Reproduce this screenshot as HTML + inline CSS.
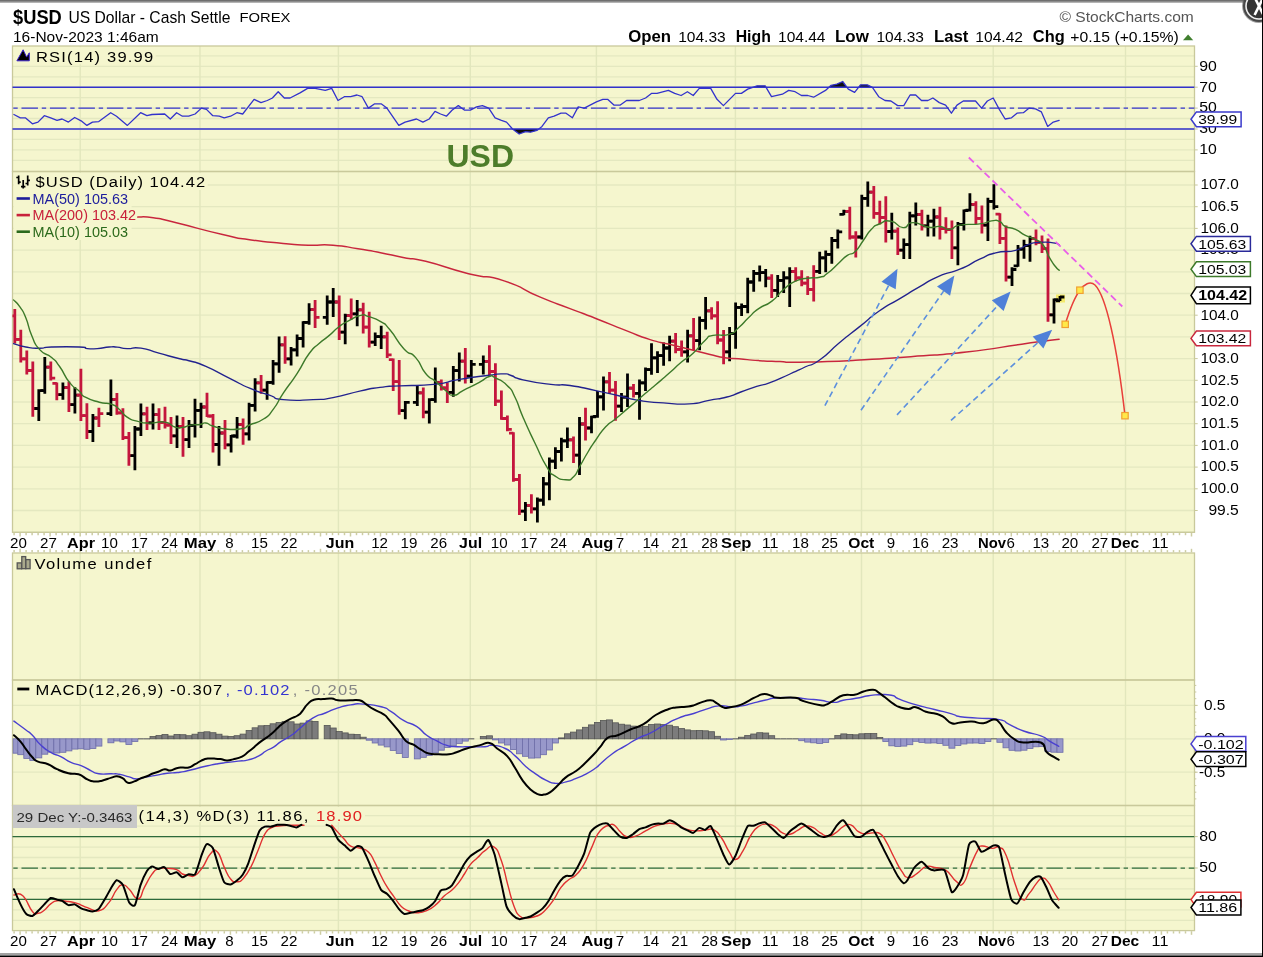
<!DOCTYPE html><html><head><meta charset="utf-8"><title>$USD</title>
<style>html,body{margin:0;padding:0;background:#fff;}body{width:1263px;height:957px;overflow:hidden;font-family:"Liberation Sans",sans-serif;}svg{display:block;will-change:transform;}text{font-family:"Liberation Sans",sans-serif;}</style></head><body>
<svg width="1263" height="957" viewBox="0 0 1263 957">
<rect width="1263" height="957" fill="#fff"/>
<defs><filter id="bl" x="0" y="0" width="1263" height="957" filterUnits="userSpaceOnUse"><feGaussianBlur stdDeviation="0.42"/></filter></defs><g filter="url(#bl)">
<rect x="12.5" y="46.0" width="1182.0" height="125.5" fill="#f5f6ce"/>
<rect x="12.5" y="171.5" width="1182.0" height="360.8" fill="#f5f6ce"/>
<rect x="12.5" y="553.0" width="1182.0" height="127.0" fill="#f5f6ce"/>
<rect x="12.5" y="680.0" width="1182.0" height="125.5" fill="#f5f6ce"/>
<rect x="12.5" y="805.5" width="1182.0" height="125.1" fill="#f5f6ce"/>
<line x1="12.5" x2="1194.5" y1="160.3" y2="160.3" stroke="#e4e8c0" stroke-width="1.3"/>
<line x1="12.5" x2="1194.5" y1="149.9" y2="149.9" stroke="#e4e8c0" stroke-width="1.3"/>
<line x1="12.5" x2="1194.5" y1="139.4" y2="139.4" stroke="#e4e8c0" stroke-width="1.3"/>
<line x1="12.5" x2="1194.5" y1="129.0" y2="129.0" stroke="#e4e8c0" stroke-width="1.3"/>
<line x1="12.5" x2="1194.5" y1="118.5" y2="118.5" stroke="#e4e8c0" stroke-width="1.3"/>
<line x1="12.5" x2="1194.5" y1="108.1" y2="108.1" stroke="#e4e8c0" stroke-width="1.3"/>
<line x1="12.5" x2="1194.5" y1="97.6" y2="97.6" stroke="#e4e8c0" stroke-width="1.3"/>
<line x1="12.5" x2="1194.5" y1="87.2" y2="87.2" stroke="#e4e8c0" stroke-width="1.3"/>
<line x1="12.5" x2="1194.5" y1="76.8" y2="76.8" stroke="#e4e8c0" stroke-width="1.3"/>
<line x1="12.5" x2="1194.5" y1="66.3" y2="66.3" stroke="#e4e8c0" stroke-width="1.3"/>
<line x1="12.5" x2="1194.5" y1="55.8" y2="55.8" stroke="#e4e8c0" stroke-width="1.3"/>
<line x1="12.5" x2="1194.5" y1="532.2" y2="532.2" stroke="#e4e8c0" stroke-width="1.3"/>
<line x1="12.5" x2="1194.5" y1="510.5" y2="510.5" stroke="#e4e8c0" stroke-width="1.3"/>
<line x1="12.5" x2="1194.5" y1="488.8" y2="488.8" stroke="#e4e8c0" stroke-width="1.3"/>
<line x1="12.5" x2="1194.5" y1="467.1" y2="467.1" stroke="#e4e8c0" stroke-width="1.3"/>
<line x1="12.5" x2="1194.5" y1="445.4" y2="445.4" stroke="#e4e8c0" stroke-width="1.3"/>
<line x1="12.5" x2="1194.5" y1="423.7" y2="423.7" stroke="#e4e8c0" stroke-width="1.3"/>
<line x1="12.5" x2="1194.5" y1="402.0" y2="402.0" stroke="#e4e8c0" stroke-width="1.3"/>
<line x1="12.5" x2="1194.5" y1="380.3" y2="380.3" stroke="#e4e8c0" stroke-width="1.3"/>
<line x1="12.5" x2="1194.5" y1="358.6" y2="358.6" stroke="#e4e8c0" stroke-width="1.3"/>
<line x1="12.5" x2="1194.5" y1="336.9" y2="336.9" stroke="#e4e8c0" stroke-width="1.3"/>
<line x1="12.5" x2="1194.5" y1="315.2" y2="315.2" stroke="#e4e8c0" stroke-width="1.3"/>
<line x1="12.5" x2="1194.5" y1="293.5" y2="293.5" stroke="#e4e8c0" stroke-width="1.3"/>
<line x1="12.5" x2="1194.5" y1="271.8" y2="271.8" stroke="#e4e8c0" stroke-width="1.3"/>
<line x1="12.5" x2="1194.5" y1="250.1" y2="250.1" stroke="#e4e8c0" stroke-width="1.3"/>
<line x1="12.5" x2="1194.5" y1="228.4" y2="228.4" stroke="#e4e8c0" stroke-width="1.3"/>
<line x1="12.5" x2="1194.5" y1="206.7" y2="206.7" stroke="#e4e8c0" stroke-width="1.3"/>
<line x1="12.5" x2="1194.5" y1="185.0" y2="185.0" stroke="#e4e8c0" stroke-width="1.3"/>
<line x1="12.5" x2="1194.5" y1="772.2" y2="772.2" stroke="#e4e8c0" stroke-width="1.3"/>
<line x1="12.5" x2="1194.5" y1="738.8" y2="738.8" stroke="#e4e8c0" stroke-width="1.3"/>
<line x1="12.5" x2="1194.5" y1="705.4" y2="705.4" stroke="#e4e8c0" stroke-width="1.3"/>
<line x1="12.5" x2="1194.5" y1="920.3" y2="920.3" stroke="#e4e8c0" stroke-width="1.3"/>
<line x1="12.5" x2="1194.5" y1="909.8" y2="909.8" stroke="#e4e8c0" stroke-width="1.3"/>
<line x1="12.5" x2="1194.5" y1="899.4" y2="899.4" stroke="#e4e8c0" stroke-width="1.3"/>
<line x1="12.5" x2="1194.5" y1="888.9" y2="888.9" stroke="#e4e8c0" stroke-width="1.3"/>
<line x1="12.5" x2="1194.5" y1="878.5" y2="878.5" stroke="#e4e8c0" stroke-width="1.3"/>
<line x1="12.5" x2="1194.5" y1="868.0" y2="868.0" stroke="#e4e8c0" stroke-width="1.3"/>
<line x1="12.5" x2="1194.5" y1="857.5" y2="857.5" stroke="#e4e8c0" stroke-width="1.3"/>
<line x1="12.5" x2="1194.5" y1="847.1" y2="847.1" stroke="#e4e8c0" stroke-width="1.3"/>
<line x1="12.5" x2="1194.5" y1="836.6" y2="836.6" stroke="#e4e8c0" stroke-width="1.3"/>
<line x1="12.5" x2="1194.5" y1="826.2" y2="826.2" stroke="#e4e8c0" stroke-width="1.3"/>
<line x1="12.5" x2="1194.5" y1="815.7" y2="815.7" stroke="#e4e8c0" stroke-width="1.3"/>
<line x1="80.2" x2="80.2" y1="46.0" y2="171.5" stroke="#e2e7bd" stroke-width="1.4"/>
<line x1="200.0" x2="200.0" y1="46.0" y2="171.5" stroke="#e2e7bd" stroke-width="1.4"/>
<line x1="338.4" x2="338.4" y1="46.0" y2="171.5" stroke="#e2e7bd" stroke-width="1.4"/>
<line x1="470.3" x2="470.3" y1="46.0" y2="171.5" stroke="#e2e7bd" stroke-width="1.4"/>
<line x1="596.4" x2="596.4" y1="46.0" y2="171.5" stroke="#e2e7bd" stroke-width="1.4"/>
<line x1="735.4" x2="735.4" y1="46.0" y2="171.5" stroke="#e2e7bd" stroke-width="1.4"/>
<line x1="861.5" x2="861.5" y1="46.0" y2="171.5" stroke="#e2e7bd" stroke-width="1.4"/>
<line x1="993.2" x2="993.2" y1="46.0" y2="171.5" stroke="#e2e7bd" stroke-width="1.4"/>
<line x1="1125.5" x2="1125.5" y1="46.0" y2="171.5" stroke="#e2e7bd" stroke-width="1.4"/>
<line x1="80.2" x2="80.2" y1="171.5" y2="532.3" stroke="#e2e7bd" stroke-width="1.4"/>
<line x1="200.0" x2="200.0" y1="171.5" y2="532.3" stroke="#e2e7bd" stroke-width="1.4"/>
<line x1="338.4" x2="338.4" y1="171.5" y2="532.3" stroke="#e2e7bd" stroke-width="1.4"/>
<line x1="470.3" x2="470.3" y1="171.5" y2="532.3" stroke="#e2e7bd" stroke-width="1.4"/>
<line x1="596.4" x2="596.4" y1="171.5" y2="532.3" stroke="#e2e7bd" stroke-width="1.4"/>
<line x1="735.4" x2="735.4" y1="171.5" y2="532.3" stroke="#e2e7bd" stroke-width="1.4"/>
<line x1="861.5" x2="861.5" y1="171.5" y2="532.3" stroke="#e2e7bd" stroke-width="1.4"/>
<line x1="993.2" x2="993.2" y1="171.5" y2="532.3" stroke="#e2e7bd" stroke-width="1.4"/>
<line x1="1125.5" x2="1125.5" y1="171.5" y2="532.3" stroke="#e2e7bd" stroke-width="1.4"/>
<line x1="80.2" x2="80.2" y1="553.0" y2="680.0" stroke="#e2e7bd" stroke-width="1.4"/>
<line x1="200.0" x2="200.0" y1="553.0" y2="680.0" stroke="#e2e7bd" stroke-width="1.4"/>
<line x1="338.4" x2="338.4" y1="553.0" y2="680.0" stroke="#e2e7bd" stroke-width="1.4"/>
<line x1="470.3" x2="470.3" y1="553.0" y2="680.0" stroke="#e2e7bd" stroke-width="1.4"/>
<line x1="596.4" x2="596.4" y1="553.0" y2="680.0" stroke="#e2e7bd" stroke-width="1.4"/>
<line x1="735.4" x2="735.4" y1="553.0" y2="680.0" stroke="#e2e7bd" stroke-width="1.4"/>
<line x1="861.5" x2="861.5" y1="553.0" y2="680.0" stroke="#e2e7bd" stroke-width="1.4"/>
<line x1="993.2" x2="993.2" y1="553.0" y2="680.0" stroke="#e2e7bd" stroke-width="1.4"/>
<line x1="1125.5" x2="1125.5" y1="553.0" y2="680.0" stroke="#e2e7bd" stroke-width="1.4"/>
<line x1="80.2" x2="80.2" y1="680.0" y2="805.5" stroke="#e2e7bd" stroke-width="1.4"/>
<line x1="200.0" x2="200.0" y1="680.0" y2="805.5" stroke="#e2e7bd" stroke-width="1.4"/>
<line x1="338.4" x2="338.4" y1="680.0" y2="805.5" stroke="#e2e7bd" stroke-width="1.4"/>
<line x1="470.3" x2="470.3" y1="680.0" y2="805.5" stroke="#e2e7bd" stroke-width="1.4"/>
<line x1="596.4" x2="596.4" y1="680.0" y2="805.5" stroke="#e2e7bd" stroke-width="1.4"/>
<line x1="735.4" x2="735.4" y1="680.0" y2="805.5" stroke="#e2e7bd" stroke-width="1.4"/>
<line x1="861.5" x2="861.5" y1="680.0" y2="805.5" stroke="#e2e7bd" stroke-width="1.4"/>
<line x1="993.2" x2="993.2" y1="680.0" y2="805.5" stroke="#e2e7bd" stroke-width="1.4"/>
<line x1="1125.5" x2="1125.5" y1="680.0" y2="805.5" stroke="#e2e7bd" stroke-width="1.4"/>
<line x1="80.2" x2="80.2" y1="805.5" y2="930.6" stroke="#e2e7bd" stroke-width="1.4"/>
<line x1="200.0" x2="200.0" y1="805.5" y2="930.6" stroke="#e2e7bd" stroke-width="1.4"/>
<line x1="338.4" x2="338.4" y1="805.5" y2="930.6" stroke="#e2e7bd" stroke-width="1.4"/>
<line x1="470.3" x2="470.3" y1="805.5" y2="930.6" stroke="#e2e7bd" stroke-width="1.4"/>
<line x1="596.4" x2="596.4" y1="805.5" y2="930.6" stroke="#e2e7bd" stroke-width="1.4"/>
<line x1="735.4" x2="735.4" y1="805.5" y2="930.6" stroke="#e2e7bd" stroke-width="1.4"/>
<line x1="861.5" x2="861.5" y1="805.5" y2="930.6" stroke="#e2e7bd" stroke-width="1.4"/>
<line x1="993.2" x2="993.2" y1="805.5" y2="930.6" stroke="#e2e7bd" stroke-width="1.4"/>
<line x1="1125.5" x2="1125.5" y1="805.5" y2="930.6" stroke="#e2e7bd" stroke-width="1.4"/>
<rect x="12.5" y="46.0" width="1182.0" height="125.5" fill="none" stroke="#c9c99b" stroke-width="1.3"/>
<rect x="12.5" y="171.5" width="1182.0" height="360.8" fill="none" stroke="#c9c99b" stroke-width="1.3"/>
<rect x="12.5" y="553.0" width="1182.0" height="127.0" fill="none" stroke="#c9c99b" stroke-width="1.3"/>
<rect x="12.5" y="680.0" width="1182.0" height="125.5" fill="none" stroke="#c9c99b" stroke-width="1.3"/>
<rect x="12.5" y="805.5" width="1182.0" height="125.1" fill="none" stroke="#c9c99b" stroke-width="1.3"/>
<line x1="14.1" x2="14.1" y1="532.9" y2="535.2" stroke="#cdcda3" stroke-width="1.5"/>
<line x1="20.1" x2="20.1" y1="532.9" y2="536.5" stroke="#cdcda3" stroke-width="1.5"/>
<line x1="26.1" x2="26.1" y1="532.9" y2="535.2" stroke="#cdcda3" stroke-width="1.5"/>
<line x1="32.1" x2="32.1" y1="532.9" y2="535.2" stroke="#cdcda3" stroke-width="1.5"/>
<line x1="38.1" x2="38.1" y1="532.9" y2="535.2" stroke="#cdcda3" stroke-width="1.5"/>
<line x1="44.1" x2="44.1" y1="532.9" y2="535.2" stroke="#cdcda3" stroke-width="1.5"/>
<line x1="50.1" x2="50.1" y1="532.9" y2="536.5" stroke="#cdcda3" stroke-width="1.5"/>
<line x1="56.1" x2="56.1" y1="532.9" y2="535.2" stroke="#cdcda3" stroke-width="1.5"/>
<line x1="62.2" x2="62.2" y1="532.9" y2="535.2" stroke="#cdcda3" stroke-width="1.5"/>
<line x1="68.2" x2="68.2" y1="532.9" y2="535.2" stroke="#cdcda3" stroke-width="1.5"/>
<line x1="74.2" x2="74.2" y1="532.9" y2="535.2" stroke="#cdcda3" stroke-width="1.5"/>
<line x1="80.2" x2="80.2" y1="532.9" y2="536.5" stroke="#cdcda3" stroke-width="1.5"/>
<line x1="86.2" x2="86.2" y1="532.9" y2="535.2" stroke="#cdcda3" stroke-width="1.5"/>
<line x1="92.2" x2="92.2" y1="532.9" y2="535.2" stroke="#cdcda3" stroke-width="1.5"/>
<line x1="98.2" x2="98.2" y1="532.9" y2="535.2" stroke="#cdcda3" stroke-width="1.5"/>
<line x1="104.2" x2="104.2" y1="532.9" y2="535.2" stroke="#cdcda3" stroke-width="1.5"/>
<line x1="110.2" x2="110.2" y1="532.9" y2="536.5" stroke="#cdcda3" stroke-width="1.5"/>
<line x1="116.2" x2="116.2" y1="532.9" y2="535.2" stroke="#cdcda3" stroke-width="1.5"/>
<line x1="122.2" x2="122.2" y1="532.9" y2="535.2" stroke="#cdcda3" stroke-width="1.5"/>
<line x1="128.2" x2="128.2" y1="532.9" y2="535.2" stroke="#cdcda3" stroke-width="1.5"/>
<line x1="134.2" x2="134.2" y1="532.9" y2="535.2" stroke="#cdcda3" stroke-width="1.5"/>
<line x1="140.2" x2="140.2" y1="532.9" y2="536.5" stroke="#cdcda3" stroke-width="1.5"/>
<line x1="146.3" x2="146.3" y1="532.9" y2="535.2" stroke="#cdcda3" stroke-width="1.5"/>
<line x1="152.3" x2="152.3" y1="532.9" y2="535.2" stroke="#cdcda3" stroke-width="1.5"/>
<line x1="158.3" x2="158.3" y1="532.9" y2="535.2" stroke="#cdcda3" stroke-width="1.5"/>
<line x1="164.3" x2="164.3" y1="532.9" y2="535.2" stroke="#cdcda3" stroke-width="1.5"/>
<line x1="170.3" x2="170.3" y1="532.9" y2="536.5" stroke="#cdcda3" stroke-width="1.5"/>
<line x1="176.3" x2="176.3" y1="532.9" y2="535.2" stroke="#cdcda3" stroke-width="1.5"/>
<line x1="182.3" x2="182.3" y1="532.9" y2="535.2" stroke="#cdcda3" stroke-width="1.5"/>
<line x1="188.3" x2="188.3" y1="532.9" y2="535.2" stroke="#cdcda3" stroke-width="1.5"/>
<line x1="194.3" x2="194.3" y1="532.9" y2="535.2" stroke="#cdcda3" stroke-width="1.5"/>
<line x1="200.3" x2="200.3" y1="532.9" y2="536.5" stroke="#cdcda3" stroke-width="1.5"/>
<line x1="206.3" x2="206.3" y1="532.9" y2="535.2" stroke="#cdcda3" stroke-width="1.5"/>
<line x1="212.3" x2="212.3" y1="532.9" y2="535.2" stroke="#cdcda3" stroke-width="1.5"/>
<line x1="218.3" x2="218.3" y1="532.9" y2="535.2" stroke="#cdcda3" stroke-width="1.5"/>
<line x1="224.3" x2="224.3" y1="532.9" y2="535.2" stroke="#cdcda3" stroke-width="1.5"/>
<line x1="230.4" x2="230.4" y1="532.9" y2="536.5" stroke="#cdcda3" stroke-width="1.5"/>
<line x1="236.4" x2="236.4" y1="532.9" y2="535.2" stroke="#cdcda3" stroke-width="1.5"/>
<line x1="242.4" x2="242.4" y1="532.9" y2="535.2" stroke="#cdcda3" stroke-width="1.5"/>
<line x1="248.4" x2="248.4" y1="532.9" y2="535.2" stroke="#cdcda3" stroke-width="1.5"/>
<line x1="254.4" x2="254.4" y1="532.9" y2="535.2" stroke="#cdcda3" stroke-width="1.5"/>
<line x1="260.4" x2="260.4" y1="532.9" y2="536.5" stroke="#cdcda3" stroke-width="1.5"/>
<line x1="266.4" x2="266.4" y1="532.9" y2="535.2" stroke="#cdcda3" stroke-width="1.5"/>
<line x1="272.4" x2="272.4" y1="532.9" y2="535.2" stroke="#cdcda3" stroke-width="1.5"/>
<line x1="278.4" x2="278.4" y1="532.9" y2="535.2" stroke="#cdcda3" stroke-width="1.5"/>
<line x1="284.4" x2="284.4" y1="532.9" y2="535.2" stroke="#cdcda3" stroke-width="1.5"/>
<line x1="290.4" x2="290.4" y1="532.9" y2="536.5" stroke="#cdcda3" stroke-width="1.5"/>
<line x1="296.4" x2="296.4" y1="532.9" y2="535.2" stroke="#cdcda3" stroke-width="1.5"/>
<line x1="302.4" x2="302.4" y1="532.9" y2="535.2" stroke="#cdcda3" stroke-width="1.5"/>
<line x1="308.4" x2="308.4" y1="532.9" y2="535.2" stroke="#cdcda3" stroke-width="1.5"/>
<line x1="314.4" x2="314.4" y1="532.9" y2="535.2" stroke="#cdcda3" stroke-width="1.5"/>
<line x1="320.5" x2="320.5" y1="532.9" y2="536.5" stroke="#cdcda3" stroke-width="1.5"/>
<line x1="326.5" x2="326.5" y1="532.9" y2="535.2" stroke="#cdcda3" stroke-width="1.5"/>
<line x1="332.5" x2="332.5" y1="532.9" y2="535.2" stroke="#cdcda3" stroke-width="1.5"/>
<line x1="338.5" x2="338.5" y1="532.9" y2="535.2" stroke="#cdcda3" stroke-width="1.5"/>
<line x1="344.5" x2="344.5" y1="532.9" y2="535.2" stroke="#cdcda3" stroke-width="1.5"/>
<line x1="350.5" x2="350.5" y1="532.9" y2="536.5" stroke="#cdcda3" stroke-width="1.5"/>
<line x1="356.5" x2="356.5" y1="532.9" y2="535.2" stroke="#cdcda3" stroke-width="1.5"/>
<line x1="362.5" x2="362.5" y1="532.9" y2="535.2" stroke="#cdcda3" stroke-width="1.5"/>
<line x1="368.5" x2="368.5" y1="532.9" y2="535.2" stroke="#cdcda3" stroke-width="1.5"/>
<line x1="374.5" x2="374.5" y1="532.9" y2="535.2" stroke="#cdcda3" stroke-width="1.5"/>
<line x1="380.5" x2="380.5" y1="532.9" y2="536.5" stroke="#cdcda3" stroke-width="1.5"/>
<line x1="386.5" x2="386.5" y1="532.9" y2="535.2" stroke="#cdcda3" stroke-width="1.5"/>
<line x1="392.5" x2="392.5" y1="532.9" y2="535.2" stroke="#cdcda3" stroke-width="1.5"/>
<line x1="398.5" x2="398.5" y1="532.9" y2="535.2" stroke="#cdcda3" stroke-width="1.5"/>
<line x1="404.6" x2="404.6" y1="532.9" y2="535.2" stroke="#cdcda3" stroke-width="1.5"/>
<line x1="410.6" x2="410.6" y1="532.9" y2="536.5" stroke="#cdcda3" stroke-width="1.5"/>
<line x1="416.6" x2="416.6" y1="532.9" y2="535.2" stroke="#cdcda3" stroke-width="1.5"/>
<line x1="422.6" x2="422.6" y1="532.9" y2="535.2" stroke="#cdcda3" stroke-width="1.5"/>
<line x1="428.6" x2="428.6" y1="532.9" y2="535.2" stroke="#cdcda3" stroke-width="1.5"/>
<line x1="434.6" x2="434.6" y1="532.9" y2="535.2" stroke="#cdcda3" stroke-width="1.5"/>
<line x1="440.6" x2="440.6" y1="532.9" y2="536.5" stroke="#cdcda3" stroke-width="1.5"/>
<line x1="446.6" x2="446.6" y1="532.9" y2="535.2" stroke="#cdcda3" stroke-width="1.5"/>
<line x1="452.6" x2="452.6" y1="532.9" y2="535.2" stroke="#cdcda3" stroke-width="1.5"/>
<line x1="458.6" x2="458.6" y1="532.9" y2="535.2" stroke="#cdcda3" stroke-width="1.5"/>
<line x1="464.6" x2="464.6" y1="532.9" y2="535.2" stroke="#cdcda3" stroke-width="1.5"/>
<line x1="470.6" x2="470.6" y1="532.9" y2="536.5" stroke="#cdcda3" stroke-width="1.5"/>
<line x1="476.6" x2="476.6" y1="532.9" y2="535.2" stroke="#cdcda3" stroke-width="1.5"/>
<line x1="482.6" x2="482.6" y1="532.9" y2="535.2" stroke="#cdcda3" stroke-width="1.5"/>
<line x1="488.7" x2="488.7" y1="532.9" y2="535.2" stroke="#cdcda3" stroke-width="1.5"/>
<line x1="494.7" x2="494.7" y1="532.9" y2="535.2" stroke="#cdcda3" stroke-width="1.5"/>
<line x1="500.7" x2="500.7" y1="532.9" y2="536.5" stroke="#cdcda3" stroke-width="1.5"/>
<line x1="506.7" x2="506.7" y1="532.9" y2="535.2" stroke="#cdcda3" stroke-width="1.5"/>
<line x1="512.7" x2="512.7" y1="532.9" y2="535.2" stroke="#cdcda3" stroke-width="1.5"/>
<line x1="518.7" x2="518.7" y1="532.9" y2="535.2" stroke="#cdcda3" stroke-width="1.5"/>
<line x1="524.7" x2="524.7" y1="532.9" y2="535.2" stroke="#cdcda3" stroke-width="1.5"/>
<line x1="530.7" x2="530.7" y1="532.9" y2="536.5" stroke="#cdcda3" stroke-width="1.5"/>
<line x1="536.7" x2="536.7" y1="532.9" y2="535.2" stroke="#cdcda3" stroke-width="1.5"/>
<line x1="542.7" x2="542.7" y1="532.9" y2="535.2" stroke="#cdcda3" stroke-width="1.5"/>
<line x1="548.7" x2="548.7" y1="532.9" y2="535.2" stroke="#cdcda3" stroke-width="1.5"/>
<line x1="554.7" x2="554.7" y1="532.9" y2="535.2" stroke="#cdcda3" stroke-width="1.5"/>
<line x1="560.7" x2="560.7" y1="532.9" y2="536.5" stroke="#cdcda3" stroke-width="1.5"/>
<line x1="566.7" x2="566.7" y1="532.9" y2="535.2" stroke="#cdcda3" stroke-width="1.5"/>
<line x1="572.8" x2="572.8" y1="532.9" y2="535.2" stroke="#cdcda3" stroke-width="1.5"/>
<line x1="578.8" x2="578.8" y1="532.9" y2="535.2" stroke="#cdcda3" stroke-width="1.5"/>
<line x1="584.8" x2="584.8" y1="532.9" y2="535.2" stroke="#cdcda3" stroke-width="1.5"/>
<line x1="590.8" x2="590.8" y1="532.9" y2="536.5" stroke="#cdcda3" stroke-width="1.5"/>
<line x1="596.8" x2="596.8" y1="532.9" y2="535.2" stroke="#cdcda3" stroke-width="1.5"/>
<line x1="602.8" x2="602.8" y1="532.9" y2="535.2" stroke="#cdcda3" stroke-width="1.5"/>
<line x1="608.8" x2="608.8" y1="532.9" y2="535.2" stroke="#cdcda3" stroke-width="1.5"/>
<line x1="614.8" x2="614.8" y1="532.9" y2="535.2" stroke="#cdcda3" stroke-width="1.5"/>
<line x1="620.8" x2="620.8" y1="532.9" y2="536.5" stroke="#cdcda3" stroke-width="1.5"/>
<line x1="626.8" x2="626.8" y1="532.9" y2="535.2" stroke="#cdcda3" stroke-width="1.5"/>
<line x1="632.8" x2="632.8" y1="532.9" y2="535.2" stroke="#cdcda3" stroke-width="1.5"/>
<line x1="638.8" x2="638.8" y1="532.9" y2="535.2" stroke="#cdcda3" stroke-width="1.5"/>
<line x1="644.8" x2="644.8" y1="532.9" y2="535.2" stroke="#cdcda3" stroke-width="1.5"/>
<line x1="650.8" x2="650.8" y1="532.9" y2="536.5" stroke="#cdcda3" stroke-width="1.5"/>
<line x1="656.8" x2="656.8" y1="532.9" y2="535.2" stroke="#cdcda3" stroke-width="1.5"/>
<line x1="662.9" x2="662.9" y1="532.9" y2="535.2" stroke="#cdcda3" stroke-width="1.5"/>
<line x1="668.9" x2="668.9" y1="532.9" y2="535.2" stroke="#cdcda3" stroke-width="1.5"/>
<line x1="674.9" x2="674.9" y1="532.9" y2="535.2" stroke="#cdcda3" stroke-width="1.5"/>
<line x1="680.9" x2="680.9" y1="532.9" y2="536.5" stroke="#cdcda3" stroke-width="1.5"/>
<line x1="686.9" x2="686.9" y1="532.9" y2="535.2" stroke="#cdcda3" stroke-width="1.5"/>
<line x1="692.9" x2="692.9" y1="532.9" y2="535.2" stroke="#cdcda3" stroke-width="1.5"/>
<line x1="698.9" x2="698.9" y1="532.9" y2="535.2" stroke="#cdcda3" stroke-width="1.5"/>
<line x1="704.9" x2="704.9" y1="532.9" y2="535.2" stroke="#cdcda3" stroke-width="1.5"/>
<line x1="710.9" x2="710.9" y1="532.9" y2="536.5" stroke="#cdcda3" stroke-width="1.5"/>
<line x1="716.9" x2="716.9" y1="532.9" y2="535.2" stroke="#cdcda3" stroke-width="1.5"/>
<line x1="722.9" x2="722.9" y1="532.9" y2="535.2" stroke="#cdcda3" stroke-width="1.5"/>
<line x1="728.9" x2="728.9" y1="532.9" y2="535.2" stroke="#cdcda3" stroke-width="1.5"/>
<line x1="734.9" x2="734.9" y1="532.9" y2="535.2" stroke="#cdcda3" stroke-width="1.5"/>
<line x1="740.9" x2="740.9" y1="532.9" y2="536.5" stroke="#cdcda3" stroke-width="1.5"/>
<line x1="747.0" x2="747.0" y1="532.9" y2="535.2" stroke="#cdcda3" stroke-width="1.5"/>
<line x1="753.0" x2="753.0" y1="532.9" y2="535.2" stroke="#cdcda3" stroke-width="1.5"/>
<line x1="759.0" x2="759.0" y1="532.9" y2="535.2" stroke="#cdcda3" stroke-width="1.5"/>
<line x1="765.0" x2="765.0" y1="532.9" y2="535.2" stroke="#cdcda3" stroke-width="1.5"/>
<line x1="771.0" x2="771.0" y1="532.9" y2="536.5" stroke="#cdcda3" stroke-width="1.5"/>
<line x1="777.0" x2="777.0" y1="532.9" y2="535.2" stroke="#cdcda3" stroke-width="1.5"/>
<line x1="783.0" x2="783.0" y1="532.9" y2="535.2" stroke="#cdcda3" stroke-width="1.5"/>
<line x1="789.0" x2="789.0" y1="532.9" y2="535.2" stroke="#cdcda3" stroke-width="1.5"/>
<line x1="795.0" x2="795.0" y1="532.9" y2="535.2" stroke="#cdcda3" stroke-width="1.5"/>
<line x1="801.0" x2="801.0" y1="532.9" y2="536.5" stroke="#cdcda3" stroke-width="1.5"/>
<line x1="807.0" x2="807.0" y1="532.9" y2="535.2" stroke="#cdcda3" stroke-width="1.5"/>
<line x1="813.0" x2="813.0" y1="532.9" y2="535.2" stroke="#cdcda3" stroke-width="1.5"/>
<line x1="819.0" x2="819.0" y1="532.9" y2="535.2" stroke="#cdcda3" stroke-width="1.5"/>
<line x1="825.0" x2="825.0" y1="532.9" y2="535.2" stroke="#cdcda3" stroke-width="1.5"/>
<line x1="831.1" x2="831.1" y1="532.9" y2="536.5" stroke="#cdcda3" stroke-width="1.5"/>
<line x1="837.1" x2="837.1" y1="532.9" y2="535.2" stroke="#cdcda3" stroke-width="1.5"/>
<line x1="843.1" x2="843.1" y1="532.9" y2="535.2" stroke="#cdcda3" stroke-width="1.5"/>
<line x1="849.1" x2="849.1" y1="532.9" y2="535.2" stroke="#cdcda3" stroke-width="1.5"/>
<line x1="855.1" x2="855.1" y1="532.9" y2="535.2" stroke="#cdcda3" stroke-width="1.5"/>
<line x1="861.1" x2="861.1" y1="532.9" y2="536.5" stroke="#cdcda3" stroke-width="1.5"/>
<line x1="867.1" x2="867.1" y1="532.9" y2="535.2" stroke="#cdcda3" stroke-width="1.5"/>
<line x1="873.1" x2="873.1" y1="532.9" y2="535.2" stroke="#cdcda3" stroke-width="1.5"/>
<line x1="879.1" x2="879.1" y1="532.9" y2="535.2" stroke="#cdcda3" stroke-width="1.5"/>
<line x1="885.1" x2="885.1" y1="532.9" y2="535.2" stroke="#cdcda3" stroke-width="1.5"/>
<line x1="891.1" x2="891.1" y1="532.9" y2="536.5" stroke="#cdcda3" stroke-width="1.5"/>
<line x1="897.1" x2="897.1" y1="532.9" y2="535.2" stroke="#cdcda3" stroke-width="1.5"/>
<line x1="903.1" x2="903.1" y1="532.9" y2="535.2" stroke="#cdcda3" stroke-width="1.5"/>
<line x1="909.1" x2="909.1" y1="532.9" y2="535.2" stroke="#cdcda3" stroke-width="1.5"/>
<line x1="915.1" x2="915.1" y1="532.9" y2="535.2" stroke="#cdcda3" stroke-width="1.5"/>
<line x1="921.2" x2="921.2" y1="532.9" y2="536.5" stroke="#cdcda3" stroke-width="1.5"/>
<line x1="927.2" x2="927.2" y1="532.9" y2="535.2" stroke="#cdcda3" stroke-width="1.5"/>
<line x1="933.2" x2="933.2" y1="532.9" y2="535.2" stroke="#cdcda3" stroke-width="1.5"/>
<line x1="939.2" x2="939.2" y1="532.9" y2="535.2" stroke="#cdcda3" stroke-width="1.5"/>
<line x1="945.2" x2="945.2" y1="532.9" y2="535.2" stroke="#cdcda3" stroke-width="1.5"/>
<line x1="951.2" x2="951.2" y1="532.9" y2="536.5" stroke="#cdcda3" stroke-width="1.5"/>
<line x1="957.2" x2="957.2" y1="532.9" y2="535.2" stroke="#cdcda3" stroke-width="1.5"/>
<line x1="963.2" x2="963.2" y1="532.9" y2="535.2" stroke="#cdcda3" stroke-width="1.5"/>
<line x1="969.2" x2="969.2" y1="532.9" y2="535.2" stroke="#cdcda3" stroke-width="1.5"/>
<line x1="975.2" x2="975.2" y1="532.9" y2="535.2" stroke="#cdcda3" stroke-width="1.5"/>
<line x1="981.2" x2="981.2" y1="532.9" y2="536.5" stroke="#cdcda3" stroke-width="1.5"/>
<line x1="987.2" x2="987.2" y1="532.9" y2="535.2" stroke="#cdcda3" stroke-width="1.5"/>
<line x1="993.2" x2="993.2" y1="532.9" y2="535.2" stroke="#cdcda3" stroke-width="1.5"/>
<line x1="999.2" x2="999.2" y1="532.9" y2="535.2" stroke="#cdcda3" stroke-width="1.5"/>
<line x1="1005.3" x2="1005.3" y1="532.9" y2="535.2" stroke="#cdcda3" stroke-width="1.5"/>
<line x1="1011.3" x2="1011.3" y1="532.9" y2="536.5" stroke="#cdcda3" stroke-width="1.5"/>
<line x1="1017.3" x2="1017.3" y1="532.9" y2="535.2" stroke="#cdcda3" stroke-width="1.5"/>
<line x1="1023.3" x2="1023.3" y1="532.9" y2="535.2" stroke="#cdcda3" stroke-width="1.5"/>
<line x1="1029.3" x2="1029.3" y1="532.9" y2="535.2" stroke="#cdcda3" stroke-width="1.5"/>
<line x1="1035.3" x2="1035.3" y1="532.9" y2="535.2" stroke="#cdcda3" stroke-width="1.5"/>
<line x1="1041.3" x2="1041.3" y1="532.9" y2="536.5" stroke="#cdcda3" stroke-width="1.5"/>
<line x1="1047.3" x2="1047.3" y1="532.9" y2="535.2" stroke="#cdcda3" stroke-width="1.5"/>
<line x1="1053.3" x2="1053.3" y1="532.9" y2="535.2" stroke="#cdcda3" stroke-width="1.5"/>
<line x1="1059.3" x2="1059.3" y1="532.9" y2="535.2" stroke="#cdcda3" stroke-width="1.5"/>
<line x1="1065.3" x2="1065.3" y1="532.9" y2="535.2" stroke="#cdcda3" stroke-width="1.5"/>
<line x1="1071.3" x2="1071.3" y1="532.9" y2="536.5" stroke="#cdcda3" stroke-width="1.5"/>
<line x1="1077.3" x2="1077.3" y1="532.9" y2="535.2" stroke="#cdcda3" stroke-width="1.5"/>
<line x1="1083.3" x2="1083.3" y1="532.9" y2="535.2" stroke="#cdcda3" stroke-width="1.5"/>
<line x1="1089.4" x2="1089.4" y1="532.9" y2="535.2" stroke="#cdcda3" stroke-width="1.5"/>
<line x1="1095.4" x2="1095.4" y1="532.9" y2="535.2" stroke="#cdcda3" stroke-width="1.5"/>
<line x1="1101.4" x2="1101.4" y1="532.9" y2="536.5" stroke="#cdcda3" stroke-width="1.5"/>
<line x1="1107.4" x2="1107.4" y1="532.9" y2="535.2" stroke="#cdcda3" stroke-width="1.5"/>
<line x1="1113.4" x2="1113.4" y1="532.9" y2="535.2" stroke="#cdcda3" stroke-width="1.5"/>
<line x1="1119.4" x2="1119.4" y1="532.9" y2="535.2" stroke="#cdcda3" stroke-width="1.5"/>
<line x1="1125.4" x2="1125.4" y1="532.9" y2="535.2" stroke="#cdcda3" stroke-width="1.5"/>
<line x1="1131.4" x2="1131.4" y1="532.9" y2="536.5" stroke="#cdcda3" stroke-width="1.5"/>
<line x1="1137.4" x2="1137.4" y1="532.9" y2="535.2" stroke="#cdcda3" stroke-width="1.5"/>
<line x1="1143.4" x2="1143.4" y1="532.9" y2="535.2" stroke="#cdcda3" stroke-width="1.5"/>
<line x1="1149.4" x2="1149.4" y1="532.9" y2="535.2" stroke="#cdcda3" stroke-width="1.5"/>
<line x1="1155.4" x2="1155.4" y1="532.9" y2="535.2" stroke="#cdcda3" stroke-width="1.5"/>
<line x1="1161.4" x2="1161.4" y1="532.9" y2="536.5" stroke="#cdcda3" stroke-width="1.5"/>
<line x1="1167.4" x2="1167.4" y1="532.9" y2="535.2" stroke="#cdcda3" stroke-width="1.5"/>
<line x1="1173.5" x2="1173.5" y1="532.9" y2="535.2" stroke="#cdcda3" stroke-width="1.5"/>
<line x1="1179.5" x2="1179.5" y1="532.9" y2="535.2" stroke="#cdcda3" stroke-width="1.5"/>
<line x1="1185.5" x2="1185.5" y1="532.9" y2="535.2" stroke="#cdcda3" stroke-width="1.5"/>
<line x1="1191.5" x2="1191.5" y1="532.9" y2="536.5" stroke="#cdcda3" stroke-width="1.5"/>
<line x1="14.1" x2="14.1" y1="552.4" y2="550.1" stroke="#cdcda3" stroke-width="1.5"/>
<line x1="20.1" x2="20.1" y1="552.4" y2="548.8" stroke="#cdcda3" stroke-width="1.5"/>
<line x1="26.1" x2="26.1" y1="552.4" y2="550.1" stroke="#cdcda3" stroke-width="1.5"/>
<line x1="32.1" x2="32.1" y1="552.4" y2="550.1" stroke="#cdcda3" stroke-width="1.5"/>
<line x1="38.1" x2="38.1" y1="552.4" y2="550.1" stroke="#cdcda3" stroke-width="1.5"/>
<line x1="44.1" x2="44.1" y1="552.4" y2="550.1" stroke="#cdcda3" stroke-width="1.5"/>
<line x1="50.1" x2="50.1" y1="552.4" y2="548.8" stroke="#cdcda3" stroke-width="1.5"/>
<line x1="56.1" x2="56.1" y1="552.4" y2="550.1" stroke="#cdcda3" stroke-width="1.5"/>
<line x1="62.2" x2="62.2" y1="552.4" y2="550.1" stroke="#cdcda3" stroke-width="1.5"/>
<line x1="68.2" x2="68.2" y1="552.4" y2="550.1" stroke="#cdcda3" stroke-width="1.5"/>
<line x1="74.2" x2="74.2" y1="552.4" y2="550.1" stroke="#cdcda3" stroke-width="1.5"/>
<line x1="80.2" x2="80.2" y1="552.4" y2="548.8" stroke="#cdcda3" stroke-width="1.5"/>
<line x1="86.2" x2="86.2" y1="552.4" y2="550.1" stroke="#cdcda3" stroke-width="1.5"/>
<line x1="92.2" x2="92.2" y1="552.4" y2="550.1" stroke="#cdcda3" stroke-width="1.5"/>
<line x1="98.2" x2="98.2" y1="552.4" y2="550.1" stroke="#cdcda3" stroke-width="1.5"/>
<line x1="104.2" x2="104.2" y1="552.4" y2="550.1" stroke="#cdcda3" stroke-width="1.5"/>
<line x1="110.2" x2="110.2" y1="552.4" y2="548.8" stroke="#cdcda3" stroke-width="1.5"/>
<line x1="116.2" x2="116.2" y1="552.4" y2="550.1" stroke="#cdcda3" stroke-width="1.5"/>
<line x1="122.2" x2="122.2" y1="552.4" y2="550.1" stroke="#cdcda3" stroke-width="1.5"/>
<line x1="128.2" x2="128.2" y1="552.4" y2="550.1" stroke="#cdcda3" stroke-width="1.5"/>
<line x1="134.2" x2="134.2" y1="552.4" y2="550.1" stroke="#cdcda3" stroke-width="1.5"/>
<line x1="140.2" x2="140.2" y1="552.4" y2="548.8" stroke="#cdcda3" stroke-width="1.5"/>
<line x1="146.3" x2="146.3" y1="552.4" y2="550.1" stroke="#cdcda3" stroke-width="1.5"/>
<line x1="152.3" x2="152.3" y1="552.4" y2="550.1" stroke="#cdcda3" stroke-width="1.5"/>
<line x1="158.3" x2="158.3" y1="552.4" y2="550.1" stroke="#cdcda3" stroke-width="1.5"/>
<line x1="164.3" x2="164.3" y1="552.4" y2="550.1" stroke="#cdcda3" stroke-width="1.5"/>
<line x1="170.3" x2="170.3" y1="552.4" y2="548.8" stroke="#cdcda3" stroke-width="1.5"/>
<line x1="176.3" x2="176.3" y1="552.4" y2="550.1" stroke="#cdcda3" stroke-width="1.5"/>
<line x1="182.3" x2="182.3" y1="552.4" y2="550.1" stroke="#cdcda3" stroke-width="1.5"/>
<line x1="188.3" x2="188.3" y1="552.4" y2="550.1" stroke="#cdcda3" stroke-width="1.5"/>
<line x1="194.3" x2="194.3" y1="552.4" y2="550.1" stroke="#cdcda3" stroke-width="1.5"/>
<line x1="200.3" x2="200.3" y1="552.4" y2="548.8" stroke="#cdcda3" stroke-width="1.5"/>
<line x1="206.3" x2="206.3" y1="552.4" y2="550.1" stroke="#cdcda3" stroke-width="1.5"/>
<line x1="212.3" x2="212.3" y1="552.4" y2="550.1" stroke="#cdcda3" stroke-width="1.5"/>
<line x1="218.3" x2="218.3" y1="552.4" y2="550.1" stroke="#cdcda3" stroke-width="1.5"/>
<line x1="224.3" x2="224.3" y1="552.4" y2="550.1" stroke="#cdcda3" stroke-width="1.5"/>
<line x1="230.4" x2="230.4" y1="552.4" y2="548.8" stroke="#cdcda3" stroke-width="1.5"/>
<line x1="236.4" x2="236.4" y1="552.4" y2="550.1" stroke="#cdcda3" stroke-width="1.5"/>
<line x1="242.4" x2="242.4" y1="552.4" y2="550.1" stroke="#cdcda3" stroke-width="1.5"/>
<line x1="248.4" x2="248.4" y1="552.4" y2="550.1" stroke="#cdcda3" stroke-width="1.5"/>
<line x1="254.4" x2="254.4" y1="552.4" y2="550.1" stroke="#cdcda3" stroke-width="1.5"/>
<line x1="260.4" x2="260.4" y1="552.4" y2="548.8" stroke="#cdcda3" stroke-width="1.5"/>
<line x1="266.4" x2="266.4" y1="552.4" y2="550.1" stroke="#cdcda3" stroke-width="1.5"/>
<line x1="272.4" x2="272.4" y1="552.4" y2="550.1" stroke="#cdcda3" stroke-width="1.5"/>
<line x1="278.4" x2="278.4" y1="552.4" y2="550.1" stroke="#cdcda3" stroke-width="1.5"/>
<line x1="284.4" x2="284.4" y1="552.4" y2="550.1" stroke="#cdcda3" stroke-width="1.5"/>
<line x1="290.4" x2="290.4" y1="552.4" y2="548.8" stroke="#cdcda3" stroke-width="1.5"/>
<line x1="296.4" x2="296.4" y1="552.4" y2="550.1" stroke="#cdcda3" stroke-width="1.5"/>
<line x1="302.4" x2="302.4" y1="552.4" y2="550.1" stroke="#cdcda3" stroke-width="1.5"/>
<line x1="308.4" x2="308.4" y1="552.4" y2="550.1" stroke="#cdcda3" stroke-width="1.5"/>
<line x1="314.4" x2="314.4" y1="552.4" y2="550.1" stroke="#cdcda3" stroke-width="1.5"/>
<line x1="320.5" x2="320.5" y1="552.4" y2="548.8" stroke="#cdcda3" stroke-width="1.5"/>
<line x1="326.5" x2="326.5" y1="552.4" y2="550.1" stroke="#cdcda3" stroke-width="1.5"/>
<line x1="332.5" x2="332.5" y1="552.4" y2="550.1" stroke="#cdcda3" stroke-width="1.5"/>
<line x1="338.5" x2="338.5" y1="552.4" y2="550.1" stroke="#cdcda3" stroke-width="1.5"/>
<line x1="344.5" x2="344.5" y1="552.4" y2="550.1" stroke="#cdcda3" stroke-width="1.5"/>
<line x1="350.5" x2="350.5" y1="552.4" y2="548.8" stroke="#cdcda3" stroke-width="1.5"/>
<line x1="356.5" x2="356.5" y1="552.4" y2="550.1" stroke="#cdcda3" stroke-width="1.5"/>
<line x1="362.5" x2="362.5" y1="552.4" y2="550.1" stroke="#cdcda3" stroke-width="1.5"/>
<line x1="368.5" x2="368.5" y1="552.4" y2="550.1" stroke="#cdcda3" stroke-width="1.5"/>
<line x1="374.5" x2="374.5" y1="552.4" y2="550.1" stroke="#cdcda3" stroke-width="1.5"/>
<line x1="380.5" x2="380.5" y1="552.4" y2="548.8" stroke="#cdcda3" stroke-width="1.5"/>
<line x1="386.5" x2="386.5" y1="552.4" y2="550.1" stroke="#cdcda3" stroke-width="1.5"/>
<line x1="392.5" x2="392.5" y1="552.4" y2="550.1" stroke="#cdcda3" stroke-width="1.5"/>
<line x1="398.5" x2="398.5" y1="552.4" y2="550.1" stroke="#cdcda3" stroke-width="1.5"/>
<line x1="404.6" x2="404.6" y1="552.4" y2="550.1" stroke="#cdcda3" stroke-width="1.5"/>
<line x1="410.6" x2="410.6" y1="552.4" y2="548.8" stroke="#cdcda3" stroke-width="1.5"/>
<line x1="416.6" x2="416.6" y1="552.4" y2="550.1" stroke="#cdcda3" stroke-width="1.5"/>
<line x1="422.6" x2="422.6" y1="552.4" y2="550.1" stroke="#cdcda3" stroke-width="1.5"/>
<line x1="428.6" x2="428.6" y1="552.4" y2="550.1" stroke="#cdcda3" stroke-width="1.5"/>
<line x1="434.6" x2="434.6" y1="552.4" y2="550.1" stroke="#cdcda3" stroke-width="1.5"/>
<line x1="440.6" x2="440.6" y1="552.4" y2="548.8" stroke="#cdcda3" stroke-width="1.5"/>
<line x1="446.6" x2="446.6" y1="552.4" y2="550.1" stroke="#cdcda3" stroke-width="1.5"/>
<line x1="452.6" x2="452.6" y1="552.4" y2="550.1" stroke="#cdcda3" stroke-width="1.5"/>
<line x1="458.6" x2="458.6" y1="552.4" y2="550.1" stroke="#cdcda3" stroke-width="1.5"/>
<line x1="464.6" x2="464.6" y1="552.4" y2="550.1" stroke="#cdcda3" stroke-width="1.5"/>
<line x1="470.6" x2="470.6" y1="552.4" y2="548.8" stroke="#cdcda3" stroke-width="1.5"/>
<line x1="476.6" x2="476.6" y1="552.4" y2="550.1" stroke="#cdcda3" stroke-width="1.5"/>
<line x1="482.6" x2="482.6" y1="552.4" y2="550.1" stroke="#cdcda3" stroke-width="1.5"/>
<line x1="488.7" x2="488.7" y1="552.4" y2="550.1" stroke="#cdcda3" stroke-width="1.5"/>
<line x1="494.7" x2="494.7" y1="552.4" y2="550.1" stroke="#cdcda3" stroke-width="1.5"/>
<line x1="500.7" x2="500.7" y1="552.4" y2="548.8" stroke="#cdcda3" stroke-width="1.5"/>
<line x1="506.7" x2="506.7" y1="552.4" y2="550.1" stroke="#cdcda3" stroke-width="1.5"/>
<line x1="512.7" x2="512.7" y1="552.4" y2="550.1" stroke="#cdcda3" stroke-width="1.5"/>
<line x1="518.7" x2="518.7" y1="552.4" y2="550.1" stroke="#cdcda3" stroke-width="1.5"/>
<line x1="524.7" x2="524.7" y1="552.4" y2="550.1" stroke="#cdcda3" stroke-width="1.5"/>
<line x1="530.7" x2="530.7" y1="552.4" y2="548.8" stroke="#cdcda3" stroke-width="1.5"/>
<line x1="536.7" x2="536.7" y1="552.4" y2="550.1" stroke="#cdcda3" stroke-width="1.5"/>
<line x1="542.7" x2="542.7" y1="552.4" y2="550.1" stroke="#cdcda3" stroke-width="1.5"/>
<line x1="548.7" x2="548.7" y1="552.4" y2="550.1" stroke="#cdcda3" stroke-width="1.5"/>
<line x1="554.7" x2="554.7" y1="552.4" y2="550.1" stroke="#cdcda3" stroke-width="1.5"/>
<line x1="560.7" x2="560.7" y1="552.4" y2="548.8" stroke="#cdcda3" stroke-width="1.5"/>
<line x1="566.7" x2="566.7" y1="552.4" y2="550.1" stroke="#cdcda3" stroke-width="1.5"/>
<line x1="572.8" x2="572.8" y1="552.4" y2="550.1" stroke="#cdcda3" stroke-width="1.5"/>
<line x1="578.8" x2="578.8" y1="552.4" y2="550.1" stroke="#cdcda3" stroke-width="1.5"/>
<line x1="584.8" x2="584.8" y1="552.4" y2="550.1" stroke="#cdcda3" stroke-width="1.5"/>
<line x1="590.8" x2="590.8" y1="552.4" y2="548.8" stroke="#cdcda3" stroke-width="1.5"/>
<line x1="596.8" x2="596.8" y1="552.4" y2="550.1" stroke="#cdcda3" stroke-width="1.5"/>
<line x1="602.8" x2="602.8" y1="552.4" y2="550.1" stroke="#cdcda3" stroke-width="1.5"/>
<line x1="608.8" x2="608.8" y1="552.4" y2="550.1" stroke="#cdcda3" stroke-width="1.5"/>
<line x1="614.8" x2="614.8" y1="552.4" y2="550.1" stroke="#cdcda3" stroke-width="1.5"/>
<line x1="620.8" x2="620.8" y1="552.4" y2="548.8" stroke="#cdcda3" stroke-width="1.5"/>
<line x1="626.8" x2="626.8" y1="552.4" y2="550.1" stroke="#cdcda3" stroke-width="1.5"/>
<line x1="632.8" x2="632.8" y1="552.4" y2="550.1" stroke="#cdcda3" stroke-width="1.5"/>
<line x1="638.8" x2="638.8" y1="552.4" y2="550.1" stroke="#cdcda3" stroke-width="1.5"/>
<line x1="644.8" x2="644.8" y1="552.4" y2="550.1" stroke="#cdcda3" stroke-width="1.5"/>
<line x1="650.8" x2="650.8" y1="552.4" y2="548.8" stroke="#cdcda3" stroke-width="1.5"/>
<line x1="656.8" x2="656.8" y1="552.4" y2="550.1" stroke="#cdcda3" stroke-width="1.5"/>
<line x1="662.9" x2="662.9" y1="552.4" y2="550.1" stroke="#cdcda3" stroke-width="1.5"/>
<line x1="668.9" x2="668.9" y1="552.4" y2="550.1" stroke="#cdcda3" stroke-width="1.5"/>
<line x1="674.9" x2="674.9" y1="552.4" y2="550.1" stroke="#cdcda3" stroke-width="1.5"/>
<line x1="680.9" x2="680.9" y1="552.4" y2="548.8" stroke="#cdcda3" stroke-width="1.5"/>
<line x1="686.9" x2="686.9" y1="552.4" y2="550.1" stroke="#cdcda3" stroke-width="1.5"/>
<line x1="692.9" x2="692.9" y1="552.4" y2="550.1" stroke="#cdcda3" stroke-width="1.5"/>
<line x1="698.9" x2="698.9" y1="552.4" y2="550.1" stroke="#cdcda3" stroke-width="1.5"/>
<line x1="704.9" x2="704.9" y1="552.4" y2="550.1" stroke="#cdcda3" stroke-width="1.5"/>
<line x1="710.9" x2="710.9" y1="552.4" y2="548.8" stroke="#cdcda3" stroke-width="1.5"/>
<line x1="716.9" x2="716.9" y1="552.4" y2="550.1" stroke="#cdcda3" stroke-width="1.5"/>
<line x1="722.9" x2="722.9" y1="552.4" y2="550.1" stroke="#cdcda3" stroke-width="1.5"/>
<line x1="728.9" x2="728.9" y1="552.4" y2="550.1" stroke="#cdcda3" stroke-width="1.5"/>
<line x1="734.9" x2="734.9" y1="552.4" y2="550.1" stroke="#cdcda3" stroke-width="1.5"/>
<line x1="740.9" x2="740.9" y1="552.4" y2="548.8" stroke="#cdcda3" stroke-width="1.5"/>
<line x1="747.0" x2="747.0" y1="552.4" y2="550.1" stroke="#cdcda3" stroke-width="1.5"/>
<line x1="753.0" x2="753.0" y1="552.4" y2="550.1" stroke="#cdcda3" stroke-width="1.5"/>
<line x1="759.0" x2="759.0" y1="552.4" y2="550.1" stroke="#cdcda3" stroke-width="1.5"/>
<line x1="765.0" x2="765.0" y1="552.4" y2="550.1" stroke="#cdcda3" stroke-width="1.5"/>
<line x1="771.0" x2="771.0" y1="552.4" y2="548.8" stroke="#cdcda3" stroke-width="1.5"/>
<line x1="777.0" x2="777.0" y1="552.4" y2="550.1" stroke="#cdcda3" stroke-width="1.5"/>
<line x1="783.0" x2="783.0" y1="552.4" y2="550.1" stroke="#cdcda3" stroke-width="1.5"/>
<line x1="789.0" x2="789.0" y1="552.4" y2="550.1" stroke="#cdcda3" stroke-width="1.5"/>
<line x1="795.0" x2="795.0" y1="552.4" y2="550.1" stroke="#cdcda3" stroke-width="1.5"/>
<line x1="801.0" x2="801.0" y1="552.4" y2="548.8" stroke="#cdcda3" stroke-width="1.5"/>
<line x1="807.0" x2="807.0" y1="552.4" y2="550.1" stroke="#cdcda3" stroke-width="1.5"/>
<line x1="813.0" x2="813.0" y1="552.4" y2="550.1" stroke="#cdcda3" stroke-width="1.5"/>
<line x1="819.0" x2="819.0" y1="552.4" y2="550.1" stroke="#cdcda3" stroke-width="1.5"/>
<line x1="825.0" x2="825.0" y1="552.4" y2="550.1" stroke="#cdcda3" stroke-width="1.5"/>
<line x1="831.1" x2="831.1" y1="552.4" y2="548.8" stroke="#cdcda3" stroke-width="1.5"/>
<line x1="837.1" x2="837.1" y1="552.4" y2="550.1" stroke="#cdcda3" stroke-width="1.5"/>
<line x1="843.1" x2="843.1" y1="552.4" y2="550.1" stroke="#cdcda3" stroke-width="1.5"/>
<line x1="849.1" x2="849.1" y1="552.4" y2="550.1" stroke="#cdcda3" stroke-width="1.5"/>
<line x1="855.1" x2="855.1" y1="552.4" y2="550.1" stroke="#cdcda3" stroke-width="1.5"/>
<line x1="861.1" x2="861.1" y1="552.4" y2="548.8" stroke="#cdcda3" stroke-width="1.5"/>
<line x1="867.1" x2="867.1" y1="552.4" y2="550.1" stroke="#cdcda3" stroke-width="1.5"/>
<line x1="873.1" x2="873.1" y1="552.4" y2="550.1" stroke="#cdcda3" stroke-width="1.5"/>
<line x1="879.1" x2="879.1" y1="552.4" y2="550.1" stroke="#cdcda3" stroke-width="1.5"/>
<line x1="885.1" x2="885.1" y1="552.4" y2="550.1" stroke="#cdcda3" stroke-width="1.5"/>
<line x1="891.1" x2="891.1" y1="552.4" y2="548.8" stroke="#cdcda3" stroke-width="1.5"/>
<line x1="897.1" x2="897.1" y1="552.4" y2="550.1" stroke="#cdcda3" stroke-width="1.5"/>
<line x1="903.1" x2="903.1" y1="552.4" y2="550.1" stroke="#cdcda3" stroke-width="1.5"/>
<line x1="909.1" x2="909.1" y1="552.4" y2="550.1" stroke="#cdcda3" stroke-width="1.5"/>
<line x1="915.1" x2="915.1" y1="552.4" y2="550.1" stroke="#cdcda3" stroke-width="1.5"/>
<line x1="921.2" x2="921.2" y1="552.4" y2="548.8" stroke="#cdcda3" stroke-width="1.5"/>
<line x1="927.2" x2="927.2" y1="552.4" y2="550.1" stroke="#cdcda3" stroke-width="1.5"/>
<line x1="933.2" x2="933.2" y1="552.4" y2="550.1" stroke="#cdcda3" stroke-width="1.5"/>
<line x1="939.2" x2="939.2" y1="552.4" y2="550.1" stroke="#cdcda3" stroke-width="1.5"/>
<line x1="945.2" x2="945.2" y1="552.4" y2="550.1" stroke="#cdcda3" stroke-width="1.5"/>
<line x1="951.2" x2="951.2" y1="552.4" y2="548.8" stroke="#cdcda3" stroke-width="1.5"/>
<line x1="957.2" x2="957.2" y1="552.4" y2="550.1" stroke="#cdcda3" stroke-width="1.5"/>
<line x1="963.2" x2="963.2" y1="552.4" y2="550.1" stroke="#cdcda3" stroke-width="1.5"/>
<line x1="969.2" x2="969.2" y1="552.4" y2="550.1" stroke="#cdcda3" stroke-width="1.5"/>
<line x1="975.2" x2="975.2" y1="552.4" y2="550.1" stroke="#cdcda3" stroke-width="1.5"/>
<line x1="981.2" x2="981.2" y1="552.4" y2="548.8" stroke="#cdcda3" stroke-width="1.5"/>
<line x1="987.2" x2="987.2" y1="552.4" y2="550.1" stroke="#cdcda3" stroke-width="1.5"/>
<line x1="993.2" x2="993.2" y1="552.4" y2="550.1" stroke="#cdcda3" stroke-width="1.5"/>
<line x1="999.2" x2="999.2" y1="552.4" y2="550.1" stroke="#cdcda3" stroke-width="1.5"/>
<line x1="1005.3" x2="1005.3" y1="552.4" y2="550.1" stroke="#cdcda3" stroke-width="1.5"/>
<line x1="1011.3" x2="1011.3" y1="552.4" y2="548.8" stroke="#cdcda3" stroke-width="1.5"/>
<line x1="1017.3" x2="1017.3" y1="552.4" y2="550.1" stroke="#cdcda3" stroke-width="1.5"/>
<line x1="1023.3" x2="1023.3" y1="552.4" y2="550.1" stroke="#cdcda3" stroke-width="1.5"/>
<line x1="1029.3" x2="1029.3" y1="552.4" y2="550.1" stroke="#cdcda3" stroke-width="1.5"/>
<line x1="1035.3" x2="1035.3" y1="552.4" y2="550.1" stroke="#cdcda3" stroke-width="1.5"/>
<line x1="1041.3" x2="1041.3" y1="552.4" y2="548.8" stroke="#cdcda3" stroke-width="1.5"/>
<line x1="1047.3" x2="1047.3" y1="552.4" y2="550.1" stroke="#cdcda3" stroke-width="1.5"/>
<line x1="1053.3" x2="1053.3" y1="552.4" y2="550.1" stroke="#cdcda3" stroke-width="1.5"/>
<line x1="1059.3" x2="1059.3" y1="552.4" y2="550.1" stroke="#cdcda3" stroke-width="1.5"/>
<line x1="1065.3" x2="1065.3" y1="552.4" y2="550.1" stroke="#cdcda3" stroke-width="1.5"/>
<line x1="1071.3" x2="1071.3" y1="552.4" y2="548.8" stroke="#cdcda3" stroke-width="1.5"/>
<line x1="1077.3" x2="1077.3" y1="552.4" y2="550.1" stroke="#cdcda3" stroke-width="1.5"/>
<line x1="1083.3" x2="1083.3" y1="552.4" y2="550.1" stroke="#cdcda3" stroke-width="1.5"/>
<line x1="1089.4" x2="1089.4" y1="552.4" y2="550.1" stroke="#cdcda3" stroke-width="1.5"/>
<line x1="1095.4" x2="1095.4" y1="552.4" y2="550.1" stroke="#cdcda3" stroke-width="1.5"/>
<line x1="1101.4" x2="1101.4" y1="552.4" y2="548.8" stroke="#cdcda3" stroke-width="1.5"/>
<line x1="1107.4" x2="1107.4" y1="552.4" y2="550.1" stroke="#cdcda3" stroke-width="1.5"/>
<line x1="1113.4" x2="1113.4" y1="552.4" y2="550.1" stroke="#cdcda3" stroke-width="1.5"/>
<line x1="1119.4" x2="1119.4" y1="552.4" y2="550.1" stroke="#cdcda3" stroke-width="1.5"/>
<line x1="1125.4" x2="1125.4" y1="552.4" y2="550.1" stroke="#cdcda3" stroke-width="1.5"/>
<line x1="1131.4" x2="1131.4" y1="552.4" y2="548.8" stroke="#cdcda3" stroke-width="1.5"/>
<line x1="1137.4" x2="1137.4" y1="552.4" y2="550.1" stroke="#cdcda3" stroke-width="1.5"/>
<line x1="1143.4" x2="1143.4" y1="552.4" y2="550.1" stroke="#cdcda3" stroke-width="1.5"/>
<line x1="1149.4" x2="1149.4" y1="552.4" y2="550.1" stroke="#cdcda3" stroke-width="1.5"/>
<line x1="1155.4" x2="1155.4" y1="552.4" y2="550.1" stroke="#cdcda3" stroke-width="1.5"/>
<line x1="1161.4" x2="1161.4" y1="552.4" y2="548.8" stroke="#cdcda3" stroke-width="1.5"/>
<line x1="1167.4" x2="1167.4" y1="552.4" y2="550.1" stroke="#cdcda3" stroke-width="1.5"/>
<line x1="1173.5" x2="1173.5" y1="552.4" y2="550.1" stroke="#cdcda3" stroke-width="1.5"/>
<line x1="1179.5" x2="1179.5" y1="552.4" y2="550.1" stroke="#cdcda3" stroke-width="1.5"/>
<line x1="1185.5" x2="1185.5" y1="552.4" y2="550.1" stroke="#cdcda3" stroke-width="1.5"/>
<line x1="1191.5" x2="1191.5" y1="552.4" y2="548.8" stroke="#cdcda3" stroke-width="1.5"/>
<line x1="14.1" x2="14.1" y1="931.2" y2="933.5" stroke="#cdcda3" stroke-width="1.5"/>
<line x1="20.1" x2="20.1" y1="931.2" y2="934.8" stroke="#cdcda3" stroke-width="1.5"/>
<line x1="26.1" x2="26.1" y1="931.2" y2="933.5" stroke="#cdcda3" stroke-width="1.5"/>
<line x1="32.1" x2="32.1" y1="931.2" y2="933.5" stroke="#cdcda3" stroke-width="1.5"/>
<line x1="38.1" x2="38.1" y1="931.2" y2="933.5" stroke="#cdcda3" stroke-width="1.5"/>
<line x1="44.1" x2="44.1" y1="931.2" y2="933.5" stroke="#cdcda3" stroke-width="1.5"/>
<line x1="50.1" x2="50.1" y1="931.2" y2="934.8" stroke="#cdcda3" stroke-width="1.5"/>
<line x1="56.1" x2="56.1" y1="931.2" y2="933.5" stroke="#cdcda3" stroke-width="1.5"/>
<line x1="62.2" x2="62.2" y1="931.2" y2="933.5" stroke="#cdcda3" stroke-width="1.5"/>
<line x1="68.2" x2="68.2" y1="931.2" y2="933.5" stroke="#cdcda3" stroke-width="1.5"/>
<line x1="74.2" x2="74.2" y1="931.2" y2="933.5" stroke="#cdcda3" stroke-width="1.5"/>
<line x1="80.2" x2="80.2" y1="931.2" y2="934.8" stroke="#cdcda3" stroke-width="1.5"/>
<line x1="86.2" x2="86.2" y1="931.2" y2="933.5" stroke="#cdcda3" stroke-width="1.5"/>
<line x1="92.2" x2="92.2" y1="931.2" y2="933.5" stroke="#cdcda3" stroke-width="1.5"/>
<line x1="98.2" x2="98.2" y1="931.2" y2="933.5" stroke="#cdcda3" stroke-width="1.5"/>
<line x1="104.2" x2="104.2" y1="931.2" y2="933.5" stroke="#cdcda3" stroke-width="1.5"/>
<line x1="110.2" x2="110.2" y1="931.2" y2="934.8" stroke="#cdcda3" stroke-width="1.5"/>
<line x1="116.2" x2="116.2" y1="931.2" y2="933.5" stroke="#cdcda3" stroke-width="1.5"/>
<line x1="122.2" x2="122.2" y1="931.2" y2="933.5" stroke="#cdcda3" stroke-width="1.5"/>
<line x1="128.2" x2="128.2" y1="931.2" y2="933.5" stroke="#cdcda3" stroke-width="1.5"/>
<line x1="134.2" x2="134.2" y1="931.2" y2="933.5" stroke="#cdcda3" stroke-width="1.5"/>
<line x1="140.2" x2="140.2" y1="931.2" y2="934.8" stroke="#cdcda3" stroke-width="1.5"/>
<line x1="146.3" x2="146.3" y1="931.2" y2="933.5" stroke="#cdcda3" stroke-width="1.5"/>
<line x1="152.3" x2="152.3" y1="931.2" y2="933.5" stroke="#cdcda3" stroke-width="1.5"/>
<line x1="158.3" x2="158.3" y1="931.2" y2="933.5" stroke="#cdcda3" stroke-width="1.5"/>
<line x1="164.3" x2="164.3" y1="931.2" y2="933.5" stroke="#cdcda3" stroke-width="1.5"/>
<line x1="170.3" x2="170.3" y1="931.2" y2="934.8" stroke="#cdcda3" stroke-width="1.5"/>
<line x1="176.3" x2="176.3" y1="931.2" y2="933.5" stroke="#cdcda3" stroke-width="1.5"/>
<line x1="182.3" x2="182.3" y1="931.2" y2="933.5" stroke="#cdcda3" stroke-width="1.5"/>
<line x1="188.3" x2="188.3" y1="931.2" y2="933.5" stroke="#cdcda3" stroke-width="1.5"/>
<line x1="194.3" x2="194.3" y1="931.2" y2="933.5" stroke="#cdcda3" stroke-width="1.5"/>
<line x1="200.3" x2="200.3" y1="931.2" y2="934.8" stroke="#cdcda3" stroke-width="1.5"/>
<line x1="206.3" x2="206.3" y1="931.2" y2="933.5" stroke="#cdcda3" stroke-width="1.5"/>
<line x1="212.3" x2="212.3" y1="931.2" y2="933.5" stroke="#cdcda3" stroke-width="1.5"/>
<line x1="218.3" x2="218.3" y1="931.2" y2="933.5" stroke="#cdcda3" stroke-width="1.5"/>
<line x1="224.3" x2="224.3" y1="931.2" y2="933.5" stroke="#cdcda3" stroke-width="1.5"/>
<line x1="230.4" x2="230.4" y1="931.2" y2="934.8" stroke="#cdcda3" stroke-width="1.5"/>
<line x1="236.4" x2="236.4" y1="931.2" y2="933.5" stroke="#cdcda3" stroke-width="1.5"/>
<line x1="242.4" x2="242.4" y1="931.2" y2="933.5" stroke="#cdcda3" stroke-width="1.5"/>
<line x1="248.4" x2="248.4" y1="931.2" y2="933.5" stroke="#cdcda3" stroke-width="1.5"/>
<line x1="254.4" x2="254.4" y1="931.2" y2="933.5" stroke="#cdcda3" stroke-width="1.5"/>
<line x1="260.4" x2="260.4" y1="931.2" y2="934.8" stroke="#cdcda3" stroke-width="1.5"/>
<line x1="266.4" x2="266.4" y1="931.2" y2="933.5" stroke="#cdcda3" stroke-width="1.5"/>
<line x1="272.4" x2="272.4" y1="931.2" y2="933.5" stroke="#cdcda3" stroke-width="1.5"/>
<line x1="278.4" x2="278.4" y1="931.2" y2="933.5" stroke="#cdcda3" stroke-width="1.5"/>
<line x1="284.4" x2="284.4" y1="931.2" y2="933.5" stroke="#cdcda3" stroke-width="1.5"/>
<line x1="290.4" x2="290.4" y1="931.2" y2="934.8" stroke="#cdcda3" stroke-width="1.5"/>
<line x1="296.4" x2="296.4" y1="931.2" y2="933.5" stroke="#cdcda3" stroke-width="1.5"/>
<line x1="302.4" x2="302.4" y1="931.2" y2="933.5" stroke="#cdcda3" stroke-width="1.5"/>
<line x1="308.4" x2="308.4" y1="931.2" y2="933.5" stroke="#cdcda3" stroke-width="1.5"/>
<line x1="314.4" x2="314.4" y1="931.2" y2="933.5" stroke="#cdcda3" stroke-width="1.5"/>
<line x1="320.5" x2="320.5" y1="931.2" y2="934.8" stroke="#cdcda3" stroke-width="1.5"/>
<line x1="326.5" x2="326.5" y1="931.2" y2="933.5" stroke="#cdcda3" stroke-width="1.5"/>
<line x1="332.5" x2="332.5" y1="931.2" y2="933.5" stroke="#cdcda3" stroke-width="1.5"/>
<line x1="338.5" x2="338.5" y1="931.2" y2="933.5" stroke="#cdcda3" stroke-width="1.5"/>
<line x1="344.5" x2="344.5" y1="931.2" y2="933.5" stroke="#cdcda3" stroke-width="1.5"/>
<line x1="350.5" x2="350.5" y1="931.2" y2="934.8" stroke="#cdcda3" stroke-width="1.5"/>
<line x1="356.5" x2="356.5" y1="931.2" y2="933.5" stroke="#cdcda3" stroke-width="1.5"/>
<line x1="362.5" x2="362.5" y1="931.2" y2="933.5" stroke="#cdcda3" stroke-width="1.5"/>
<line x1="368.5" x2="368.5" y1="931.2" y2="933.5" stroke="#cdcda3" stroke-width="1.5"/>
<line x1="374.5" x2="374.5" y1="931.2" y2="933.5" stroke="#cdcda3" stroke-width="1.5"/>
<line x1="380.5" x2="380.5" y1="931.2" y2="934.8" stroke="#cdcda3" stroke-width="1.5"/>
<line x1="386.5" x2="386.5" y1="931.2" y2="933.5" stroke="#cdcda3" stroke-width="1.5"/>
<line x1="392.5" x2="392.5" y1="931.2" y2="933.5" stroke="#cdcda3" stroke-width="1.5"/>
<line x1="398.5" x2="398.5" y1="931.2" y2="933.5" stroke="#cdcda3" stroke-width="1.5"/>
<line x1="404.6" x2="404.6" y1="931.2" y2="933.5" stroke="#cdcda3" stroke-width="1.5"/>
<line x1="410.6" x2="410.6" y1="931.2" y2="934.8" stroke="#cdcda3" stroke-width="1.5"/>
<line x1="416.6" x2="416.6" y1="931.2" y2="933.5" stroke="#cdcda3" stroke-width="1.5"/>
<line x1="422.6" x2="422.6" y1="931.2" y2="933.5" stroke="#cdcda3" stroke-width="1.5"/>
<line x1="428.6" x2="428.6" y1="931.2" y2="933.5" stroke="#cdcda3" stroke-width="1.5"/>
<line x1="434.6" x2="434.6" y1="931.2" y2="933.5" stroke="#cdcda3" stroke-width="1.5"/>
<line x1="440.6" x2="440.6" y1="931.2" y2="934.8" stroke="#cdcda3" stroke-width="1.5"/>
<line x1="446.6" x2="446.6" y1="931.2" y2="933.5" stroke="#cdcda3" stroke-width="1.5"/>
<line x1="452.6" x2="452.6" y1="931.2" y2="933.5" stroke="#cdcda3" stroke-width="1.5"/>
<line x1="458.6" x2="458.6" y1="931.2" y2="933.5" stroke="#cdcda3" stroke-width="1.5"/>
<line x1="464.6" x2="464.6" y1="931.2" y2="933.5" stroke="#cdcda3" stroke-width="1.5"/>
<line x1="470.6" x2="470.6" y1="931.2" y2="934.8" stroke="#cdcda3" stroke-width="1.5"/>
<line x1="476.6" x2="476.6" y1="931.2" y2="933.5" stroke="#cdcda3" stroke-width="1.5"/>
<line x1="482.6" x2="482.6" y1="931.2" y2="933.5" stroke="#cdcda3" stroke-width="1.5"/>
<line x1="488.7" x2="488.7" y1="931.2" y2="933.5" stroke="#cdcda3" stroke-width="1.5"/>
<line x1="494.7" x2="494.7" y1="931.2" y2="933.5" stroke="#cdcda3" stroke-width="1.5"/>
<line x1="500.7" x2="500.7" y1="931.2" y2="934.8" stroke="#cdcda3" stroke-width="1.5"/>
<line x1="506.7" x2="506.7" y1="931.2" y2="933.5" stroke="#cdcda3" stroke-width="1.5"/>
<line x1="512.7" x2="512.7" y1="931.2" y2="933.5" stroke="#cdcda3" stroke-width="1.5"/>
<line x1="518.7" x2="518.7" y1="931.2" y2="933.5" stroke="#cdcda3" stroke-width="1.5"/>
<line x1="524.7" x2="524.7" y1="931.2" y2="933.5" stroke="#cdcda3" stroke-width="1.5"/>
<line x1="530.7" x2="530.7" y1="931.2" y2="934.8" stroke="#cdcda3" stroke-width="1.5"/>
<line x1="536.7" x2="536.7" y1="931.2" y2="933.5" stroke="#cdcda3" stroke-width="1.5"/>
<line x1="542.7" x2="542.7" y1="931.2" y2="933.5" stroke="#cdcda3" stroke-width="1.5"/>
<line x1="548.7" x2="548.7" y1="931.2" y2="933.5" stroke="#cdcda3" stroke-width="1.5"/>
<line x1="554.7" x2="554.7" y1="931.2" y2="933.5" stroke="#cdcda3" stroke-width="1.5"/>
<line x1="560.7" x2="560.7" y1="931.2" y2="934.8" stroke="#cdcda3" stroke-width="1.5"/>
<line x1="566.7" x2="566.7" y1="931.2" y2="933.5" stroke="#cdcda3" stroke-width="1.5"/>
<line x1="572.8" x2="572.8" y1="931.2" y2="933.5" stroke="#cdcda3" stroke-width="1.5"/>
<line x1="578.8" x2="578.8" y1="931.2" y2="933.5" stroke="#cdcda3" stroke-width="1.5"/>
<line x1="584.8" x2="584.8" y1="931.2" y2="933.5" stroke="#cdcda3" stroke-width="1.5"/>
<line x1="590.8" x2="590.8" y1="931.2" y2="934.8" stroke="#cdcda3" stroke-width="1.5"/>
<line x1="596.8" x2="596.8" y1="931.2" y2="933.5" stroke="#cdcda3" stroke-width="1.5"/>
<line x1="602.8" x2="602.8" y1="931.2" y2="933.5" stroke="#cdcda3" stroke-width="1.5"/>
<line x1="608.8" x2="608.8" y1="931.2" y2="933.5" stroke="#cdcda3" stroke-width="1.5"/>
<line x1="614.8" x2="614.8" y1="931.2" y2="933.5" stroke="#cdcda3" stroke-width="1.5"/>
<line x1="620.8" x2="620.8" y1="931.2" y2="934.8" stroke="#cdcda3" stroke-width="1.5"/>
<line x1="626.8" x2="626.8" y1="931.2" y2="933.5" stroke="#cdcda3" stroke-width="1.5"/>
<line x1="632.8" x2="632.8" y1="931.2" y2="933.5" stroke="#cdcda3" stroke-width="1.5"/>
<line x1="638.8" x2="638.8" y1="931.2" y2="933.5" stroke="#cdcda3" stroke-width="1.5"/>
<line x1="644.8" x2="644.8" y1="931.2" y2="933.5" stroke="#cdcda3" stroke-width="1.5"/>
<line x1="650.8" x2="650.8" y1="931.2" y2="934.8" stroke="#cdcda3" stroke-width="1.5"/>
<line x1="656.8" x2="656.8" y1="931.2" y2="933.5" stroke="#cdcda3" stroke-width="1.5"/>
<line x1="662.9" x2="662.9" y1="931.2" y2="933.5" stroke="#cdcda3" stroke-width="1.5"/>
<line x1="668.9" x2="668.9" y1="931.2" y2="933.5" stroke="#cdcda3" stroke-width="1.5"/>
<line x1="674.9" x2="674.9" y1="931.2" y2="933.5" stroke="#cdcda3" stroke-width="1.5"/>
<line x1="680.9" x2="680.9" y1="931.2" y2="934.8" stroke="#cdcda3" stroke-width="1.5"/>
<line x1="686.9" x2="686.9" y1="931.2" y2="933.5" stroke="#cdcda3" stroke-width="1.5"/>
<line x1="692.9" x2="692.9" y1="931.2" y2="933.5" stroke="#cdcda3" stroke-width="1.5"/>
<line x1="698.9" x2="698.9" y1="931.2" y2="933.5" stroke="#cdcda3" stroke-width="1.5"/>
<line x1="704.9" x2="704.9" y1="931.2" y2="933.5" stroke="#cdcda3" stroke-width="1.5"/>
<line x1="710.9" x2="710.9" y1="931.2" y2="934.8" stroke="#cdcda3" stroke-width="1.5"/>
<line x1="716.9" x2="716.9" y1="931.2" y2="933.5" stroke="#cdcda3" stroke-width="1.5"/>
<line x1="722.9" x2="722.9" y1="931.2" y2="933.5" stroke="#cdcda3" stroke-width="1.5"/>
<line x1="728.9" x2="728.9" y1="931.2" y2="933.5" stroke="#cdcda3" stroke-width="1.5"/>
<line x1="734.9" x2="734.9" y1="931.2" y2="933.5" stroke="#cdcda3" stroke-width="1.5"/>
<line x1="740.9" x2="740.9" y1="931.2" y2="934.8" stroke="#cdcda3" stroke-width="1.5"/>
<line x1="747.0" x2="747.0" y1="931.2" y2="933.5" stroke="#cdcda3" stroke-width="1.5"/>
<line x1="753.0" x2="753.0" y1="931.2" y2="933.5" stroke="#cdcda3" stroke-width="1.5"/>
<line x1="759.0" x2="759.0" y1="931.2" y2="933.5" stroke="#cdcda3" stroke-width="1.5"/>
<line x1="765.0" x2="765.0" y1="931.2" y2="933.5" stroke="#cdcda3" stroke-width="1.5"/>
<line x1="771.0" x2="771.0" y1="931.2" y2="934.8" stroke="#cdcda3" stroke-width="1.5"/>
<line x1="777.0" x2="777.0" y1="931.2" y2="933.5" stroke="#cdcda3" stroke-width="1.5"/>
<line x1="783.0" x2="783.0" y1="931.2" y2="933.5" stroke="#cdcda3" stroke-width="1.5"/>
<line x1="789.0" x2="789.0" y1="931.2" y2="933.5" stroke="#cdcda3" stroke-width="1.5"/>
<line x1="795.0" x2="795.0" y1="931.2" y2="933.5" stroke="#cdcda3" stroke-width="1.5"/>
<line x1="801.0" x2="801.0" y1="931.2" y2="934.8" stroke="#cdcda3" stroke-width="1.5"/>
<line x1="807.0" x2="807.0" y1="931.2" y2="933.5" stroke="#cdcda3" stroke-width="1.5"/>
<line x1="813.0" x2="813.0" y1="931.2" y2="933.5" stroke="#cdcda3" stroke-width="1.5"/>
<line x1="819.0" x2="819.0" y1="931.2" y2="933.5" stroke="#cdcda3" stroke-width="1.5"/>
<line x1="825.0" x2="825.0" y1="931.2" y2="933.5" stroke="#cdcda3" stroke-width="1.5"/>
<line x1="831.1" x2="831.1" y1="931.2" y2="934.8" stroke="#cdcda3" stroke-width="1.5"/>
<line x1="837.1" x2="837.1" y1="931.2" y2="933.5" stroke="#cdcda3" stroke-width="1.5"/>
<line x1="843.1" x2="843.1" y1="931.2" y2="933.5" stroke="#cdcda3" stroke-width="1.5"/>
<line x1="849.1" x2="849.1" y1="931.2" y2="933.5" stroke="#cdcda3" stroke-width="1.5"/>
<line x1="855.1" x2="855.1" y1="931.2" y2="933.5" stroke="#cdcda3" stroke-width="1.5"/>
<line x1="861.1" x2="861.1" y1="931.2" y2="934.8" stroke="#cdcda3" stroke-width="1.5"/>
<line x1="867.1" x2="867.1" y1="931.2" y2="933.5" stroke="#cdcda3" stroke-width="1.5"/>
<line x1="873.1" x2="873.1" y1="931.2" y2="933.5" stroke="#cdcda3" stroke-width="1.5"/>
<line x1="879.1" x2="879.1" y1="931.2" y2="933.5" stroke="#cdcda3" stroke-width="1.5"/>
<line x1="885.1" x2="885.1" y1="931.2" y2="933.5" stroke="#cdcda3" stroke-width="1.5"/>
<line x1="891.1" x2="891.1" y1="931.2" y2="934.8" stroke="#cdcda3" stroke-width="1.5"/>
<line x1="897.1" x2="897.1" y1="931.2" y2="933.5" stroke="#cdcda3" stroke-width="1.5"/>
<line x1="903.1" x2="903.1" y1="931.2" y2="933.5" stroke="#cdcda3" stroke-width="1.5"/>
<line x1="909.1" x2="909.1" y1="931.2" y2="933.5" stroke="#cdcda3" stroke-width="1.5"/>
<line x1="915.1" x2="915.1" y1="931.2" y2="933.5" stroke="#cdcda3" stroke-width="1.5"/>
<line x1="921.2" x2="921.2" y1="931.2" y2="934.8" stroke="#cdcda3" stroke-width="1.5"/>
<line x1="927.2" x2="927.2" y1="931.2" y2="933.5" stroke="#cdcda3" stroke-width="1.5"/>
<line x1="933.2" x2="933.2" y1="931.2" y2="933.5" stroke="#cdcda3" stroke-width="1.5"/>
<line x1="939.2" x2="939.2" y1="931.2" y2="933.5" stroke="#cdcda3" stroke-width="1.5"/>
<line x1="945.2" x2="945.2" y1="931.2" y2="933.5" stroke="#cdcda3" stroke-width="1.5"/>
<line x1="951.2" x2="951.2" y1="931.2" y2="934.8" stroke="#cdcda3" stroke-width="1.5"/>
<line x1="957.2" x2="957.2" y1="931.2" y2="933.5" stroke="#cdcda3" stroke-width="1.5"/>
<line x1="963.2" x2="963.2" y1="931.2" y2="933.5" stroke="#cdcda3" stroke-width="1.5"/>
<line x1="969.2" x2="969.2" y1="931.2" y2="933.5" stroke="#cdcda3" stroke-width="1.5"/>
<line x1="975.2" x2="975.2" y1="931.2" y2="933.5" stroke="#cdcda3" stroke-width="1.5"/>
<line x1="981.2" x2="981.2" y1="931.2" y2="934.8" stroke="#cdcda3" stroke-width="1.5"/>
<line x1="987.2" x2="987.2" y1="931.2" y2="933.5" stroke="#cdcda3" stroke-width="1.5"/>
<line x1="993.2" x2="993.2" y1="931.2" y2="933.5" stroke="#cdcda3" stroke-width="1.5"/>
<line x1="999.2" x2="999.2" y1="931.2" y2="933.5" stroke="#cdcda3" stroke-width="1.5"/>
<line x1="1005.3" x2="1005.3" y1="931.2" y2="933.5" stroke="#cdcda3" stroke-width="1.5"/>
<line x1="1011.3" x2="1011.3" y1="931.2" y2="934.8" stroke="#cdcda3" stroke-width="1.5"/>
<line x1="1017.3" x2="1017.3" y1="931.2" y2="933.5" stroke="#cdcda3" stroke-width="1.5"/>
<line x1="1023.3" x2="1023.3" y1="931.2" y2="933.5" stroke="#cdcda3" stroke-width="1.5"/>
<line x1="1029.3" x2="1029.3" y1="931.2" y2="933.5" stroke="#cdcda3" stroke-width="1.5"/>
<line x1="1035.3" x2="1035.3" y1="931.2" y2="933.5" stroke="#cdcda3" stroke-width="1.5"/>
<line x1="1041.3" x2="1041.3" y1="931.2" y2="934.8" stroke="#cdcda3" stroke-width="1.5"/>
<line x1="1047.3" x2="1047.3" y1="931.2" y2="933.5" stroke="#cdcda3" stroke-width="1.5"/>
<line x1="1053.3" x2="1053.3" y1="931.2" y2="933.5" stroke="#cdcda3" stroke-width="1.5"/>
<line x1="1059.3" x2="1059.3" y1="931.2" y2="933.5" stroke="#cdcda3" stroke-width="1.5"/>
<line x1="1065.3" x2="1065.3" y1="931.2" y2="933.5" stroke="#cdcda3" stroke-width="1.5"/>
<line x1="1071.3" x2="1071.3" y1="931.2" y2="934.8" stroke="#cdcda3" stroke-width="1.5"/>
<line x1="1077.3" x2="1077.3" y1="931.2" y2="933.5" stroke="#cdcda3" stroke-width="1.5"/>
<line x1="1083.3" x2="1083.3" y1="931.2" y2="933.5" stroke="#cdcda3" stroke-width="1.5"/>
<line x1="1089.4" x2="1089.4" y1="931.2" y2="933.5" stroke="#cdcda3" stroke-width="1.5"/>
<line x1="1095.4" x2="1095.4" y1="931.2" y2="933.5" stroke="#cdcda3" stroke-width="1.5"/>
<line x1="1101.4" x2="1101.4" y1="931.2" y2="934.8" stroke="#cdcda3" stroke-width="1.5"/>
<line x1="1107.4" x2="1107.4" y1="931.2" y2="933.5" stroke="#cdcda3" stroke-width="1.5"/>
<line x1="1113.4" x2="1113.4" y1="931.2" y2="933.5" stroke="#cdcda3" stroke-width="1.5"/>
<line x1="1119.4" x2="1119.4" y1="931.2" y2="933.5" stroke="#cdcda3" stroke-width="1.5"/>
<line x1="1125.4" x2="1125.4" y1="931.2" y2="933.5" stroke="#cdcda3" stroke-width="1.5"/>
<line x1="1131.4" x2="1131.4" y1="931.2" y2="934.8" stroke="#cdcda3" stroke-width="1.5"/>
<line x1="1137.4" x2="1137.4" y1="931.2" y2="933.5" stroke="#cdcda3" stroke-width="1.5"/>
<line x1="1143.4" x2="1143.4" y1="931.2" y2="933.5" stroke="#cdcda3" stroke-width="1.5"/>
<line x1="1149.4" x2="1149.4" y1="931.2" y2="933.5" stroke="#cdcda3" stroke-width="1.5"/>
<line x1="1155.4" x2="1155.4" y1="931.2" y2="933.5" stroke="#cdcda3" stroke-width="1.5"/>
<line x1="1161.4" x2="1161.4" y1="931.2" y2="934.8" stroke="#cdcda3" stroke-width="1.5"/>
<line x1="1167.4" x2="1167.4" y1="931.2" y2="933.5" stroke="#cdcda3" stroke-width="1.5"/>
<line x1="1173.5" x2="1173.5" y1="931.2" y2="933.5" stroke="#cdcda3" stroke-width="1.5"/>
<line x1="1179.5" x2="1179.5" y1="931.2" y2="933.5" stroke="#cdcda3" stroke-width="1.5"/>
<line x1="1185.5" x2="1185.5" y1="931.2" y2="933.5" stroke="#cdcda3" stroke-width="1.5"/>
<line x1="1191.5" x2="1191.5" y1="931.2" y2="934.8" stroke="#cdcda3" stroke-width="1.5"/>
<text x="10.1" y="547.9" font-size="13.9" fill="#000" textLength="16.8" lengthAdjust="spacingAndGlyphs" >20</text>
<text x="40.1" y="547.9" font-size="13.9" fill="#000" textLength="16.8" lengthAdjust="spacingAndGlyphs" >27</text>
<text x="67.0" y="547.9" font-size="15" fill="#000" font-weight="bold" textLength="28.0" lengthAdjust="spacingAndGlyphs" >Apr</text>
<text x="101.1" y="547.9" font-size="13.9" fill="#000" textLength="16.8" lengthAdjust="spacingAndGlyphs" >10</text>
<text x="131.1" y="547.9" font-size="13.9" fill="#000" textLength="16.8" lengthAdjust="spacingAndGlyphs" >17</text>
<text x="161.1" y="547.9" font-size="13.9" fill="#000" textLength="16.8" lengthAdjust="spacingAndGlyphs" >24</text>
<text x="183.8" y="547.9" font-size="15" fill="#000" font-weight="bold" textLength="32.5" lengthAdjust="spacingAndGlyphs" >May</text>
<text x="225.3" y="547.9" font-size="13.9" fill="#000" textLength="8.4" lengthAdjust="spacingAndGlyphs" >8</text>
<text x="251.1" y="547.9" font-size="13.9" fill="#000" textLength="16.8" lengthAdjust="spacingAndGlyphs" >15</text>
<text x="280.5" y="547.9" font-size="13.9" fill="#000" textLength="16.8" lengthAdjust="spacingAndGlyphs" >22</text>
<text x="325.8" y="547.9" font-size="15" fill="#000" font-weight="bold" textLength="28.4" lengthAdjust="spacingAndGlyphs" >Jun</text>
<text x="371.2" y="547.9" font-size="13.9" fill="#000" textLength="16.8" lengthAdjust="spacingAndGlyphs" >12</text>
<text x="400.6" y="547.9" font-size="13.9" fill="#000" textLength="16.8" lengthAdjust="spacingAndGlyphs" >19</text>
<text x="430.3" y="547.9" font-size="13.9" fill="#000" textLength="16.8" lengthAdjust="spacingAndGlyphs" >26</text>
<text x="459.1" y="547.9" font-size="15" fill="#000" font-weight="bold" textLength="23.0" lengthAdjust="spacingAndGlyphs" >Jul</text>
<text x="490.8" y="547.9" font-size="13.9" fill="#000" textLength="16.8" lengthAdjust="spacingAndGlyphs" >10</text>
<text x="520.6" y="547.9" font-size="13.9" fill="#000" textLength="16.8" lengthAdjust="spacingAndGlyphs" >17</text>
<text x="550.2" y="547.9" font-size="13.9" fill="#000" textLength="16.8" lengthAdjust="spacingAndGlyphs" >24</text>
<text x="581.4" y="547.9" font-size="15" fill="#000" font-weight="bold" textLength="32.0" lengthAdjust="spacingAndGlyphs" >Aug</text>
<text x="615.7" y="547.9" font-size="13.9" fill="#000" textLength="8.4" lengthAdjust="spacingAndGlyphs" >7</text>
<text x="642.4" y="547.9" font-size="13.9" fill="#000" textLength="16.8" lengthAdjust="spacingAndGlyphs" >14</text>
<text x="671.3" y="547.9" font-size="13.9" fill="#000" textLength="16.8" lengthAdjust="spacingAndGlyphs" >21</text>
<text x="701.2" y="547.9" font-size="13.9" fill="#000" textLength="16.8" lengthAdjust="spacingAndGlyphs" >28</text>
<text x="721.1" y="547.9" font-size="15" fill="#000" font-weight="bold" textLength="30.4" lengthAdjust="spacingAndGlyphs" >Sep</text>
<text x="761.8" y="547.9" font-size="13.9" fill="#000" textLength="16.8" lengthAdjust="spacingAndGlyphs" >11</text>
<text x="792.1" y="547.9" font-size="13.9" fill="#000" textLength="16.8" lengthAdjust="spacingAndGlyphs" >18</text>
<text x="821.2" y="547.9" font-size="13.9" fill="#000" textLength="16.8" lengthAdjust="spacingAndGlyphs" >25</text>
<text x="848.3" y="547.9" font-size="15" fill="#000" font-weight="bold" textLength="26.0" lengthAdjust="spacingAndGlyphs" >Oct</text>
<text x="886.7" y="547.9" font-size="13.9" fill="#000" textLength="8.4" lengthAdjust="spacingAndGlyphs" >9</text>
<text x="912.1" y="547.9" font-size="13.9" fill="#000" textLength="16.8" lengthAdjust="spacingAndGlyphs" >16</text>
<text x="941.7" y="547.9" font-size="13.9" fill="#000" textLength="16.8" lengthAdjust="spacingAndGlyphs" >23</text>
<text x="978.0" y="547.9" font-size="15" fill="#000" font-weight="bold" textLength="28.0" lengthAdjust="spacingAndGlyphs" >Nov</text>
<text x="1006.5" y="547.9" font-size="13.9" fill="#000" textLength="8.4" lengthAdjust="spacingAndGlyphs" >6</text>
<text x="1032.4" y="547.9" font-size="13.9" fill="#000" textLength="16.8" lengthAdjust="spacingAndGlyphs" >13</text>
<text x="1061.4" y="547.9" font-size="13.9" fill="#000" textLength="16.8" lengthAdjust="spacingAndGlyphs" >20</text>
<text x="1091.4" y="547.9" font-size="13.9" fill="#000" textLength="16.8" lengthAdjust="spacingAndGlyphs" >27</text>
<text x="1110.8" y="547.9" font-size="15" fill="#000" font-weight="bold" textLength="28.4" lengthAdjust="spacingAndGlyphs" >Dec</text>
<text x="1151.6" y="547.9" font-size="13.9" fill="#000" textLength="16.8" lengthAdjust="spacingAndGlyphs" >11</text>
<text x="10.1" y="945.9" font-size="13.9" fill="#000" textLength="16.8" lengthAdjust="spacingAndGlyphs" >20</text>
<text x="40.1" y="945.9" font-size="13.9" fill="#000" textLength="16.8" lengthAdjust="spacingAndGlyphs" >27</text>
<text x="67.0" y="945.9" font-size="15" fill="#000" font-weight="bold" textLength="28.0" lengthAdjust="spacingAndGlyphs" >Apr</text>
<text x="101.1" y="945.9" font-size="13.9" fill="#000" textLength="16.8" lengthAdjust="spacingAndGlyphs" >10</text>
<text x="131.1" y="945.9" font-size="13.9" fill="#000" textLength="16.8" lengthAdjust="spacingAndGlyphs" >17</text>
<text x="161.1" y="945.9" font-size="13.9" fill="#000" textLength="16.8" lengthAdjust="spacingAndGlyphs" >24</text>
<text x="183.8" y="945.9" font-size="15" fill="#000" font-weight="bold" textLength="32.5" lengthAdjust="spacingAndGlyphs" >May</text>
<text x="225.3" y="945.9" font-size="13.9" fill="#000" textLength="8.4" lengthAdjust="spacingAndGlyphs" >8</text>
<text x="251.1" y="945.9" font-size="13.9" fill="#000" textLength="16.8" lengthAdjust="spacingAndGlyphs" >15</text>
<text x="280.5" y="945.9" font-size="13.9" fill="#000" textLength="16.8" lengthAdjust="spacingAndGlyphs" >22</text>
<text x="325.8" y="945.9" font-size="15" fill="#000" font-weight="bold" textLength="28.4" lengthAdjust="spacingAndGlyphs" >Jun</text>
<text x="371.2" y="945.9" font-size="13.9" fill="#000" textLength="16.8" lengthAdjust="spacingAndGlyphs" >12</text>
<text x="400.6" y="945.9" font-size="13.9" fill="#000" textLength="16.8" lengthAdjust="spacingAndGlyphs" >19</text>
<text x="430.3" y="945.9" font-size="13.9" fill="#000" textLength="16.8" lengthAdjust="spacingAndGlyphs" >26</text>
<text x="459.1" y="945.9" font-size="15" fill="#000" font-weight="bold" textLength="23.0" lengthAdjust="spacingAndGlyphs" >Jul</text>
<text x="490.8" y="945.9" font-size="13.9" fill="#000" textLength="16.8" lengthAdjust="spacingAndGlyphs" >10</text>
<text x="520.6" y="945.9" font-size="13.9" fill="#000" textLength="16.8" lengthAdjust="spacingAndGlyphs" >17</text>
<text x="550.2" y="945.9" font-size="13.9" fill="#000" textLength="16.8" lengthAdjust="spacingAndGlyphs" >24</text>
<text x="581.4" y="945.9" font-size="15" fill="#000" font-weight="bold" textLength="32.0" lengthAdjust="spacingAndGlyphs" >Aug</text>
<text x="615.7" y="945.9" font-size="13.9" fill="#000" textLength="8.4" lengthAdjust="spacingAndGlyphs" >7</text>
<text x="642.4" y="945.9" font-size="13.9" fill="#000" textLength="16.8" lengthAdjust="spacingAndGlyphs" >14</text>
<text x="671.3" y="945.9" font-size="13.9" fill="#000" textLength="16.8" lengthAdjust="spacingAndGlyphs" >21</text>
<text x="701.2" y="945.9" font-size="13.9" fill="#000" textLength="16.8" lengthAdjust="spacingAndGlyphs" >28</text>
<text x="721.1" y="945.9" font-size="15" fill="#000" font-weight="bold" textLength="30.4" lengthAdjust="spacingAndGlyphs" >Sep</text>
<text x="761.8" y="945.9" font-size="13.9" fill="#000" textLength="16.8" lengthAdjust="spacingAndGlyphs" >11</text>
<text x="792.1" y="945.9" font-size="13.9" fill="#000" textLength="16.8" lengthAdjust="spacingAndGlyphs" >18</text>
<text x="821.2" y="945.9" font-size="13.9" fill="#000" textLength="16.8" lengthAdjust="spacingAndGlyphs" >25</text>
<text x="848.3" y="945.9" font-size="15" fill="#000" font-weight="bold" textLength="26.0" lengthAdjust="spacingAndGlyphs" >Oct</text>
<text x="886.7" y="945.9" font-size="13.9" fill="#000" textLength="8.4" lengthAdjust="spacingAndGlyphs" >9</text>
<text x="912.1" y="945.9" font-size="13.9" fill="#000" textLength="16.8" lengthAdjust="spacingAndGlyphs" >16</text>
<text x="941.7" y="945.9" font-size="13.9" fill="#000" textLength="16.8" lengthAdjust="spacingAndGlyphs" >23</text>
<text x="978.0" y="945.9" font-size="15" fill="#000" font-weight="bold" textLength="28.0" lengthAdjust="spacingAndGlyphs" >Nov</text>
<text x="1006.5" y="945.9" font-size="13.9" fill="#000" textLength="8.4" lengthAdjust="spacingAndGlyphs" >6</text>
<text x="1032.4" y="945.9" font-size="13.9" fill="#000" textLength="16.8" lengthAdjust="spacingAndGlyphs" >13</text>
<text x="1061.4" y="945.9" font-size="13.9" fill="#000" textLength="16.8" lengthAdjust="spacingAndGlyphs" >20</text>
<text x="1091.4" y="945.9" font-size="13.9" fill="#000" textLength="16.8" lengthAdjust="spacingAndGlyphs" >27</text>
<text x="1110.8" y="945.9" font-size="15" fill="#000" font-weight="bold" textLength="28.4" lengthAdjust="spacingAndGlyphs" >Dec</text>
<text x="1151.6" y="945.9" font-size="13.9" fill="#000" textLength="16.8" lengthAdjust="spacingAndGlyphs" >11</text>
<clipPath id="cr"><rect x="12.5" y="46" width="1182.0" height="125"/></clipPath>
<clipPath id="c70"><rect x="12.5" y="46" width="1182.0" height="41.2"/></clipPath>
<clipPath id="c30"><rect x="12.5" y="129.0" width="1182.0" height="40"/></clipPath>
<polygon points="13.9,87.2 13.9,114.5 20.3,117.8 25.3,117.8 32.4,123.8 38.0,122.1 44.3,115.7 50.7,117.8 57.0,120.3 62.1,119.0 68.4,122.1 74.7,117.5 81.1,120.8 86.9,125.4 92.5,122.1 98.8,121.6 110.7,112.7 116.5,116.2 127.4,125.4 140.6,112.7 146.9,115.7 152.0,114.5 164.7,114.0 170.3,119.0 176.6,112.7 182.4,116.2 188.7,116.2 195.1,114.0 201.4,108.1 206.5,109.4 212.8,115.7 219.2,116.2 224.2,117.8 230.6,116.2 236.9,112.7 242.7,114.0 254.1,99.3 261.0,102.6 267.3,100.5 272.4,98.0 278.2,91.7 284.3,98.0 290.1,98.0 300.0,92.9 307.6,88.4 315.2,88.4 325.3,90.4 331.7,88.4 338.0,100.5 344.3,96.7 350.7,96.7 357.0,95.0 362.1,96.7 368.4,108.1 374.7,103.8 381.1,103.8 386.9,108.1 398.8,125.4 405.1,122.1 416.5,119.0 422.9,122.1 429.2,119.0 435.0,111.4 440.6,114.0 446.4,116.2 452.0,110.2 458.3,105.6 464.7,110.2 470.3,110.2 476.6,106.9 482.4,105.6 488.7,108.1 495.1,117.8 501.4,120.3 506.5,122.1 512.8,129.2 519.2,134.0 525.5,131.7 530.6,132.2 536.9,130.4 542.0,126.4 548.3,117.8 554.1,116.2 561.0,113.2 566.0,113.2 572.4,117.8 578.2,106.9 584.3,108.1 590.1,105.1 596.4,101.8 602.8,99.3 607.6,99.3 613.9,105.1 620.3,105.1 626.6,100.5 639.3,100.5 645.6,98.0 651.4,93.4 657.0,93.4 668.4,90.4 674.7,93.4 681.1,95.5 687.4,91.7 693.2,95.5 699.3,88.4 710.7,88.4 717.0,99.3 723.4,105.6 735.5,93.4 741.4,93.4 747.7,89.1 757.1,85.8 765.2,85.8 771.5,96.7 782.4,94.2 788.7,90.4 795.1,91.7 801.4,95.5 807.8,95.5 813.6,97.2 825.5,90.4 831.1,85.3 836.9,84.1 842.7,81.5 848.3,89.1 854.6,92.4 860.5,84.8 867.3,84.8 872.4,87.4 878.7,96.7 885.0,100.5 890.9,101.0 897.7,105.6 903.8,105.6 910.1,95.0 915.7,95.0 921.5,100.5 927.9,100.5 932.9,98.0 939.3,102.6 945.6,105.1 951.4,113.2 957.0,105.1 963.3,101.0 975.5,101.0 981.6,108.1 987.4,101.0 993.2,98.0 999.3,109.4 1005.1,119.0 1011.5,117.8 1017.0,113.2 1023.4,112.7 1029.2,108.1 1035.5,108.9 1041.4,111.9 1047.7,126.4 1053.3,122.1 1059.1,120.3 1059.1,87.2" fill="#111" clip-path="url(#c70)"/>
<polygon points="13.9,129.0 13.9,114.5 20.3,117.8 25.3,117.8 32.4,123.8 38.0,122.1 44.3,115.7 50.7,117.8 57.0,120.3 62.1,119.0 68.4,122.1 74.7,117.5 81.1,120.8 86.9,125.4 92.5,122.1 98.8,121.6 110.7,112.7 116.5,116.2 127.4,125.4 140.6,112.7 146.9,115.7 152.0,114.5 164.7,114.0 170.3,119.0 176.6,112.7 182.4,116.2 188.7,116.2 195.1,114.0 201.4,108.1 206.5,109.4 212.8,115.7 219.2,116.2 224.2,117.8 230.6,116.2 236.9,112.7 242.7,114.0 254.1,99.3 261.0,102.6 267.3,100.5 272.4,98.0 278.2,91.7 284.3,98.0 290.1,98.0 300.0,92.9 307.6,88.4 315.2,88.4 325.3,90.4 331.7,88.4 338.0,100.5 344.3,96.7 350.7,96.7 357.0,95.0 362.1,96.7 368.4,108.1 374.7,103.8 381.1,103.8 386.9,108.1 398.8,125.4 405.1,122.1 416.5,119.0 422.9,122.1 429.2,119.0 435.0,111.4 440.6,114.0 446.4,116.2 452.0,110.2 458.3,105.6 464.7,110.2 470.3,110.2 476.6,106.9 482.4,105.6 488.7,108.1 495.1,117.8 501.4,120.3 506.5,122.1 512.8,129.2 519.2,134.0 525.5,131.7 530.6,132.2 536.9,130.4 542.0,126.4 548.3,117.8 554.1,116.2 561.0,113.2 566.0,113.2 572.4,117.8 578.2,106.9 584.3,108.1 590.1,105.1 596.4,101.8 602.8,99.3 607.6,99.3 613.9,105.1 620.3,105.1 626.6,100.5 639.3,100.5 645.6,98.0 651.4,93.4 657.0,93.4 668.4,90.4 674.7,93.4 681.1,95.5 687.4,91.7 693.2,95.5 699.3,88.4 710.7,88.4 717.0,99.3 723.4,105.6 735.5,93.4 741.4,93.4 747.7,89.1 757.1,85.8 765.2,85.8 771.5,96.7 782.4,94.2 788.7,90.4 795.1,91.7 801.4,95.5 807.8,95.5 813.6,97.2 825.5,90.4 831.1,85.3 836.9,84.1 842.7,81.5 848.3,89.1 854.6,92.4 860.5,84.8 867.3,84.8 872.4,87.4 878.7,96.7 885.0,100.5 890.9,101.0 897.7,105.6 903.8,105.6 910.1,95.0 915.7,95.0 921.5,100.5 927.9,100.5 932.9,98.0 939.3,102.6 945.6,105.1 951.4,113.2 957.0,105.1 963.3,101.0 975.5,101.0 981.6,108.1 987.4,101.0 993.2,98.0 999.3,109.4 1005.1,119.0 1011.5,117.8 1017.0,113.2 1023.4,112.7 1029.2,108.1 1035.5,108.9 1041.4,111.9 1047.7,126.4 1053.3,122.1 1059.1,120.3 1059.1,129.0" fill="#111" clip-path="url(#c30)"/>
<line x1="12.5" x2="1194.5" y1="87.2" y2="87.2" stroke="#3333cc" stroke-width="1.35"/>
<line x1="12.5" x2="1194.5" y1="129.0" y2="129.0" stroke="#3333cc" stroke-width="1.35"/>
<line x1="12.5" x2="1194.5" y1="108.1" y2="108.1" stroke="#3333cc" stroke-width="1.35" stroke-dasharray="16.5,3.8,4.4,3.77" stroke-dashoffset="19.5"/>
<polyline points="13.9,114.5 20.3,117.8 25.3,117.8 32.4,123.8 38.0,122.1 44.3,115.7 50.7,117.8 57.0,120.3 62.1,119.0 68.4,122.1 74.7,117.5 81.1,120.8 86.9,125.4 92.5,122.1 98.8,121.6 110.7,112.7 116.5,116.2 127.4,125.4 140.6,112.7 146.9,115.7 152.0,114.5 164.7,114.0 170.3,119.0 176.6,112.7 182.4,116.2 188.7,116.2 195.1,114.0 201.4,108.1 206.5,109.4 212.8,115.7 219.2,116.2 224.2,117.8 230.6,116.2 236.9,112.7 242.7,114.0 254.1,99.3 261.0,102.6 267.3,100.5 272.4,98.0 278.2,91.7 284.3,98.0 290.1,98.0 300.0,92.9 307.6,88.4 315.2,88.4 325.3,90.4 331.7,88.4 338.0,100.5 344.3,96.7 350.7,96.7 357.0,95.0 362.1,96.7 368.4,108.1 374.7,103.8 381.1,103.8 386.9,108.1 398.8,125.4 405.1,122.1 416.5,119.0 422.9,122.1 429.2,119.0 435.0,111.4 440.6,114.0 446.4,116.2 452.0,110.2 458.3,105.6 464.7,110.2 470.3,110.2 476.6,106.9 482.4,105.6 488.7,108.1 495.1,117.8 501.4,120.3 506.5,122.1 512.8,129.2 519.2,134.0 525.5,131.7 530.6,132.2 536.9,130.4 542.0,126.4 548.3,117.8 554.1,116.2 561.0,113.2 566.0,113.2 572.4,117.8 578.2,106.9 584.3,108.1 590.1,105.1 596.4,101.8 602.8,99.3 607.6,99.3 613.9,105.1 620.3,105.1 626.6,100.5 639.3,100.5 645.6,98.0 651.4,93.4 657.0,93.4 668.4,90.4 674.7,93.4 681.1,95.5 687.4,91.7 693.2,95.5 699.3,88.4 710.7,88.4 717.0,99.3 723.4,105.6 735.5,93.4 741.4,93.4 747.7,89.1 757.1,85.8 765.2,85.8 771.5,96.7 782.4,94.2 788.7,90.4 795.1,91.7 801.4,95.5 807.8,95.5 813.6,97.2 825.5,90.4 831.1,85.3 836.9,84.1 842.7,81.5 848.3,89.1 854.6,92.4 860.5,84.8 867.3,84.8 872.4,87.4 878.7,96.7 885.0,100.5 890.9,101.0 897.7,105.6 903.8,105.6 910.1,95.0 915.7,95.0 921.5,100.5 927.9,100.5 932.9,98.0 939.3,102.6 945.6,105.1 951.4,113.2 957.0,105.1 963.3,101.0 975.5,101.0 981.6,108.1 987.4,101.0 993.2,98.0 999.3,109.4 1005.1,119.0 1011.5,117.8 1017.0,113.2 1023.4,112.7 1029.2,108.1 1035.5,108.9 1041.4,111.9 1047.7,126.4 1053.3,122.1 1059.1,120.3" fill="none" stroke="#3333cc" stroke-width="1.3" stroke-linejoin="round" stroke-linecap="round" />
<g clip-path="url(#cp)"><clipPath id="cp"><rect x="12.5" y="172" width="1182.0" height="360"/></clipPath>
<rect x="1056" y="294.5" width="9" height="8" fill="#f3e96a"/>
<path d="M14.8 308.9V343.6M14.8 315.8h-4.4M14.8 339.4h4.4" stroke="#c4143c" stroke-width="2.8" fill="none"/>
<path d="M20.8 329.7V362.5M20.8 339.4h-4.4M20.8 358.9h4.4" stroke="#c4143c" stroke-width="2.8" fill="none"/>
<path d="M26.8 350.6V374.4M26.8 358.9h-4.4M26.8 370.5h4.4" stroke="#c4143c" stroke-width="2.8" fill="none"/>
<path d="M32.8 361.5V416.7M32.8 370.5h-4.4M32.8 408.5h4.4" stroke="#c4143c" stroke-width="2.8" fill="none"/>
<path d="M38.8 389.3V421.0M38.8 408.5h-4.4M38.8 390.6h4.4" stroke="#000" stroke-width="2.8" fill="none"/>
<path d="M44.8 357.0V393.7M44.8 390.6h-4.4M44.8 367.2h4.4" stroke="#000" stroke-width="2.8" fill="none"/>
<path d="M50.8 361.5V380.4M50.8 367.2h-4.4M50.8 378.1h4.4" stroke="#c4143c" stroke-width="2.8" fill="none"/>
<path d="M56.8 382.4V400.2M56.8 383.4h-4.4M56.8 394.6h4.4" stroke="#c4143c" stroke-width="2.8" fill="none"/>
<path d="M62.9 382.4V399.8M62.9 394.6h-4.4M62.9 387.6h4.4" stroke="#000" stroke-width="2.8" fill="none"/>
<path d="M68.9 381.4V412.1M68.9 387.6h-4.4M68.9 404.7h4.4" stroke="#c4143c" stroke-width="2.8" fill="none"/>
<path d="M74.9 387.3V413.5M74.9 404.7h-4.4M74.9 395.2h4.4" stroke="#000" stroke-width="2.8" fill="none"/>
<path d="M80.9 368.8V421.0M80.9 395.2h-4.4M80.9 415.7h4.4" stroke="#c4143c" stroke-width="2.8" fill="none"/>
<path d="M86.9 403.2V439.0M86.9 415.7h-4.4M86.9 431.5h4.4" stroke="#c4143c" stroke-width="2.8" fill="none"/>
<path d="M92.9 414.1V441.9M92.9 431.5h-4.4M92.9 418.0h4.4" stroke="#000" stroke-width="2.8" fill="none"/>
<path d="M98.9 407.8V427.0M98.9 418.0h-4.4M98.9 413.6h4.4" stroke="#c4143c" stroke-width="2.8" fill="none"/>
<path d="M110.9 379.4V416.1M110.9 413.6h-4.4M110.9 399.4h4.4" stroke="#000" stroke-width="2.8" fill="none"/>
<path d="M116.9 392.9V414.7M116.9 399.4h-4.4M116.9 412.8h4.4" stroke="#c4143c" stroke-width="2.8" fill="none"/>
<path d="M122.9 408.2V440.0M122.9 412.8h-4.4M122.9 437.6h4.4" stroke="#c4143c" stroke-width="2.8" fill="none"/>
<path d="M128.9 432.0V465.8M128.9 437.6h-4.4M128.9 455.7h4.4" stroke="#c4143c" stroke-width="2.8" fill="none"/>
<path d="M134.9 426.0V470.3M134.9 455.7h-4.4M134.9 429.0h4.4" stroke="#000" stroke-width="2.8" fill="none"/>
<path d="M140.9 403.6V436.0M140.9 429.0h-4.4M140.9 413.8h4.4" stroke="#000" stroke-width="2.8" fill="none"/>
<path d="M147.0 406.8V430.0M147.0 413.8h-4.4M147.0 422.8h4.4" stroke="#c4143c" stroke-width="2.8" fill="none"/>
<path d="M153.0 403.6V429.6M153.0 422.8h-4.4M153.0 414.6h4.4" stroke="#000" stroke-width="2.8" fill="none"/>
<path d="M159.0 408.2V430.0M159.0 414.6h-4.4M159.0 422.3h4.4" stroke="#c4143c" stroke-width="2.8" fill="none"/>
<path d="M165.0 406.8V428.4M165.0 422.3h-4.4M165.0 425.0h4.4" stroke="#c4143c" stroke-width="2.8" fill="none"/>
<path d="M171.0 417.1V443.9M171.0 425.0h-4.4M171.0 435.9h4.4" stroke="#c4143c" stroke-width="2.8" fill="none"/>
<path d="M177.0 415.5V447.9M177.0 435.9h-4.4M177.0 426.3h4.4" stroke="#000" stroke-width="2.8" fill="none"/>
<path d="M183.0 417.1V456.8M183.0 426.3h-4.4M183.0 439.6h4.4" stroke="#c4143c" stroke-width="2.8" fill="none"/>
<path d="M189.0 420.1V447.9M189.0 439.6h-4.4M189.0 425.3h4.4" stroke="#000" stroke-width="2.8" fill="none"/>
<path d="M195.0 398.8V437.4M195.0 425.3h-4.4M195.0 410.3h4.4" stroke="#000" stroke-width="2.8" fill="none"/>
<path d="M201.0 402.7V428.0M201.0 410.3h-4.4M201.0 407.0h4.4" stroke="#000" stroke-width="2.8" fill="none"/>
<path d="M207.0 392.8V417.0M207.0 407.0h-4.4M207.0 416.0h4.4" stroke="#c4143c" stroke-width="2.8" fill="none"/>
<path d="M213.0 414.0V452.4M213.0 416.1h-4.4M213.0 444.5h4.4" stroke="#c4143c" stroke-width="2.8" fill="none"/>
<path d="M219.0 426.0V465.7M219.0 444.5h-4.4M219.0 433.0h4.4" stroke="#000" stroke-width="2.8" fill="none"/>
<path d="M225.0 420.0V449.2M225.0 433.0h-4.4M225.0 444.9h4.4" stroke="#c4143c" stroke-width="2.8" fill="none"/>
<path d="M231.1 434.9V452.4M231.1 444.9h-4.4M231.1 436.0h4.4" stroke="#000" stroke-width="2.8" fill="none"/>
<path d="M237.1 417.0V438.5M237.1 436.0h-4.4M237.1 424.4h4.4" stroke="#000" stroke-width="2.8" fill="none"/>
<path d="M243.1 418.4V444.8M243.1 424.4h-4.4M243.1 433.9h4.4" stroke="#c4143c" stroke-width="2.8" fill="none"/>
<path d="M249.1 402.7V440.5M249.1 433.9h-4.4M249.1 405.3h4.4" stroke="#000" stroke-width="2.8" fill="none"/>
<path d="M255.1 378.3V411.5M255.1 405.3h-4.4M255.1 382.9h4.4" stroke="#000" stroke-width="2.8" fill="none"/>
<path d="M261.1 374.9V393.8M261.1 382.9h-4.4M261.1 390.1h4.4" stroke="#c4143c" stroke-width="2.8" fill="none"/>
<path d="M267.1 381.3V399.8M267.1 390.1h-4.4M267.1 382.3h4.4" stroke="#000" stroke-width="2.8" fill="none"/>
<path d="M273.1 360.0V384.7M273.1 382.3h-4.4M273.1 363.8h4.4" stroke="#000" stroke-width="2.8" fill="none"/>
<path d="M279.1 336.6V372.8M279.1 363.8h-4.4M279.1 344.8h4.4" stroke="#000" stroke-width="2.8" fill="none"/>
<path d="M285.1 336.2V363.8M285.1 344.8h-4.4M285.1 358.8h4.4" stroke="#c4143c" stroke-width="2.8" fill="none"/>
<path d="M291.1 347.1V365.4M291.1 358.8h-4.4M291.1 349.9h4.4" stroke="#000" stroke-width="2.8" fill="none"/>
<path d="M297.1 334.6V356.5M297.1 349.9h-4.4M297.1 338.5h4.4" stroke="#000" stroke-width="2.8" fill="none"/>
<path d="M303.1 321.3V347.5M303.1 338.5h-4.4M303.1 322.3h4.4" stroke="#000" stroke-width="2.8" fill="none"/>
<path d="M309.1 303.2V324.7M309.1 322.3h-4.4M309.1 309.6h4.4" stroke="#000" stroke-width="2.8" fill="none"/>
<path d="M315.1 299.9V328.1M315.1 309.6h-4.4M315.1 317.3h4.4" stroke="#c4143c" stroke-width="2.8" fill="none"/>
<path d="M327.2 295.5V324.7M327.2 317.3h-4.4M327.2 302.0h4.4" stroke="#000" stroke-width="2.8" fill="none"/>
<path d="M333.2 287.9V317.1M333.2 302.0h-4.4M333.2 302.0h4.4" stroke="#000" stroke-width="2.8" fill="none"/>
<path d="M339.2 295.5V340.0M339.2 302.0h-4.4M339.2 332.1h4.4" stroke="#c4143c" stroke-width="2.8" fill="none"/>
<path d="M345.2 313.8V344.2M345.2 332.1h-4.4M345.2 315.6h4.4" stroke="#000" stroke-width="2.8" fill="none"/>
<path d="M351.2 298.5V319.7M351.2 315.6h-4.4M351.2 313.8h4.4" stroke="#c4143c" stroke-width="2.8" fill="none"/>
<path d="M357.2 299.9V326.3M357.2 313.8h-4.4M357.2 309.9h4.4" stroke="#000" stroke-width="2.8" fill="none"/>
<path d="M363.2 302.8V333.6M363.2 309.9h-4.4M363.2 327.1h4.4" stroke="#c4143c" stroke-width="2.8" fill="none"/>
<path d="M369.2 311.8V347.5M369.2 327.1h-4.4M369.2 342.1h4.4" stroke="#c4143c" stroke-width="2.8" fill="none"/>
<path d="M375.2 332.6V346.1M375.2 342.1h-4.4M375.2 336.7h4.4" stroke="#000" stroke-width="2.8" fill="none"/>
<path d="M381.2 325.7V348.9M381.2 336.7h-4.4M381.2 336.9h4.4" stroke="#000" stroke-width="2.8" fill="none"/>
<path d="M387.2 331.8V358.0M387.2 336.9h-4.4M387.2 354.9h4.4" stroke="#c4143c" stroke-width="2.8" fill="none"/>
<path d="M393.2 358.6V391.0M393.2 359.6h-4.4M393.2 381.7h4.4" stroke="#c4143c" stroke-width="2.8" fill="none"/>
<path d="M399.2 360.0V414.8M399.2 381.7h-4.4M399.2 410.6h4.4" stroke="#c4143c" stroke-width="2.8" fill="none"/>
<path d="M405.3 400.9V419.2M405.3 410.6h-4.4M405.3 402.4h4.4" stroke="#000" stroke-width="2.8" fill="none"/>
<path d="M417.3 385.0V405.9M417.3 402.4h-4.4M417.3 392.9h4.4" stroke="#000" stroke-width="2.8" fill="none"/>
<path d="M423.3 387.4V418.2M423.3 392.9h-4.4M423.3 412.2h4.4" stroke="#c4143c" stroke-width="2.8" fill="none"/>
<path d="M429.3 398.3V423.5M429.3 412.2h-4.4M429.3 399.6h4.4" stroke="#000" stroke-width="2.8" fill="none"/>
<path d="M435.3 367.5V402.7M435.3 399.6h-4.4M435.3 382.7h4.4" stroke="#000" stroke-width="2.8" fill="none"/>
<path d="M441.3 379.4V390.4M441.3 382.7h-4.4M441.3 388.0h4.4" stroke="#c4143c" stroke-width="2.8" fill="none"/>
<path d="M447.3 382.4V402.9M447.3 388.0h-4.4M447.3 392.4h4.4" stroke="#c4143c" stroke-width="2.8" fill="none"/>
<path d="M453.3 366.1V396.7M453.3 392.4h-4.4M453.3 370.7h4.4" stroke="#000" stroke-width="2.8" fill="none"/>
<path d="M459.3 352.6V381.4M459.3 370.7h-4.4M459.3 361.2h4.4" stroke="#000" stroke-width="2.8" fill="none"/>
<path d="M465.3 348.1V383.4M465.3 361.2h-4.4M465.3 376.1h4.4" stroke="#c4143c" stroke-width="2.8" fill="none"/>
<path d="M471.3 360.0V383.0M471.3 376.1h-4.4M471.3 364.4h4.4" stroke="#000" stroke-width="2.8" fill="none"/>
<path d="M483.3 355.6V374.5M483.3 364.4h-4.4M483.3 361.3h4.4" stroke="#000" stroke-width="2.8" fill="none"/>
<path d="M489.4 345.3V375.1M489.4 361.3h-4.4M489.4 371.5h4.4" stroke="#c4143c" stroke-width="2.8" fill="none"/>
<path d="M495.4 363.2V405.9M495.4 371.5h-4.4M495.4 401.2h4.4" stroke="#c4143c" stroke-width="2.8" fill="none"/>
<path d="M501.4 390.4V419.8M501.4 401.2h-4.4M501.4 418.5h4.4" stroke="#c4143c" stroke-width="2.8" fill="none"/>
<path d="M507.4 415.5V431.3M507.4 418.5h-4.4M507.4 429.4h4.4" stroke="#c4143c" stroke-width="2.8" fill="none"/>
<path d="M513.4 432.2V481.8M513.4 433.2h-4.4M513.4 479.5h4.4" stroke="#c4143c" stroke-width="2.8" fill="none"/>
<path d="M519.4 474.1V515.0M519.4 479.5h-4.4M519.4 511.1h4.4" stroke="#c4143c" stroke-width="2.8" fill="none"/>
<path d="M525.4 501.9V521.0M525.4 511.1h-4.4M525.4 505.4h4.4" stroke="#000" stroke-width="2.8" fill="none"/>
<path d="M531.4 494.3V513.6M531.4 505.4h-4.4M531.4 508.8h4.4" stroke="#c4143c" stroke-width="2.8" fill="none"/>
<path d="M537.4 497.6V522.5M537.4 508.8h-4.4M537.4 500.1h4.4" stroke="#000" stroke-width="2.8" fill="none"/>
<path d="M543.4 476.9V505.8M543.4 500.1h-4.4M543.4 483.9h4.4" stroke="#000" stroke-width="2.8" fill="none"/>
<path d="M549.4 457.6V500.2M549.4 483.9h-4.4M549.4 461.1h4.4" stroke="#000" stroke-width="2.8" fill="none"/>
<path d="M555.4 447.3V469.1M555.4 461.1h-4.4M555.4 451.5h4.4" stroke="#000" stroke-width="2.8" fill="none"/>
<path d="M561.4 437.8V461.4M561.4 451.5h-4.4M561.4 440.9h4.4" stroke="#000" stroke-width="2.8" fill="none"/>
<path d="M567.4 427.5V448.0M567.4 440.9h-4.4M567.4 439.9h4.4" stroke="#000" stroke-width="2.8" fill="none"/>
<path d="M573.5 436.4V463.1M573.5 439.9h-4.4M573.5 455.1h4.4" stroke="#c4143c" stroke-width="2.8" fill="none"/>
<path d="M579.5 416.9V475.1M579.5 455.1h-4.4M579.5 424.0h4.4" stroke="#000" stroke-width="2.8" fill="none"/>
<path d="M585.5 407.8V440.6M585.5 424.0h-4.4M585.5 428.0h4.4" stroke="#c4143c" stroke-width="2.8" fill="none"/>
<path d="M591.5 415.8V433.2M591.5 428.0h-4.4M591.5 416.8h4.4" stroke="#000" stroke-width="2.8" fill="none"/>
<path d="M597.5 391.0V417.8M597.5 416.4h-4.4M597.5 396.9h4.4" stroke="#000" stroke-width="2.8" fill="none"/>
<path d="M603.5 376.5V410.5M603.5 396.9h-4.4M603.5 381.8h4.4" stroke="#000" stroke-width="2.8" fill="none"/>
<path d="M609.5 372.1V394.0M609.5 381.8h-4.4M609.5 390.1h4.4" stroke="#c4143c" stroke-width="2.8" fill="none"/>
<path d="M615.5 381.1V420.8M615.5 390.1h-4.4M615.5 406.2h4.4" stroke="#c4143c" stroke-width="2.8" fill="none"/>
<path d="M621.5 393.0V411.9M621.5 406.2h-4.4M621.5 397.2h4.4" stroke="#000" stroke-width="2.8" fill="none"/>
<path d="M627.5 373.5V406.9M627.5 397.2h-4.4M627.5 388.1h4.4" stroke="#000" stroke-width="2.8" fill="none"/>
<path d="M633.5 384.1V397.4M633.5 388.1h-4.4M633.5 393.4h4.4" stroke="#c4143c" stroke-width="2.8" fill="none"/>
<path d="M639.5 379.5V419.8M639.5 393.4h-4.4M639.5 382.9h4.4" stroke="#000" stroke-width="2.8" fill="none"/>
<path d="M645.5 367.6V391.0M645.5 382.9h-4.4M645.5 369.7h4.4" stroke="#000" stroke-width="2.8" fill="none"/>
<path d="M651.5 343.3V374.7M651.5 369.7h-4.4M651.5 357.8h4.4" stroke="#000" stroke-width="2.8" fill="none"/>
<path d="M657.5 351.3V373.1M657.5 357.8h-4.4M657.5 355.7h4.4" stroke="#000" stroke-width="2.8" fill="none"/>
<path d="M663.6 342.4V365.8M663.6 355.7h-4.4M663.6 348.0h4.4" stroke="#000" stroke-width="2.8" fill="none"/>
<path d="M669.6 335.8V361.2M669.6 348.0h-4.4M669.6 341.1h4.4" stroke="#000" stroke-width="2.8" fill="none"/>
<path d="M675.6 333.0V353.3M675.6 341.1h-4.4M675.6 349.4h4.4" stroke="#c4143c" stroke-width="2.8" fill="none"/>
<path d="M681.6 340.4V356.7M681.6 349.4h-4.4M681.6 351.8h4.4" stroke="#c4143c" stroke-width="2.8" fill="none"/>
<path d="M687.6 329.8V362.6M687.6 351.8h-4.4M687.6 335.9h4.4" stroke="#000" stroke-width="2.8" fill="none"/>
<path d="M693.6 317.9V350.3M693.6 335.9h-4.4M693.6 340.6h4.4" stroke="#c4143c" stroke-width="2.8" fill="none"/>
<path d="M699.6 316.5V350.3M699.6 340.6h-4.4M699.6 320.4h4.4" stroke="#000" stroke-width="2.8" fill="none"/>
<path d="M705.6 297.1V329.4M705.6 320.4h-4.4M705.6 310.9h4.4" stroke="#000" stroke-width="2.8" fill="none"/>
<path d="M711.6 307.2V319.5M711.6 310.9h-4.4M711.6 315.8h4.4" stroke="#c4143c" stroke-width="2.8" fill="none"/>
<path d="M717.6 301.2V344.3M717.6 315.8h-4.4M717.6 340.0h4.4" stroke="#c4143c" stroke-width="2.8" fill="none"/>
<path d="M723.6 330.0V364.2M723.6 340.0h-4.4M723.6 351.8h4.4" stroke="#c4143c" stroke-width="2.8" fill="none"/>
<path d="M729.6 326.9V361.2M729.6 351.8h-4.4M729.6 333.4h4.4" stroke="#000" stroke-width="2.8" fill="none"/>
<path d="M735.6 302.6V348.7M735.6 333.4h-4.4M735.6 307.3h4.4" stroke="#000" stroke-width="2.8" fill="none"/>
<path d="M741.6 303.6V315.9M741.6 307.3h-4.4M741.6 306.5h4.4" stroke="#000" stroke-width="2.8" fill="none"/>
<path d="M747.7 277.8V313.2M747.7 306.5h-4.4M747.7 282.0h4.4" stroke="#000" stroke-width="2.8" fill="none"/>
<path d="M753.7 269.9V291.7M753.7 282.0h-4.4M753.7 273.3h4.4" stroke="#000" stroke-width="2.8" fill="none"/>
<path d="M759.7 265.5V281.4M759.7 273.3h-4.4M759.7 272.6h4.4" stroke="#000" stroke-width="2.8" fill="none"/>
<path d="M765.7 268.9V287.3M765.7 272.6h-4.4M765.7 278.2h4.4" stroke="#000" stroke-width="2.8" fill="none"/>
<path d="M771.7 274.3V298.1M771.7 278.2h-4.4M771.7 290.4h4.4" stroke="#c4143c" stroke-width="2.8" fill="none"/>
<path d="M777.7 274.9V297.1M777.7 290.4h-4.4M777.7 280.4h4.4" stroke="#000" stroke-width="2.8" fill="none"/>
<path d="M783.7 271.3V293.1M783.7 280.4h-4.4M783.7 277.8h4.4" stroke="#000" stroke-width="2.8" fill="none"/>
<path d="M789.7 267.3V307.0M789.7 277.8h-4.4M789.7 271.5h4.4" stroke="#000" stroke-width="2.8" fill="none"/>
<path d="M795.7 267.3V281.2M795.7 271.5h-4.4M795.7 277.9h4.4" stroke="#c4143c" stroke-width="2.8" fill="none"/>
<path d="M801.7 270.3V286.2M801.7 277.9h-4.4M801.7 283.2h4.4" stroke="#c4143c" stroke-width="2.8" fill="none"/>
<path d="M807.7 276.3V295.1M807.7 283.2h-4.4M807.7 289.5h4.4" stroke="#c4143c" stroke-width="2.8" fill="none"/>
<path d="M813.7 265.3V301.5M813.7 289.5h-4.4M813.7 271.3h4.4" stroke="#c4143c" stroke-width="2.8" fill="none"/>
<path d="M819.7 251.8V273.9M819.7 271.3h-4.4M819.7 257.9h4.4" stroke="#000" stroke-width="2.8" fill="none"/>
<path d="M825.7 250.4V272.3M825.7 257.9h-4.4M825.7 254.4h4.4" stroke="#000" stroke-width="2.8" fill="none"/>
<path d="M831.8 237.1V263.7M831.8 254.4h-4.4M831.8 240.5h4.4" stroke="#000" stroke-width="2.8" fill="none"/>
<path d="M837.8 229.6V248.5M837.8 240.5h-4.4M837.8 231.9h4.4" stroke="#000" stroke-width="2.8" fill="none"/>
<path d="M843.8 209.7V215.3M843.8 214.3h-4.4M843.8 211.4h4.4" stroke="#000" stroke-width="2.8" fill="none"/>
<path d="M849.8 206.7V239.5M849.8 211.4h-4.4M849.8 237.0h4.4" stroke="#c4143c" stroke-width="2.8" fill="none"/>
<path d="M855.8 231.2V257.4M855.8 237.0h-4.4M855.8 237.0h4.4" stroke="#c4143c" stroke-width="2.8" fill="none"/>
<path d="M861.8 194.8V239.5M861.8 237.0h-4.4M861.8 198.4h4.4" stroke="#000" stroke-width="2.8" fill="none"/>
<path d="M867.8 181.5V206.7M867.8 198.4h-4.4M867.8 192.1h4.4" stroke="#000" stroke-width="2.8" fill="none"/>
<path d="M873.8 185.9V218.7M873.8 192.1h-4.4M873.8 213.3h4.4" stroke="#c4143c" stroke-width="2.8" fill="none"/>
<path d="M879.8 200.8V224.6M879.8 213.3h-4.4M879.8 217.5h4.4" stroke="#c4143c" stroke-width="2.8" fill="none"/>
<path d="M885.8 196.2V242.5M885.8 217.5h-4.4M885.8 231.5h4.4" stroke="#c4143c" stroke-width="2.8" fill="none"/>
<path d="M891.8 212.7V239.5M891.8 231.5h-4.4M891.8 231.2h4.4" stroke="#000" stroke-width="2.8" fill="none"/>
<path d="M897.8 227.6V255.0M897.8 231.2h-4.4M897.8 250.1h4.4" stroke="#c4143c" stroke-width="2.8" fill="none"/>
<path d="M903.8 238.5V259.0M903.8 250.1h-4.4M903.8 244.7h4.4" stroke="#000" stroke-width="2.8" fill="none"/>
<path d="M909.8 211.7V259.0M909.8 244.7h-4.4M909.8 215.9h4.4" stroke="#000" stroke-width="2.8" fill="none"/>
<path d="M915.8 202.4V225.6M915.8 215.9h-4.4M915.8 214.5h4.4" stroke="#000" stroke-width="2.8" fill="none"/>
<path d="M921.9 209.7V230.6M921.9 214.5h-4.4M921.9 225.8h4.4" stroke="#c4143c" stroke-width="2.8" fill="none"/>
<path d="M927.9 214.7V236.5M927.9 225.8h-4.4M927.9 221.2h4.4" stroke="#000" stroke-width="2.8" fill="none"/>
<path d="M933.9 208.7V236.5M933.9 221.2h-4.4M933.9 217.0h4.4" stroke="#000" stroke-width="2.8" fill="none"/>
<path d="M939.9 206.7V239.5M939.9 217.0h-4.4M939.9 228.7h4.4" stroke="#c4143c" stroke-width="2.8" fill="none"/>
<path d="M945.9 217.3V233.6M945.9 228.7h-4.4M945.9 229.7h4.4" stroke="#c4143c" stroke-width="2.8" fill="none"/>
<path d="M951.9 220.6V259.0M951.9 229.7h-4.4M951.9 247.9h4.4" stroke="#c4143c" stroke-width="2.8" fill="none"/>
<path d="M957.9 222.0V265.3M957.9 247.9h-4.4M957.9 224.5h4.4" stroke="#000" stroke-width="2.8" fill="none"/>
<path d="M963.9 209.6V230.4M963.9 224.5h-4.4M963.9 210.6h4.4" stroke="#000" stroke-width="2.8" fill="none"/>
<path d="M969.9 193.3V211.6M969.9 210.2h-4.4M969.9 204.3h4.4" stroke="#000" stroke-width="2.8" fill="none"/>
<path d="M975.9 201.2V223.9M975.9 204.3h-4.4M975.9 218.4h4.4" stroke="#c4143c" stroke-width="2.8" fill="none"/>
<path d="M981.9 205.6V233.4M981.9 218.4h-4.4M981.9 225.1h4.4" stroke="#c4143c" stroke-width="2.8" fill="none"/>
<path d="M987.9 197.7V241.0M987.9 225.1h-4.4M987.9 201.3h4.4" stroke="#000" stroke-width="2.8" fill="none"/>
<path d="M993.9 184.2V209.6M993.9 201.3h-4.4M993.9 206.6h4.4" stroke="#000" stroke-width="2.8" fill="none"/>
<path d="M999.9 213.2V243.9M999.9 214.2h-4.4M999.9 238.4h4.4" stroke="#c4143c" stroke-width="2.8" fill="none"/>
<path d="M1006.0 225.5V281.5M1006.0 238.4h-4.4M1006.0 277.2h4.4" stroke="#c4143c" stroke-width="2.8" fill="none"/>
<path d="M1012.0 267.2V286.0M1012.0 277.2h-4.4M1012.0 269.5h4.4" stroke="#000" stroke-width="2.8" fill="none"/>
<path d="M1018.0 244.9V266.8M1018.0 265.8h-4.4M1018.0 249.1h4.4" stroke="#000" stroke-width="2.8" fill="none"/>
<path d="M1024.0 239.8V258.8M1024.0 249.1h-4.4M1024.0 245.5h4.4" stroke="#000" stroke-width="2.8" fill="none"/>
<path d="M1030.0 235.8V261.8M1030.0 245.5h-4.4M1030.0 238.7h4.4" stroke="#000" stroke-width="2.8" fill="none"/>
<path d="M1036.0 229.4V245.3M1036.0 238.7h-4.4M1036.0 242.3h4.4" stroke="#c4143c" stroke-width="2.8" fill="none"/>
<path d="M1042.0 235.4V252.9M1042.0 242.3h-4.4M1042.0 248.6h4.4" stroke="#c4143c" stroke-width="2.8" fill="none"/>
<path d="M1048.0 238.4V321.8M1048.0 248.6h-4.4M1048.0 314.8h4.4" stroke="#c4143c" stroke-width="2.8" fill="none"/>
<path d="M1054.0 298.6V323.4M1054.0 314.8h-4.4M1054.0 299.6h4.4" stroke="#000" stroke-width="2.8" fill="none"/>
<path d="M1060.0 296.0V301.0M1060.0 300.9h-4.4M1060.0 297.0h4.4" stroke="#000" stroke-width="2.8" fill="none"/>
<path d="M137.8 217.1C142.9 217.3 140.4 215.9 153.2 217.8C166.0 219.7 153.2 217.2 176.3 222.8C199.4 228.4 197.7 228.8 222.6 234.5C247.5 240.2 230.9 236.9 251.1 239.9C271.3 242.9 264.2 241.6 283.2 243.4C302.2 245.2 291.5 244.6 308.1 245.2C324.7 245.8 316.5 244.0 333.1 245.2C349.7 246.4 342.6 246.4 358.0 248.8C373.4 251.2 364.0 249.4 379.4 252.4C394.8 255.4 388.9 254.7 404.3 257.7C419.7 260.7 404.3 256.0 425.7 261.3C447.1 266.6 442.4 267.2 468.5 273.7C494.6 280.2 480.4 273.2 504.1 280.9C527.8 288.6 517.7 287.7 539.7 296.9C561.7 306.1 551.3 301.4 570.0 308.6C588.7 315.8 577.3 311.2 595.8 318.5C614.3 325.8 607.7 323.4 625.6 330.4C643.5 337.4 634.8 334.8 649.4 339.4C664.0 344.0 656.0 341.0 669.3 344.3C682.6 347.6 676.0 346.0 689.2 349.3C702.4 352.6 697.1 351.5 709.0 354.3C720.9 357.1 715.0 356.3 724.9 357.8C734.8 359.3 727.5 357.9 738.8 358.8C750.1 359.7 745.0 359.7 758.7 360.6C772.4 361.5 766.2 361.1 780.0 361.6C793.8 362.1 774.9 362.6 800.0 362.2C825.1 361.8 818.5 362.1 855.4 360.3C892.3 358.5 873.8 359.5 910.8 356.7C947.8 353.9 929.3 356.2 966.3 352.0C1003.3 347.8 990.8 348.5 1021.7 344.2C1052.6 339.9 1046.6 340.9 1059.1 339.2" fill="none" stroke="#c8283e" stroke-width="1.5" stroke-linejoin="round" stroke-linecap="round" />
<path d="M13.5 343.6C17.6 344.7 17.1 345.5 25.8 347.0C34.5 348.5 31.1 348.2 39.7 348.2C48.3 348.2 38.4 347.4 51.6 347.0C64.8 346.6 67.5 346.5 79.4 347.0C91.3 347.5 81.4 348.1 87.4 348.6C93.4 349.1 90.0 349.1 97.3 348.6C104.6 348.1 102.6 347.5 109.2 347.0C115.8 346.5 111.2 346.7 117.2 347.2C123.2 347.7 119.2 348.3 127.1 348.6C135.0 348.9 130.4 346.7 141.0 348.2C151.6 349.7 146.3 349.8 158.9 353.2C171.5 356.6 168.3 355.9 178.7 358.5C189.1 361.1 180.9 358.4 190.0 361.0C199.1 363.6 192.7 360.6 205.9 366.4C219.1 372.2 215.1 371.0 229.7 378.3C244.3 385.6 236.4 382.6 249.6 388.2C262.8 393.8 258.2 391.4 269.4 395.2C280.6 399.0 268.7 398.1 283.3 399.6C297.9 401.1 296.5 400.3 313.1 399.6C329.7 398.9 317.1 400.5 333.0 397.6C348.9 394.7 345.1 394.2 360.8 390.8C376.5 387.4 367.0 389.1 380.0 387.4C393.0 385.7 382.0 386.8 399.9 385.8C417.8 384.8 413.8 386.5 433.6 384.4C453.4 382.3 441.5 382.4 459.4 379.4C477.3 376.4 472.6 377.3 487.2 375.5C501.8 373.7 495.1 373.9 503.1 373.9C511.1 373.9 504.5 373.5 511.1 375.5C517.7 377.5 509.8 376.8 523.0 379.8C536.2 382.8 535.1 382.5 550.8 384.4C566.5 386.3 555.0 383.4 570.0 385.5C585.0 387.6 579.2 387.1 595.8 390.6C612.4 394.1 605.1 392.7 619.7 396.0C634.3 399.3 625.0 398.2 639.5 400.5C654.0 402.8 646.7 401.8 663.3 402.9C679.9 404.0 674.0 404.8 689.2 403.9C704.4 403.0 696.4 402.6 709.0 400.3C721.6 398.0 716.3 399.8 726.9 397.0C737.5 394.2 730.9 395.5 740.8 392.0C750.7 388.5 747.0 389.5 756.7 386.4C766.4 383.3 758.9 386.8 770.0 382.7C781.1 378.6 778.3 379.2 790.0 374.0C801.7 368.8 795.1 371.7 805.0 367.0C814.9 362.3 808.1 368.1 819.6 360.0C831.1 351.9 826.2 353.8 839.4 342.8C852.6 331.8 846.0 337.5 859.3 326.9C872.6 316.3 866.0 320.3 879.2 311.0C892.4 301.7 885.8 307.0 899.0 299.1C912.2 291.2 905.7 294.8 918.9 287.2C932.1 279.6 925.0 282.3 938.7 276.3C952.4 270.3 946.2 274.9 959.9 269.2C973.6 263.5 967.8 264.6 979.7 259.2C991.6 253.8 983.7 255.9 995.6 252.9C1007.5 249.9 1004.9 253.0 1015.5 250.3C1026.1 247.6 1019.5 247.5 1027.4 244.9C1035.3 242.3 1030.7 243.1 1039.3 242.4C1047.9 241.7 1046.6 242.0 1053.2 242.8C1059.8 243.6 1057.2 244.2 1059.2 244.9" fill="none" stroke="#23238e" stroke-width="1.35" stroke-linejoin="round" stroke-linecap="round" />
<path d="M13.5 299.9C15.6 302.2 15.8 300.9 19.9 306.9C24.0 312.9 21.8 308.2 25.8 317.8C29.8 327.4 27.2 325.1 31.8 335.7C36.4 346.3 33.1 342.3 39.7 349.6C46.3 356.9 45.0 351.9 51.6 357.5C58.2 363.1 53.6 358.2 59.6 366.5C65.6 374.8 62.9 374.1 69.5 382.4C76.1 390.7 74.1 386.4 79.4 391.3C84.7 396.2 78.8 393.6 85.4 397.2C92.0 400.8 90.7 399.9 99.3 402.2C107.9 404.5 104.6 401.9 111.2 404.2C117.8 406.5 113.9 404.9 119.2 409.2C124.5 413.5 121.2 413.1 127.1 417.1C133.0 421.1 129.7 419.1 137.0 421.1C144.3 423.1 139.7 422.8 149.0 423.1C158.3 423.4 156.2 420.8 164.8 422.1C173.4 423.4 168.8 425.2 174.8 427.0C180.8 428.8 177.4 428.0 182.7 427.4C188.0 426.8 184.9 426.1 190.7 425.1C196.5 424.1 194.9 425.2 200.0 424.5C205.1 423.8 201.6 422.5 205.9 423.0C210.2 423.5 206.2 424.0 212.8 426.0C219.4 428.0 216.1 428.1 225.7 429.0C235.3 429.9 233.6 429.9 241.6 428.6C249.6 427.3 242.3 428.2 249.6 425.0C256.9 421.8 255.6 424.3 263.5 419.0C271.4 413.7 266.8 417.7 273.4 409.1C280.0 400.5 275.4 405.1 283.3 393.2C291.2 381.3 288.6 386.5 297.2 373.3C305.8 360.1 301.9 363.4 309.2 353.5C316.5 343.6 312.5 349.6 319.1 343.6C325.7 337.6 322.4 341.2 329.0 335.6C335.6 330.0 332.4 331.7 339.0 326.7C345.6 321.7 341.6 324.5 348.9 320.7C356.2 316.9 354.2 316.7 360.8 315.4C367.4 314.1 362.1 314.6 368.7 316.7C375.3 318.8 373.6 317.3 380.7 321.7C387.8 326.1 382.2 320.8 389.9 329.8C397.6 338.8 395.2 339.4 403.8 348.7C412.4 358.0 408.4 349.3 415.7 357.6C423.0 365.9 419.1 365.6 425.7 373.5C432.3 381.4 429.0 375.8 435.6 381.4C442.2 387.0 439.5 385.8 445.5 390.4C451.5 395.0 447.5 395.3 453.5 395.3C459.5 395.3 454.8 394.7 463.4 390.4C472.0 386.1 470.7 387.0 479.3 382.4C487.9 377.8 483.9 378.0 489.2 376.5C494.5 375.0 489.2 374.9 495.2 377.9C501.2 380.9 500.5 378.9 507.1 385.4C513.7 391.9 509.7 386.7 515.0 397.3C520.3 407.9 516.4 402.0 523.0 417.2C529.6 432.4 527.0 426.5 534.9 443.0C542.8 459.5 540.2 455.9 546.8 466.8C553.4 477.7 548.5 471.5 554.8 475.8C561.1 480.1 559.4 479.4 565.7 479.7C572.0 480.0 568.8 481.4 573.6 476.8C578.4 472.2 575.2 474.3 580.0 466.0C584.8 457.7 582.7 460.7 588.0 452.0C593.3 443.3 589.9 448.4 595.8 440.0C601.7 431.6 599.1 433.9 605.7 426.8C612.3 419.7 607.7 425.4 615.7 418.8C623.7 412.2 620.3 414.8 629.6 406.9C638.9 399.0 634.9 402.3 643.5 395.0C652.1 387.7 646.8 392.3 655.4 385.0C664.0 377.7 660.7 380.7 669.3 373.1C677.9 365.5 673.3 368.8 681.2 362.2C689.1 355.6 685.2 360.6 693.1 353.3C701.0 346.0 698.4 346.4 705.0 340.4C711.6 334.4 705.0 337.4 713.0 335.4C721.0 333.4 720.3 337.0 728.9 334.4C737.5 331.8 732.2 333.1 738.8 327.5C745.4 321.9 742.1 323.8 748.7 317.5C755.3 311.2 751.0 314.1 758.7 308.6C766.4 303.1 763.5 307.6 771.9 301.1C780.3 294.6 775.9 295.8 783.8 289.2C791.7 282.6 787.7 284.9 795.7 281.2C803.7 277.5 799.7 279.5 807.7 278.2C815.7 276.9 813.0 278.8 819.6 277.2C826.2 275.6 820.9 278.2 827.5 273.3C834.1 268.4 832.8 268.4 839.4 262.4C846.0 256.4 842.1 259.1 847.4 255.4C852.7 251.7 850.0 256.4 855.3 251.4C860.6 246.4 858.0 247.8 863.3 240.5C868.6 233.2 865.9 235.1 871.2 229.6C876.5 224.1 872.6 226.8 879.2 224.0C885.8 221.2 883.2 220.0 891.1 221.2C899.0 222.4 895.7 227.1 903.0 227.6C910.3 228.1 904.3 222.7 912.9 222.6C921.5 222.5 919.8 225.9 928.8 227.2C937.8 228.5 933.0 225.8 940.0 226.5C947.0 227.2 943.3 229.9 949.9 229.4C956.5 228.9 950.0 226.9 959.9 225.1C969.8 223.3 969.1 225.3 979.7 223.9C990.3 222.5 985.0 221.7 991.6 220.9C998.2 220.1 995.0 219.6 999.6 221.5C1004.2 223.4 1000.2 223.9 1005.5 226.5C1010.8 229.1 1008.9 226.4 1015.5 229.4C1022.1 232.4 1018.8 232.1 1025.4 235.4C1032.0 238.7 1029.3 236.1 1035.3 239.4C1041.3 242.7 1038.7 239.4 1043.3 245.3C1047.9 251.2 1045.2 250.2 1049.2 257.2C1053.2 264.2 1051.9 261.9 1055.2 266.2C1058.5 270.5 1057.9 268.9 1059.2 270.2" fill="none" stroke="#3d7a2a" stroke-width="1.4" stroke-linejoin="round" stroke-linecap="round" />
<line x1="824.9" y1="405.7" x2="888.6" y2="285.6" stroke="#5b8fdd" stroke-width="1.6" stroke-dasharray="6,4"/>
<polygon points="897.5,268.8 895.7,289.3 881.5,281.8" fill="#4f80d8"/>
<line x1="861.0" y1="410.2" x2="943.6" y2="291.1" stroke="#5b8fdd" stroke-width="1.6" stroke-dasharray="6,4"/>
<polygon points="954.4,275.5 950.1,295.7 937.0,286.6" fill="#4f80d8"/>
<line x1="897.0" y1="414.9" x2="997.7" y2="305.6" stroke="#5b8fdd" stroke-width="1.6" stroke-dasharray="6,4"/>
<polygon points="1010.6,291.6 1003.6,311.0 991.8,300.2" fill="#4f80d8"/>
<line x1="951.0" y1="420.4" x2="1038.0" y2="342.5" stroke="#5b8fdd" stroke-width="1.6" stroke-dasharray="6,4"/>
<polygon points="1052.2,329.8 1043.4,348.4 1032.7,336.5" fill="#4f80d8"/>
<path d="M1065.2 324.3 C1069 312 1074 298 1079.9 290.2 C1084 284.5 1090 280.5 1095 285 C1106 296 1117 345 1125 415.7" stroke="#e8403a" stroke-width="1.5" fill="none"/>
<rect x="1062.0" y="321.1" width="6.4" height="6.4" fill="#ffe94a" stroke="#f0a030" stroke-width="1.2"/>
<rect x="1076.7" y="287.0" width="6.4" height="6.4" fill="#ffe94a" stroke="#f0a030" stroke-width="1.2"/>
<rect x="1121.8" y="412.5" width="6.4" height="6.4" fill="#ffe94a" stroke="#f0a030" stroke-width="1.2"/>
</g>
<line x1="968.8" y1="157.5" x2="1122.3" y2="306.5" stroke="#e95de9" stroke-width="1.8" stroke-dasharray="7,4"/>
<text x="446.5" y="166.6" font-size="32" fill="#4d7d2b" font-weight="bold" textLength="67.5" lengthAdjust="spacingAndGlyphs" >USD</text>
<rect x="13.1" y="738.8" width="6" height="14.4" fill="#9898ca" stroke="#6c6ca8" stroke-width="0.8"/>
<rect x="17.8" y="738.8" width="6" height="15.9" fill="#9898ca" stroke="#6c6ca8" stroke-width="0.8"/>
<rect x="23.8" y="738.8" width="6" height="19.6" fill="#9898ca" stroke="#6c6ca8" stroke-width="0.8"/>
<rect x="29.8" y="738.8" width="6" height="21.8" fill="#9898ca" stroke="#6c6ca8" stroke-width="0.8"/>
<rect x="35.8" y="738.8" width="6" height="19.1" fill="#9898ca" stroke="#6c6ca8" stroke-width="0.8"/>
<rect x="41.8" y="738.8" width="6" height="15.4" fill="#9898ca" stroke="#6c6ca8" stroke-width="0.8"/>
<rect x="47.8" y="738.8" width="6" height="13.4" fill="#9898ca" stroke="#6c6ca8" stroke-width="0.8"/>
<rect x="53.8" y="738.8" width="6" height="14.2" fill="#9898ca" stroke="#6c6ca8" stroke-width="0.8"/>
<rect x="59.9" y="738.8" width="6" height="13.5" fill="#9898ca" stroke="#6c6ca8" stroke-width="0.8"/>
<rect x="65.9" y="738.8" width="6" height="12.1" fill="#9898ca" stroke="#6c6ca8" stroke-width="0.8"/>
<rect x="71.9" y="738.8" width="6" height="10.3" fill="#9898ca" stroke="#6c6ca8" stroke-width="0.8"/>
<rect x="77.9" y="738.8" width="6" height="10.0" fill="#9898ca" stroke="#6c6ca8" stroke-width="0.8"/>
<rect x="83.9" y="738.8" width="6" height="10.5" fill="#9898ca" stroke="#6c6ca8" stroke-width="0.8"/>
<rect x="89.9" y="738.8" width="6" height="9.7" fill="#9898ca" stroke="#6c6ca8" stroke-width="0.8"/>
<rect x="95.9" y="738.8" width="6" height="7.3" fill="#9898ca" stroke="#6c6ca8" stroke-width="0.8"/>
<rect x="107.9" y="738.8" width="6" height="4.0" fill="#9898ca" stroke="#6c6ca8" stroke-width="0.8"/>
<rect x="113.9" y="738.8" width="6" height="2.2" fill="#9898ca" stroke="#6c6ca8" stroke-width="0.8"/>
<rect x="119.9" y="738.8" width="6" height="3.1" fill="#9898ca" stroke="#6c6ca8" stroke-width="0.8"/>
<rect x="125.9" y="738.8" width="6" height="5.7" fill="#9898ca" stroke="#6c6ca8" stroke-width="0.8"/>
<rect x="131.9" y="738.8" width="6" height="2.7" fill="#9898ca" stroke="#6c6ca8" stroke-width="0.8"/>
<rect x="137.9" y="738.2" width="6" height="1.2" fill="#6a6a6a"/>
<rect x="144.0" y="738.2" width="6" height="1.2" fill="#6a6a6a"/>
<rect x="150.0" y="736.5" width="6" height="2.3" fill="#7c7c7c" stroke="#555" stroke-width="0.8"/>
<rect x="156.0" y="735.6" width="6" height="3.2" fill="#7c7c7c" stroke="#555" stroke-width="0.8"/>
<rect x="162.0" y="734.4" width="6" height="4.4" fill="#7c7c7c" stroke="#555" stroke-width="0.8"/>
<rect x="168.0" y="736.0" width="6" height="2.8" fill="#7c7c7c" stroke="#555" stroke-width="0.8"/>
<rect x="174.0" y="734.4" width="6" height="4.4" fill="#7c7c7c" stroke="#555" stroke-width="0.8"/>
<rect x="180.0" y="734.7" width="6" height="4.1" fill="#7c7c7c" stroke="#555" stroke-width="0.8"/>
<rect x="186.0" y="735.7" width="6" height="3.1" fill="#7c7c7c" stroke="#555" stroke-width="0.8"/>
<rect x="192.0" y="734.2" width="6" height="4.6" fill="#7c7c7c" stroke="#555" stroke-width="0.8"/>
<rect x="198.0" y="732.3" width="6" height="6.5" fill="#7c7c7c" stroke="#555" stroke-width="0.8"/>
<rect x="204.0" y="731.8" width="6" height="7.0" fill="#7c7c7c" stroke="#555" stroke-width="0.8"/>
<rect x="210.0" y="732.7" width="6" height="6.1" fill="#7c7c7c" stroke="#555" stroke-width="0.8"/>
<rect x="216.0" y="734.2" width="6" height="4.6" fill="#7c7c7c" stroke="#555" stroke-width="0.8"/>
<rect x="222.0" y="736.1" width="6" height="2.7" fill="#7c7c7c" stroke="#555" stroke-width="0.8"/>
<rect x="228.1" y="736.5" width="6" height="2.3" fill="#7c7c7c" stroke="#555" stroke-width="0.8"/>
<rect x="234.1" y="735.7" width="6" height="3.1" fill="#7c7c7c" stroke="#555" stroke-width="0.8"/>
<rect x="240.1" y="734.1" width="6" height="4.7" fill="#7c7c7c" stroke="#555" stroke-width="0.8"/>
<rect x="246.1" y="730.4" width="6" height="8.4" fill="#7c7c7c" stroke="#555" stroke-width="0.8"/>
<rect x="252.1" y="727.8" width="6" height="11.0" fill="#7c7c7c" stroke="#555" stroke-width="0.8"/>
<rect x="258.1" y="725.8" width="6" height="13.0" fill="#7c7c7c" stroke="#555" stroke-width="0.8"/>
<rect x="264.1" y="725.6" width="6" height="13.2" fill="#7c7c7c" stroke="#555" stroke-width="0.8"/>
<rect x="270.1" y="723.8" width="6" height="15.0" fill="#7c7c7c" stroke="#555" stroke-width="0.8"/>
<rect x="276.1" y="722.4" width="6" height="16.4" fill="#7c7c7c" stroke="#555" stroke-width="0.8"/>
<rect x="282.1" y="721.6" width="6" height="17.2" fill="#7c7c7c" stroke="#555" stroke-width="0.8"/>
<rect x="288.1" y="721.8" width="6" height="17.0" fill="#7c7c7c" stroke="#555" stroke-width="0.8"/>
<rect x="294.1" y="724.0" width="6" height="14.8" fill="#7c7c7c" stroke="#555" stroke-width="0.8"/>
<rect x="300.1" y="723.1" width="6" height="15.7" fill="#7c7c7c" stroke="#555" stroke-width="0.8"/>
<rect x="306.1" y="720.9" width="6" height="17.9" fill="#7c7c7c" stroke="#555" stroke-width="0.8"/>
<rect x="312.1" y="721.4" width="6" height="17.4" fill="#7c7c7c" stroke="#555" stroke-width="0.8"/>
<rect x="324.2" y="725.4" width="6" height="13.4" fill="#7c7c7c" stroke="#555" stroke-width="0.8"/>
<rect x="330.2" y="728.0" width="6" height="10.8" fill="#7c7c7c" stroke="#555" stroke-width="0.8"/>
<rect x="336.2" y="731.5" width="6" height="7.3" fill="#7c7c7c" stroke="#555" stroke-width="0.8"/>
<rect x="342.2" y="732.9" width="6" height="5.9" fill="#7c7c7c" stroke="#555" stroke-width="0.8"/>
<rect x="348.2" y="734.2" width="6" height="4.6" fill="#7c7c7c" stroke="#555" stroke-width="0.8"/>
<rect x="354.2" y="734.6" width="6" height="4.2" fill="#7c7c7c" stroke="#555" stroke-width="0.8"/>
<rect x="360.2" y="737.2" width="6" height="1.6" fill="#7c7c7c" stroke="#555" stroke-width="0.8"/>
<rect x="366.2" y="738.8" width="6" height="1.4" fill="#9898ca" stroke="#6c6ca8" stroke-width="0.8"/>
<rect x="372.2" y="738.8" width="6" height="4.2" fill="#9898ca" stroke="#6c6ca8" stroke-width="0.8"/>
<rect x="378.2" y="738.8" width="6" height="6.3" fill="#9898ca" stroke="#6c6ca8" stroke-width="0.8"/>
<rect x="384.2" y="738.8" width="6" height="8.1" fill="#9898ca" stroke="#6c6ca8" stroke-width="0.8"/>
<rect x="390.2" y="738.8" width="6" height="11.6" fill="#9898ca" stroke="#6c6ca8" stroke-width="0.8"/>
<rect x="396.2" y="738.8" width="6" height="14.6" fill="#9898ca" stroke="#6c6ca8" stroke-width="0.8"/>
<rect x="402.3" y="738.8" width="6" height="18.8" fill="#9898ca" stroke="#6c6ca8" stroke-width="0.8"/>
<rect x="414.3" y="738.8" width="6" height="20.1" fill="#9898ca" stroke="#6c6ca8" stroke-width="0.8"/>
<rect x="420.3" y="738.8" width="6" height="18.5" fill="#9898ca" stroke="#6c6ca8" stroke-width="0.8"/>
<rect x="426.3" y="738.8" width="6" height="16.8" fill="#9898ca" stroke="#6c6ca8" stroke-width="0.8"/>
<rect x="432.3" y="738.8" width="6" height="14.0" fill="#9898ca" stroke="#6c6ca8" stroke-width="0.8"/>
<rect x="438.3" y="738.8" width="6" height="11.4" fill="#9898ca" stroke="#6c6ca8" stroke-width="0.8"/>
<rect x="444.3" y="738.8" width="6" height="8.8" fill="#9898ca" stroke="#6c6ca8" stroke-width="0.8"/>
<rect x="450.3" y="738.8" width="6" height="6.9" fill="#9898ca" stroke="#6c6ca8" stroke-width="0.8"/>
<rect x="456.3" y="738.8" width="6" height="4.6" fill="#9898ca" stroke="#6c6ca8" stroke-width="0.8"/>
<rect x="462.3" y="738.8" width="6" height="2.3" fill="#9898ca" stroke="#6c6ca8" stroke-width="0.8"/>
<rect x="468.3" y="738.2" width="6" height="1.2" fill="#6a6a6a"/>
<rect x="480.3" y="736.5" width="6" height="2.3" fill="#7c7c7c" stroke="#555" stroke-width="0.8"/>
<rect x="486.4" y="735.8" width="6" height="3.0" fill="#7c7c7c" stroke="#555" stroke-width="0.8"/>
<rect x="492.4" y="738.8" width="6" height="1.1" fill="#9898ca" stroke="#6c6ca8" stroke-width="0.8"/>
<rect x="498.4" y="738.8" width="6" height="4.2" fill="#9898ca" stroke="#6c6ca8" stroke-width="0.8"/>
<rect x="504.4" y="738.8" width="6" height="6.2" fill="#9898ca" stroke="#6c6ca8" stroke-width="0.8"/>
<rect x="510.4" y="738.8" width="6" height="10.8" fill="#9898ca" stroke="#6c6ca8" stroke-width="0.8"/>
<rect x="516.4" y="738.8" width="6" height="15.0" fill="#9898ca" stroke="#6c6ca8" stroke-width="0.8"/>
<rect x="522.4" y="738.8" width="6" height="17.5" fill="#9898ca" stroke="#6c6ca8" stroke-width="0.8"/>
<rect x="528.4" y="738.8" width="6" height="19.3" fill="#9898ca" stroke="#6c6ca8" stroke-width="0.8"/>
<rect x="534.4" y="738.8" width="6" height="19.1" fill="#9898ca" stroke="#6c6ca8" stroke-width="0.8"/>
<rect x="540.4" y="738.8" width="6" height="15.9" fill="#9898ca" stroke="#6c6ca8" stroke-width="0.8"/>
<rect x="546.4" y="738.8" width="6" height="11.2" fill="#9898ca" stroke="#6c6ca8" stroke-width="0.8"/>
<rect x="552.4" y="738.8" width="6" height="4.2" fill="#9898ca" stroke="#6c6ca8" stroke-width="0.8"/>
<rect x="558.4" y="737.9" width="6" height="0.9" fill="#7c7c7c" stroke="#555" stroke-width="0.8"/>
<rect x="564.4" y="733.8" width="6" height="5.0" fill="#7c7c7c" stroke="#555" stroke-width="0.8"/>
<rect x="570.5" y="732.1" width="6" height="6.7" fill="#7c7c7c" stroke="#555" stroke-width="0.8"/>
<rect x="576.5" y="729.9" width="6" height="8.9" fill="#7c7c7c" stroke="#555" stroke-width="0.8"/>
<rect x="582.5" y="727.3" width="6" height="11.5" fill="#7c7c7c" stroke="#555" stroke-width="0.8"/>
<rect x="588.5" y="724.9" width="6" height="13.9" fill="#7c7c7c" stroke="#555" stroke-width="0.8"/>
<rect x="594.5" y="722.4" width="6" height="16.4" fill="#7c7c7c" stroke="#555" stroke-width="0.8"/>
<rect x="600.5" y="720.4" width="6" height="18.4" fill="#7c7c7c" stroke="#555" stroke-width="0.8"/>
<rect x="606.5" y="719.9" width="6" height="18.9" fill="#7c7c7c" stroke="#555" stroke-width="0.8"/>
<rect x="612.5" y="722.8" width="6" height="16.0" fill="#7c7c7c" stroke="#555" stroke-width="0.8"/>
<rect x="618.5" y="724.2" width="6" height="14.6" fill="#7c7c7c" stroke="#555" stroke-width="0.8"/>
<rect x="624.5" y="725.0" width="6" height="13.8" fill="#7c7c7c" stroke="#555" stroke-width="0.8"/>
<rect x="630.5" y="726.1" width="6" height="12.7" fill="#7c7c7c" stroke="#555" stroke-width="0.8"/>
<rect x="636.5" y="727.0" width="6" height="11.8" fill="#7c7c7c" stroke="#555" stroke-width="0.8"/>
<rect x="642.5" y="726.3" width="6" height="12.5" fill="#7c7c7c" stroke="#555" stroke-width="0.8"/>
<rect x="648.5" y="724.6" width="6" height="14.2" fill="#7c7c7c" stroke="#555" stroke-width="0.8"/>
<rect x="654.5" y="724.0" width="6" height="14.8" fill="#7c7c7c" stroke="#555" stroke-width="0.8"/>
<rect x="660.6" y="724.6" width="6" height="14.2" fill="#7c7c7c" stroke="#555" stroke-width="0.8"/>
<rect x="666.6" y="725.2" width="6" height="13.6" fill="#7c7c7c" stroke="#555" stroke-width="0.8"/>
<rect x="672.6" y="726.7" width="6" height="12.1" fill="#7c7c7c" stroke="#555" stroke-width="0.8"/>
<rect x="678.6" y="728.6" width="6" height="10.2" fill="#7c7c7c" stroke="#555" stroke-width="0.8"/>
<rect x="684.6" y="729.9" width="6" height="8.9" fill="#7c7c7c" stroke="#555" stroke-width="0.8"/>
<rect x="690.6" y="730.7" width="6" height="8.1" fill="#7c7c7c" stroke="#555" stroke-width="0.8"/>
<rect x="696.6" y="730.4" width="6" height="8.4" fill="#7c7c7c" stroke="#555" stroke-width="0.8"/>
<rect x="702.6" y="730.8" width="6" height="8.0" fill="#7c7c7c" stroke="#555" stroke-width="0.8"/>
<rect x="708.6" y="731.7" width="6" height="7.1" fill="#7c7c7c" stroke="#555" stroke-width="0.8"/>
<rect x="714.6" y="736.3" width="6" height="2.5" fill="#7c7c7c" stroke="#555" stroke-width="0.8"/>
<rect x="720.6" y="738.8" width="6" height="1.2" fill="#9898ca" stroke="#6c6ca8" stroke-width="0.8"/>
<rect x="726.6" y="738.8" width="6" height="0.7" fill="#9898ca" stroke="#6c6ca8" stroke-width="0.8"/>
<rect x="732.6" y="738.2" width="6" height="1.2" fill="#6a6a6a"/>
<rect x="738.6" y="737.2" width="6" height="1.6" fill="#7c7c7c" stroke="#555" stroke-width="0.8"/>
<rect x="744.7" y="735.6" width="6" height="3.2" fill="#7c7c7c" stroke="#555" stroke-width="0.8"/>
<rect x="750.7" y="734.0" width="6" height="4.8" fill="#7c7c7c" stroke="#555" stroke-width="0.8"/>
<rect x="756.7" y="732.7" width="6" height="6.1" fill="#7c7c7c" stroke="#555" stroke-width="0.8"/>
<rect x="762.7" y="733.0" width="6" height="5.8" fill="#7c7c7c" stroke="#555" stroke-width="0.8"/>
<rect x="768.7" y="735.7" width="6" height="3.1" fill="#7c7c7c" stroke="#555" stroke-width="0.8"/>
<rect x="774.7" y="738.2" width="6" height="1.2" fill="#6a6a6a"/>
<rect x="780.7" y="738.2" width="6" height="1.2" fill="#6a6a6a"/>
<rect x="786.7" y="738.2" width="6" height="1.2" fill="#6a6a6a"/>
<rect x="792.7" y="738.2" width="6" height="1.2" fill="#6a6a6a"/>
<rect x="798.7" y="738.8" width="6" height="1.9" fill="#9898ca" stroke="#6c6ca8" stroke-width="0.8"/>
<rect x="804.7" y="738.8" width="6" height="3.3" fill="#9898ca" stroke="#6c6ca8" stroke-width="0.8"/>
<rect x="810.7" y="738.8" width="6" height="4.0" fill="#9898ca" stroke="#6c6ca8" stroke-width="0.8"/>
<rect x="816.7" y="738.8" width="6" height="4.7" fill="#9898ca" stroke="#6c6ca8" stroke-width="0.8"/>
<rect x="822.7" y="738.8" width="6" height="3.6" fill="#9898ca" stroke="#6c6ca8" stroke-width="0.8"/>
<rect x="828.8" y="738.2" width="6" height="1.2" fill="#6a6a6a"/>
<rect x="834.8" y="735.6" width="6" height="3.2" fill="#7c7c7c" stroke="#555" stroke-width="0.8"/>
<rect x="840.8" y="733.9" width="6" height="4.9" fill="#7c7c7c" stroke="#555" stroke-width="0.8"/>
<rect x="846.8" y="734.5" width="6" height="4.3" fill="#7c7c7c" stroke="#555" stroke-width="0.8"/>
<rect x="852.8" y="734.8" width="6" height="4.0" fill="#7c7c7c" stroke="#555" stroke-width="0.8"/>
<rect x="858.8" y="733.8" width="6" height="5.0" fill="#7c7c7c" stroke="#555" stroke-width="0.8"/>
<rect x="864.8" y="733.5" width="6" height="5.3" fill="#7c7c7c" stroke="#555" stroke-width="0.8"/>
<rect x="870.8" y="733.6" width="6" height="5.2" fill="#7c7c7c" stroke="#555" stroke-width="0.8"/>
<rect x="876.8" y="737.5" width="6" height="1.3" fill="#7c7c7c" stroke="#555" stroke-width="0.8"/>
<rect x="882.8" y="738.8" width="6" height="2.8" fill="#9898ca" stroke="#6c6ca8" stroke-width="0.8"/>
<rect x="888.8" y="738.8" width="6" height="7.0" fill="#9898ca" stroke="#6c6ca8" stroke-width="0.8"/>
<rect x="894.8" y="738.8" width="6" height="7.7" fill="#9898ca" stroke="#6c6ca8" stroke-width="0.8"/>
<rect x="900.8" y="738.8" width="6" height="7.3" fill="#9898ca" stroke="#6c6ca8" stroke-width="0.8"/>
<rect x="906.8" y="738.8" width="6" height="5.9" fill="#9898ca" stroke="#6c6ca8" stroke-width="0.8"/>
<rect x="912.8" y="738.8" width="6" height="2.5" fill="#9898ca" stroke="#6c6ca8" stroke-width="0.8"/>
<rect x="918.9" y="738.8" width="6" height="3.6" fill="#9898ca" stroke="#6c6ca8" stroke-width="0.8"/>
<rect x="924.9" y="738.8" width="6" height="4.3" fill="#9898ca" stroke="#6c6ca8" stroke-width="0.8"/>
<rect x="930.9" y="738.8" width="6" height="4.1" fill="#9898ca" stroke="#6c6ca8" stroke-width="0.8"/>
<rect x="936.9" y="738.8" width="6" height="4.6" fill="#9898ca" stroke="#6c6ca8" stroke-width="0.8"/>
<rect x="942.9" y="738.8" width="6" height="6.5" fill="#9898ca" stroke="#6c6ca8" stroke-width="0.8"/>
<rect x="948.9" y="738.8" width="6" height="9.4" fill="#9898ca" stroke="#6c6ca8" stroke-width="0.8"/>
<rect x="954.9" y="738.8" width="6" height="6.8" fill="#9898ca" stroke="#6c6ca8" stroke-width="0.8"/>
<rect x="960.9" y="738.8" width="6" height="5.2" fill="#9898ca" stroke="#6c6ca8" stroke-width="0.8"/>
<rect x="966.9" y="738.8" width="6" height="4.3" fill="#9898ca" stroke="#6c6ca8" stroke-width="0.8"/>
<rect x="972.9" y="738.8" width="6" height="4.2" fill="#9898ca" stroke="#6c6ca8" stroke-width="0.8"/>
<rect x="978.9" y="738.8" width="6" height="4.7" fill="#9898ca" stroke="#6c6ca8" stroke-width="0.8"/>
<rect x="984.9" y="738.8" width="6" height="2.8" fill="#9898ca" stroke="#6c6ca8" stroke-width="0.8"/>
<rect x="990.9" y="738.2" width="6" height="1.2" fill="#6a6a6a"/>
<rect x="996.9" y="738.8" width="6" height="3.5" fill="#9898ca" stroke="#6c6ca8" stroke-width="0.8"/>
<rect x="1003.0" y="738.8" width="6" height="9.0" fill="#9898ca" stroke="#6c6ca8" stroke-width="0.8"/>
<rect x="1009.0" y="738.8" width="6" height="11.5" fill="#9898ca" stroke="#6c6ca8" stroke-width="0.8"/>
<rect x="1015.0" y="738.8" width="6" height="12.2" fill="#9898ca" stroke="#6c6ca8" stroke-width="0.8"/>
<rect x="1021.0" y="738.8" width="6" height="11.4" fill="#9898ca" stroke="#6c6ca8" stroke-width="0.8"/>
<rect x="1027.0" y="738.8" width="6" height="9.7" fill="#9898ca" stroke="#6c6ca8" stroke-width="0.8"/>
<rect x="1033.0" y="738.8" width="6" height="8.0" fill="#9898ca" stroke="#6c6ca8" stroke-width="0.8"/>
<rect x="1039.0" y="738.8" width="6" height="7.8" fill="#9898ca" stroke="#6c6ca8" stroke-width="0.8"/>
<rect x="1045.0" y="738.8" width="6" height="12.7" fill="#9898ca" stroke="#6c6ca8" stroke-width="0.8"/>
<rect x="1051.0" y="738.8" width="6" height="13.4" fill="#9898ca" stroke="#6c6ca8" stroke-width="0.8"/>
<rect x="1057.0" y="738.8" width="6" height="13.5" fill="#9898ca" stroke="#6c6ca8" stroke-width="0.8"/>
<path d="M13.9 721.1C17.7 723.9 19.1 724.8 25.3 729.5C31.5 734.2 27.3 730.2 32.4 735.3C37.5 740.4 34.4 739.0 40.5 744.7C46.6 750.4 43.9 748.3 50.7 752.3C57.5 756.3 54.1 753.2 60.8 756.6C67.5 760.0 64.1 759.4 70.9 762.4C77.7 765.4 74.3 762.9 81.1 765.7C87.9 768.5 85.3 768.1 91.2 770.8C97.1 773.5 92.0 772.8 98.8 773.8C105.6 774.8 104.7 773.6 111.5 773.8C118.3 774.0 113.2 773.3 119.1 774.3C125.0 775.3 123.3 775.4 129.2 776.9C135.1 778.4 130.9 778.9 136.8 778.9C142.7 778.9 140.1 778.2 146.9 776.9C153.7 775.6 150.3 776.3 157.1 775.1C163.9 773.9 160.4 774.2 167.2 773.3C174.0 772.4 170.6 773.3 177.4 772.5C184.2 771.7 180.8 772.2 187.5 770.8C194.2 769.4 190.8 769.9 197.6 768.2C204.4 766.5 201.0 767.2 207.8 765.7C214.6 764.2 211.2 764.8 217.9 763.7C224.6 762.6 221.2 763.3 228.0 762.4C234.8 761.5 231.4 761.9 238.2 761.1C245.0 760.3 241.6 761.6 248.3 759.9C255.0 758.2 252.5 759.1 258.4 756.1C264.3 753.1 260.9 754.0 266.0 751.0C271.1 748.0 268.5 750.4 273.6 747.2C278.7 744.0 275.3 745.4 281.2 741.4C287.1 737.4 285.1 739.7 291.4 735.3C297.7 730.9 292.9 733.9 300.0 728.2C307.1 722.5 304.3 723.2 312.7 718.1C321.1 713.0 316.9 716.4 325.3 713.0C333.7 709.6 329.5 710.6 338.0 707.9C346.5 705.2 342.3 706.2 350.7 704.9C359.1 703.6 353.2 703.5 363.3 704.1C373.4 704.7 371.8 704.2 381.1 706.7C390.4 709.2 383.6 707.1 391.2 711.7C398.8 716.3 395.5 715.7 403.9 720.6C412.3 725.5 408.9 721.5 416.5 726.4C424.1 731.3 419.9 730.5 426.7 735.3C433.5 740.1 430.1 737.5 436.8 740.9C443.5 744.3 440.1 743.5 446.9 745.4C453.7 747.3 448.6 746.3 457.1 746.7C465.6 747.1 463.0 746.7 472.3 746.7C481.6 746.7 478.2 747.1 485.0 746.7C491.8 746.3 485.9 744.8 492.6 745.4C499.3 746.0 497.6 744.9 505.2 748.5C512.8 752.1 508.6 750.2 515.4 756.1C522.2 762.0 518.8 760.3 525.5 766.2C532.2 772.1 528.8 769.2 535.6 773.8C542.4 778.4 539.0 776.9 545.8 780.1C552.6 783.3 549.2 782.8 555.9 783.4C562.6 784.0 559.2 783.6 566.0 781.9C572.8 780.2 569.4 781.1 576.2 778.4C583.0 775.7 579.6 777.4 586.3 773.8C593.0 770.2 591.8 770.7 596.4 767.5C601.0 764.3 594.6 768.9 600.0 764.2C605.4 759.5 604.3 759.6 612.7 753.5C621.1 747.4 616.9 751.0 625.3 745.9C633.7 740.8 629.5 742.7 638.0 738.3C646.5 733.9 642.3 737.0 650.7 732.8C659.1 728.6 654.0 730.6 663.3 725.7C672.6 720.8 668.4 722.2 678.5 718.1C688.6 714.0 684.4 716.5 693.7 713.5C703.0 710.5 697.9 711.7 706.4 709.2C714.9 706.7 710.7 706.7 719.1 705.9C727.5 705.1 724.1 706.7 731.7 706.7C739.3 706.7 735.1 707.0 741.9 705.9C748.7 704.8 744.4 705.3 752.0 703.4C759.6 701.5 756.2 702.2 764.7 700.3C773.2 698.4 767.3 698.6 777.4 697.8C787.5 697.0 785.0 697.4 795.1 697.8C805.2 698.2 799.4 698.3 807.8 699.1C816.2 699.9 812.0 699.2 820.4 700.3C828.8 701.4 825.5 702.4 833.1 702.4C840.7 702.4 835.6 701.7 843.2 700.3C850.8 698.9 847.4 699.8 855.9 698.3C864.4 696.8 861.0 697.0 868.6 695.8C876.2 694.6 871.1 695.0 878.7 694.8C886.3 694.6 884.3 693.8 891.4 695.3C898.5 696.8 891.4 696.1 900.0 699.4C908.6 702.7 905.7 701.8 917.2 705.2C928.7 708.6 923.0 706.6 934.5 709.5C946.0 712.4 943.1 711.4 951.7 713.8C960.3 716.2 951.8 715.3 960.4 716.7C969.0 718.1 964.7 717.1 977.6 718.1C990.5 719.1 988.7 717.5 999.2 719.6C1009.7 721.7 1001.1 720.6 1009.2 724.4C1017.3 728.2 1013.1 727.2 1023.6 731.0C1034.1 734.8 1032.2 732.5 1040.8 735.9C1049.4 739.3 1043.5 737.6 1049.5 741.1C1055.5 744.6 1055.6 744.6 1058.7 746.3" fill="none" stroke="#4a3fd0" stroke-width="1.4" stroke-linejoin="round" stroke-linecap="round" />
<path d="M13.9 735.3C15.6 736.9 17.0 737.6 20.3 741.4C23.6 745.2 23.1 745.5 26.3 749.7C29.5 753.9 29.3 754.1 32.4 757.3C35.5 760.5 33.8 759.8 38.0 761.6C42.2 763.4 43.0 762.2 48.1 764.2C53.2 766.2 51.6 766.8 57.0 769.2C62.4 771.6 62.7 771.9 68.4 773.3C74.1 774.7 73.4 772.7 78.5 774.3C83.6 775.9 83.3 777.5 87.4 779.4C91.5 781.3 90.0 781.0 93.7 781.4C97.4 781.8 96.6 781.9 101.3 780.9C106.0 779.9 107.3 778.8 111.5 777.6C115.7 776.4 114.0 776.1 117.0 776.3C120.0 776.5 120.0 776.7 122.9 778.4C125.8 780.1 124.9 781.9 127.9 782.7C130.9 783.5 130.9 782.5 134.3 781.4C137.7 780.3 137.2 779.8 140.6 778.4C144.0 777.0 143.9 777.5 146.9 776.3C149.9 775.1 149.0 775.0 152.0 773.8C155.0 772.6 154.9 773.0 158.3 771.8C161.7 770.6 161.5 769.5 164.7 769.2C167.9 768.9 167.1 770.8 170.3 770.5C173.5 770.2 173.4 769.0 176.6 768.2C179.8 767.4 179.2 767.7 182.4 767.5C185.6 767.3 185.3 768.4 188.7 767.5C192.1 766.6 191.7 766.0 195.1 764.2C198.5 762.4 198.0 762.1 201.4 760.6C204.8 759.1 204.4 759.1 207.8 758.6C211.2 758.1 210.7 758.5 214.1 758.6C217.5 758.7 217.0 758.6 220.4 759.1C223.8 759.6 223.4 760.3 226.8 760.4C230.2 760.5 229.0 760.4 233.1 759.4C237.2 758.4 237.9 758.6 242.0 756.6C246.1 754.6 245.1 754.3 248.3 751.8C251.5 749.3 250.7 750.0 254.1 747.2C257.5 744.4 257.5 744.1 261.0 741.4C264.5 738.7 263.9 739.6 267.3 737.1C270.7 734.6 270.6 734.7 273.6 732.0C276.6 729.3 275.7 729.6 278.7 726.9C281.7 724.2 281.7 724.1 285.0 721.9C288.3 719.7 287.5 720.3 290.9 718.6C294.3 716.9 294.7 717.4 297.7 715.5C300.7 713.6 299.4 714.5 302.0 711.5C304.6 708.5 304.4 707.2 307.6 704.1C310.8 701.0 309.8 701.1 313.9 699.8C318.0 698.5 318.1 699.4 322.8 699.1C327.5 698.8 327.6 698.3 331.7 698.6C335.8 698.9 332.9 699.8 338.0 700.3C343.1 700.8 345.0 700.3 350.7 700.3C356.4 700.3 355.4 699.3 359.5 700.3C363.6 701.3 362.2 701.7 365.9 704.1C369.6 706.5 368.8 706.5 373.5 709.2C378.2 711.9 379.5 711.6 383.6 714.3C387.7 717.0 384.8 714.9 388.7 719.3C392.6 723.7 393.7 724.9 398.3 730.7C402.9 736.5 401.8 737.2 405.9 740.9C410.0 744.6 409.4 742.4 413.5 744.7C417.6 747.0 417.0 747.4 421.1 749.7C425.2 752.0 424.0 752.3 428.7 753.5C433.4 754.7 433.4 754.1 438.8 754.3C444.2 754.5 444.2 754.8 448.9 754.3C453.6 753.8 451.8 753.8 456.5 752.3C461.2 750.8 460.6 750.3 466.7 748.5C472.8 746.7 473.3 746.9 479.4 745.4C485.5 743.9 484.8 742.1 489.5 742.9C494.2 743.7 492.4 745.0 497.1 748.5C501.8 752.0 502.5 751.0 507.2 756.1C511.9 761.2 510.7 761.1 514.8 767.5C518.9 773.9 518.3 774.4 522.4 780.1C526.5 785.8 525.9 785.3 530.0 789.0C534.1 792.7 533.9 792.6 537.6 794.1C541.3 795.6 540.5 795.1 543.9 794.6C547.3 794.1 546.6 794.6 550.3 792.1C554.0 789.6 553.8 789.1 557.9 785.2C562.0 781.3 560.8 781.3 565.5 777.6C570.2 773.9 570.9 774.7 575.6 771.3C580.3 767.9 578.5 769.3 583.2 764.9C587.9 760.5 588.9 759.5 593.4 754.8C597.9 750.1 596.2 751.7 600.0 747.2C603.8 742.7 602.9 741.0 607.6 737.8C612.3 734.6 611.6 737.5 617.7 735.3C623.8 733.1 623.6 732.4 630.4 729.5C637.2 726.6 636.4 728.3 643.1 724.4C649.8 720.5 649.0 719.1 655.7 715.0C662.4 710.9 663.0 711.2 668.4 709.2C673.8 707.2 671.3 708.1 676.0 707.4C680.7 706.7 681.4 707.2 686.1 706.7C690.8 706.2 689.6 706.5 693.7 705.4C697.8 704.3 696.8 703.8 701.3 702.4C705.8 701.0 706.5 700.0 710.7 700.3C714.9 700.6 713.6 701.5 717.0 703.4C720.4 705.3 720.1 706.3 723.4 707.4C726.7 708.5 724.6 708.1 729.2 707.4C733.8 706.7 735.2 706.8 740.6 704.9C746.0 703.0 744.8 702.7 749.5 700.3C754.2 697.9 754.2 697.5 758.3 695.8C762.4 694.1 761.2 694.0 764.7 694.0C768.2 694.0 768.1 694.8 771.5 695.8C774.9 696.8 771.1 697.3 777.4 697.8C783.7 698.3 788.7 697.1 795.1 697.8C801.5 698.5 798.0 699.1 801.4 700.3C804.8 701.5 803.1 701.2 807.8 702.4C812.5 703.6 814.5 704.2 819.2 704.9C823.9 705.6 821.8 706.0 825.5 704.9C829.2 703.8 828.4 703.4 833.1 700.8C837.8 698.2 837.5 696.9 843.2 695.3C848.9 693.7 849.2 695.8 854.6 694.8C860.0 693.8 858.6 692.9 863.5 691.5C868.4 690.1 869.0 689.4 873.1 689.7C877.2 690.0 875.5 690.7 878.7 692.7C881.9 694.7 880.9 694.3 885.0 697.3C889.1 700.3 889.9 701.5 893.9 704.1C897.9 706.7 896.1 705.9 900.0 707.2C903.9 708.5 904.4 708.9 908.6 708.9C912.8 708.9 911.2 706.4 915.8 707.2C920.4 708.0 920.5 710.0 925.9 711.8C931.3 713.6 931.3 712.5 935.9 713.8C940.5 715.1 938.9 714.2 943.1 716.7C947.3 719.2 947.1 721.8 951.7 723.3C956.3 724.8 955.0 722.9 960.4 722.4C965.8 721.9 965.8 721.4 971.9 721.6C978.0 721.8 977.7 723.8 983.4 723.3C989.1 722.8 989.2 719.8 993.4 719.6C997.6 719.4 995.7 719.0 999.2 722.4C1002.7 725.8 1002.2 727.9 1006.4 732.5C1010.6 737.1 1010.4 737.0 1015.0 739.7C1019.6 742.4 1016.7 741.8 1023.6 742.5C1030.5 743.2 1034.7 740.0 1040.8 742.5C1046.9 745.0 1043.1 748.2 1046.6 752.0C1050.1 755.8 1050.6 754.8 1053.8 756.9C1057.0 759.0 1057.4 759.0 1058.7 759.8" fill="none" stroke="#000" stroke-width="2.0" stroke-linejoin="round" stroke-linecap="round" />
<line x1="12.5" x2="1194.5" y1="836.6" y2="836.6" stroke="#2e6b3a" stroke-width="1.35"/>
<line x1="12.5" x2="1194.5" y1="899.4" y2="899.4" stroke="#2e6b3a" stroke-width="1.35"/>
<line x1="12.5" x2="1194.5" y1="868.0" y2="868.0" stroke="#2e6b3a" stroke-width="1.25" stroke-dasharray="16.5,3.8,4.4,3.77" stroke-dashoffset="19.5"/>
<path d="M13.9 895.0C16.3 895.2 17.9 891.4 22.8 895.8C27.7 900.2 28.3 906.8 32.4 911.5C36.5 916.2 34.8 913.6 38.0 913.3C41.2 913.0 40.9 912.7 44.3 910.2C47.7 907.7 47.3 906.4 50.7 903.9C54.1 901.4 52.9 901.5 57.0 900.8C61.1 900.1 61.2 900.8 65.9 901.3C70.6 901.8 70.6 901.6 74.7 902.6C78.8 903.6 77.7 903.7 81.1 905.1C84.5 906.5 82.7 906.2 87.4 907.7C92.1 909.2 93.1 912.1 98.8 910.7C104.5 909.3 104.2 908.1 108.9 902.6C113.6 897.1 112.8 894.6 116.5 889.9C120.2 885.2 119.5 885.1 122.9 884.9C126.3 884.7 125.1 885.5 129.2 889.2C133.3 892.9 134.0 899.3 138.1 898.8C142.2 898.3 140.7 894.0 144.4 887.4C148.1 880.8 148.3 879.1 152.0 874.2C155.7 869.3 154.2 870.4 158.3 868.9C162.4 867.4 162.3 868.2 167.2 868.4C172.1 868.6 172.5 868.2 176.6 869.7C180.7 871.2 179.2 872.5 182.4 874.0C185.6 875.5 185.3 875.1 188.7 875.5C192.1 875.9 191.4 877.7 195.1 875.5C198.8 873.3 198.6 872.8 202.7 867.1C206.8 861.4 206.4 858.1 210.3 854.0C214.2 849.9 213.7 848.4 217.4 851.9C221.1 855.4 220.7 859.9 224.2 867.1C227.7 874.3 227.2 875.1 230.6 879.0C234.0 882.9 233.5 881.9 236.9 881.8C240.3 881.7 239.5 882.4 243.2 878.5C246.9 874.6 246.7 874.9 250.8 867.1C254.9 859.3 254.7 858.2 258.4 849.4C262.1 840.6 261.4 839.9 264.8 834.2C268.2 828.5 267.4 830.1 271.1 827.9C274.8 825.7 273.3 826.8 278.7 826.1C284.1 825.4 284.7 825.5 291.4 825.3C298.1 825.1 300.6 825.3 304.0 825.3" fill="none" stroke="#e03030" stroke-width="1.4" stroke-linejoin="round" stroke-linecap="round" />
<path d="M331.7 825.3C333.4 827.2 334.6 828.7 338.0 832.4C341.4 836.1 340.9 835.6 344.3 839.3C347.7 843.0 346.6 843.8 350.7 846.1C354.8 848.4 354.8 846.6 359.5 848.1C364.2 849.6 364.3 848.2 368.4 851.9C372.5 855.6 371.3 855.7 374.7 862.1C378.1 868.5 377.7 869.3 381.1 876.0C384.5 882.7 384.0 882.0 387.4 887.4C390.8 892.8 390.0 891.2 393.7 896.3C397.4 901.4 397.2 902.5 401.3 906.4C405.4 910.3 404.8 909.3 408.9 911.0C413.0 912.7 411.8 912.8 416.5 912.7C421.2 912.6 421.3 913.0 426.7 910.7C432.1 908.4 432.1 907.9 436.8 903.9C441.5 899.9 440.3 899.5 444.4 895.8C448.5 892.1 448.3 893.3 452.0 889.9C455.7 886.5 454.9 887.5 458.3 883.1C461.7 878.7 461.5 878.4 464.7 873.5C467.9 868.6 466.9 868.8 470.3 864.6C473.7 860.4 473.5 861.5 477.4 857.8C481.3 854.1 480.6 853.6 485.0 850.7C489.4 847.8 489.4 844.2 493.8 846.9C498.2 849.6 497.7 850.7 501.4 860.8C505.1 870.9 504.4 872.7 507.8 884.9C511.2 897.1 510.7 898.0 514.1 906.4C517.5 914.8 516.7 913.5 520.4 916.5C524.1 919.5 523.6 917.9 528.0 917.8C532.4 917.7 532.5 917.8 536.9 916.0C541.3 914.2 540.1 915.2 544.5 911.0C548.9 906.8 549.0 906.4 553.4 900.1C557.8 893.8 556.9 892.8 561.0 887.4C565.1 882.0 564.5 883.2 568.6 879.8C572.7 876.4 572.1 878.8 576.2 874.7C580.3 870.6 579.7 871.7 583.8 864.6C587.9 857.5 587.7 856.2 591.4 848.1C595.1 840.0 594.3 839.7 597.7 834.2C601.1 828.7 601.0 829.7 604.0 827.4C607.0 825.1 606.4 826.2 609.0 825.5C611.6 824.8 610.9 823.1 613.9 824.8C616.9 826.5 616.9 828.5 620.3 831.7C623.7 834.9 622.5 835.5 626.6 836.7C630.7 837.9 630.4 837.7 635.5 836.2C640.6 834.7 640.2 833.7 645.6 830.9C651.0 828.1 650.3 827.7 655.7 825.8C661.1 823.9 660.5 824.1 665.9 823.6C671.3 823.1 670.6 822.6 676.0 824.1C681.4 825.6 680.7 827.3 686.1 829.1C691.5 830.9 690.9 830.7 696.3 830.9C701.7 831.1 701.7 830.2 706.4 829.9C711.1 829.6 709.9 827.7 714.0 829.9C718.1 832.1 717.5 832.1 721.6 838.0C725.7 843.9 725.5 846.2 729.2 851.9C732.9 857.6 731.8 859.8 735.5 859.5C739.2 859.2 739.0 857.1 743.1 850.7C747.2 844.3 746.6 841.9 750.7 835.5C754.8 829.1 753.9 829.6 758.3 826.6C762.7 823.6 762.8 824.1 767.2 824.1C771.6 824.1 770.7 824.3 774.8 826.6C778.9 828.9 778.3 830.9 782.4 832.9C786.5 834.9 785.9 834.9 790.0 834.2C794.1 833.5 793.5 832.6 797.6 830.4C801.7 828.2 801.1 826.9 805.2 826.1C809.3 825.3 808.7 825.6 812.8 827.4C816.9 829.2 816.3 830.6 820.4 832.9C824.5 835.2 823.9 836.2 828.0 836.2C832.1 836.2 831.5 835.5 835.6 832.9C839.7 830.3 839.1 828.8 843.2 826.6C847.3 824.4 846.7 823.4 850.8 824.8C854.9 826.2 854.7 829.3 858.4 831.7C862.1 834.1 861.1 833.4 864.8 833.7C868.5 834.0 868.3 832.9 872.4 832.9C876.5 832.9 876.3 831.3 880.0 833.7C883.7 836.1 882.6 835.6 886.3 841.8C890.0 848.0 889.8 849.2 893.9 857.0C898.0 864.8 897.6 865.4 901.5 870.9C905.4 876.4 904.4 877.0 908.6 877.6C912.8 878.2 912.6 876.2 917.2 873.3C921.8 870.4 921.3 868.2 925.9 866.7C930.5 865.2 929.1 866.5 934.5 867.5C939.9 868.5 940.3 866.8 946.0 870.4C951.7 874.0 951.4 877.6 956.0 881.1C960.6 884.6 959.4 887.4 963.2 883.4C967.0 879.4 966.6 874.9 970.4 866.1C974.2 857.3 974.5 855.7 977.6 850.3C980.7 844.9 978.1 846.5 981.9 846.0C985.7 845.5 987.4 847.9 992.0 848.3C996.6 848.7 995.4 845.3 999.2 847.4C1003.0 849.5 1002.2 846.4 1006.4 856.0C1010.6 865.6 1010.8 871.9 1015.0 883.4C1019.2 894.9 1018.4 896.5 1022.2 899.2C1026.0 901.9 1025.5 897.6 1029.3 893.4C1033.1 889.2 1033.0 887.5 1036.5 883.4C1040.0 879.3 1039.2 878.6 1042.3 878.2C1045.4 877.8 1044.9 878.2 1048.0 881.9C1051.1 885.6 1050.9 887.2 1053.8 892.0C1056.7 896.8 1057.4 897.9 1058.7 900.0" fill="none" stroke="#e03030" stroke-width="1.4" stroke-linejoin="round" stroke-linecap="round" />
<path d="M13.9 889.2C14.5 890.7 19.1 901.4 20.3 903.9C21.5 906.4 25.1 912.8 26.3 914.0C27.5 915.2 31.2 916.3 32.4 916.0C33.6 915.7 36.8 912.2 38.0 911.0C39.2 909.8 43.0 905.7 44.3 904.4C45.6 903.1 49.4 898.5 50.7 898.0C52.0 897.5 55.9 899.3 57.0 899.6C58.1 899.9 61.0 900.2 62.1 900.8C63.2 901.3 67.1 904.7 68.4 905.1C69.7 905.5 73.4 904.1 74.7 904.4C76.0 904.7 79.9 907.8 81.1 908.4C82.3 909.0 85.8 909.9 86.9 910.2C88.0 910.5 91.3 911.6 92.5 911.5C93.7 911.4 97.5 910.2 98.8 908.9C100.1 907.6 103.9 900.8 105.1 898.8C106.3 896.8 109.6 890.6 110.7 888.7C111.8 886.9 115.3 880.7 116.5 880.3C117.7 879.9 121.6 882.7 122.9 884.9C124.2 887.1 128.0 900.6 129.2 902.6C130.4 904.6 133.9 906.9 135.0 905.1C136.1 903.3 139.4 888.3 140.6 884.9C141.8 881.5 145.8 872.7 146.9 870.9C148.0 869.1 150.9 866.8 152.0 866.6C153.1 866.4 157.1 868.9 158.3 868.9C159.5 868.9 163.0 866.6 164.2 867.1C165.4 867.6 169.1 873.5 170.3 874.0C171.5 874.5 175.4 871.9 176.6 872.2C177.8 872.5 181.2 877.1 182.4 877.3C183.6 877.5 187.4 874.5 188.7 874.2C190.0 873.9 193.8 876.1 195.1 874.2C196.4 872.4 200.3 858.7 201.4 855.7C202.5 852.7 205.4 845.1 206.5 844.3C207.6 843.5 211.5 845.7 212.8 848.1C214.1 850.5 218.1 865.0 219.2 868.4C220.3 871.8 223.1 880.7 224.2 882.3C225.3 883.9 229.3 884.6 230.6 884.4C231.9 884.2 235.7 881.6 236.9 880.6C238.1 879.6 241.6 876.4 242.7 874.7C243.8 873.0 247.2 866.2 248.3 863.3C249.4 860.4 253.0 848.9 254.1 845.6C255.2 842.3 258.6 832.3 259.7 830.4C260.8 828.5 263.7 827.0 264.8 826.6C265.9 826.2 269.8 826.8 271.1 826.6C272.4 826.4 276.1 825.0 277.4 824.8C278.7 824.6 282.5 824.7 283.8 824.8C285.1 824.9 288.8 825.5 290.1 825.8C291.4 826.1 295.3 827.5 296.4 827.4C297.5 827.3 301.0 825.1 301.5 824.8" fill="none" stroke="#000" stroke-width="2.0" stroke-linejoin="round" stroke-linecap="round" />
<path d="M326.6 824.8C327.1 825.1 330.6 825.9 331.7 827.4C332.8 828.9 336.7 837.5 338.0 839.3C339.3 841.1 343.0 844.0 344.3 845.1C345.6 846.2 349.4 850.6 350.7 850.7C352.0 850.8 355.9 846.4 357.0 846.1C358.1 845.8 361.0 846.1 362.1 847.6C363.2 849.1 367.1 858.0 368.4 860.8C369.7 863.6 373.4 873.1 374.7 876.0C376.0 878.9 379.9 888.1 381.1 889.9C382.3 891.7 385.8 892.7 386.9 893.7C388.0 894.7 391.3 898.6 392.5 900.1C393.7 901.6 397.6 907.5 398.8 908.9C400.0 910.3 403.2 913.6 404.4 914.0C405.6 914.4 409.5 913.0 410.7 912.7C411.9 912.5 415.3 911.8 416.5 911.5C417.7 911.2 421.6 910.7 422.9 910.2C424.2 909.7 428.0 907.8 429.2 906.9C430.4 906.0 433.9 902.9 435.0 901.3C436.1 899.7 439.5 891.9 440.6 890.7C441.7 889.5 445.3 889.7 446.4 889.2C447.5 888.7 450.8 886.9 452.0 885.4C453.2 883.9 457.0 876.9 458.3 874.7C459.6 872.5 463.5 865.1 464.7 863.3C465.9 861.4 469.1 857.3 470.3 856.2C471.5 855.1 475.4 852.7 476.6 851.9C477.8 851.1 481.2 849.3 482.4 848.1C483.6 846.9 487.0 839.4 488.2 840.0C489.4 840.6 493.3 850.1 494.6 854.5C495.9 858.9 500.2 878.4 501.4 883.6C502.6 888.8 505.4 903.2 506.5 906.4C507.6 909.6 511.5 914.0 512.8 915.3C514.1 916.6 517.9 918.9 519.2 919.1C520.5 919.4 524.4 918.1 525.5 917.8C526.6 917.5 529.5 917.0 530.6 916.5C531.7 916.0 535.7 913.5 536.9 912.7C538.1 911.9 541.6 909.5 542.7 908.4C543.8 907.3 547.2 903.1 548.3 901.3C549.4 899.5 552.9 892.8 554.1 890.7C555.3 888.6 559.3 882.1 560.5 880.6C561.7 879.1 564.8 876.5 566.0 876.0C567.2 875.5 571.2 876.5 572.4 875.5C573.6 874.5 577.0 868.1 578.2 865.9C579.4 863.7 583.1 856.5 584.3 853.2C585.5 849.9 588.9 835.6 590.1 832.9C591.3 830.2 595.1 827.5 596.4 826.6C597.7 825.7 601.7 823.9 602.8 823.6C603.9 823.3 606.5 822.9 607.6 823.6C608.7 824.3 612.6 829.1 613.9 830.4C615.2 831.7 619.0 835.9 620.3 836.7C621.6 837.5 625.3 838.2 626.6 838.0C627.9 837.8 631.6 835.1 632.9 834.2C634.2 833.3 638.0 829.8 639.3 829.1C640.6 828.4 644.3 827.9 645.6 827.4C646.9 826.9 650.6 825.0 651.9 824.6C653.2 824.2 657.2 823.7 658.3 823.6C659.4 823.5 662.2 823.9 663.3 823.6C664.4 823.3 668.4 820.3 669.7 820.3C671.0 820.3 674.9 822.6 676.0 823.3C677.1 824.0 680.0 826.7 681.1 827.4C682.2 828.1 686.2 829.9 687.4 830.4C688.6 830.9 692.0 833.1 693.2 832.9C694.4 832.6 698.1 828.2 699.3 827.9C700.5 827.6 704.0 830.1 705.1 829.9C706.2 829.7 709.5 825.2 710.7 826.1C711.9 827.0 715.7 836.5 717.0 839.3C718.3 842.1 722.2 852.0 723.4 854.5C724.6 857.0 728.0 864.5 729.2 864.6C730.4 864.7 734.3 858.1 735.5 855.7C736.7 853.3 740.2 843.5 741.4 840.5C742.6 837.5 746.5 827.6 747.7 826.1C748.9 824.6 752.1 826.1 753.3 825.8C754.5 825.5 758.4 823.6 759.6 823.3C760.8 822.9 764.0 821.8 765.2 822.3C766.4 822.8 770.3 826.8 771.5 827.9C772.7 829.0 776.2 832.7 777.4 833.7C778.6 834.7 782.5 838.2 783.7 838.0C784.9 837.8 788.4 832.8 789.5 831.7C790.6 830.6 793.9 828.2 795.1 827.4C796.3 826.6 800.1 823.6 801.4 823.6C802.7 823.6 806.6 826.6 807.8 827.4C809.0 828.2 812.4 830.8 813.6 831.7C814.8 832.6 818.7 835.7 819.9 836.2C821.1 836.7 824.4 836.9 825.5 836.7C826.6 836.5 830.0 835.3 831.1 834.2C832.2 833.1 835.7 826.7 836.9 825.3C838.1 823.9 842.0 820.0 843.2 820.3C844.4 820.6 847.9 826.3 849.0 827.9C850.1 829.5 853.4 835.3 854.6 836.2C855.8 837.1 859.8 837.1 861.0 836.7C862.2 836.3 865.6 833.1 866.8 832.4C868.0 831.7 871.9 829.2 873.1 829.9C874.3 830.6 877.5 837.1 878.7 839.3C879.9 841.5 883.8 849.5 885.0 851.9C886.2 854.3 889.6 860.9 890.9 863.3C892.2 865.7 896.4 874.0 897.7 876.0C899.0 878.0 902.5 882.6 903.5 883.1C904.5 883.6 906.1 882.1 907.2 880.5C908.3 878.9 913.0 869.4 914.4 867.5C915.8 865.6 920.2 861.7 921.6 861.8C923.0 861.9 927.4 867.5 928.7 868.4C930.0 869.3 932.9 870.2 934.5 870.4C936.1 870.6 942.9 868.2 944.6 870.4C946.3 872.6 950.4 890.4 951.7 892.0C953.0 893.6 956.4 887.9 957.5 886.2C958.6 884.5 962.1 878.9 963.2 874.7C964.4 870.5 967.8 847.9 969.0 844.6C970.2 841.3 974.1 841.0 975.3 841.7C976.5 842.4 980.1 851.0 981.3 851.7C982.5 852.4 986.5 849.5 987.7 848.9C988.9 848.3 992.2 845.5 993.4 845.4C994.5 845.2 998.1 844.6 999.2 847.4C1000.4 850.2 1003.7 868.1 1004.9 873.3C1006.1 878.5 1010.0 896.2 1011.2 899.2C1012.4 902.2 1016.1 904.2 1017.3 903.5C1018.5 902.8 1022.3 894.2 1023.6 892.0C1024.9 889.8 1028.7 883.4 1029.9 881.9C1031.1 880.4 1034.6 877.5 1035.7 877.0C1036.8 876.5 1039.7 875.9 1040.8 877.0C1041.9 878.1 1045.4 885.3 1046.6 887.7C1047.8 890.1 1051.1 898.6 1052.3 900.6C1053.5 902.6 1058.1 907.1 1058.7 907.8" fill="none" stroke="#000" stroke-width="2.0" stroke-linejoin="round" stroke-linecap="round" />
<rect x="13.6" y="47.2" width="142" height="17" fill="#f5f6ce"/>
<path d="M16.9 60.8 L23.1 49.8 L26.6 57.1 L29.3 52.8 L29.3 60.8 Z" fill="#000" stroke="#3a22cc" stroke-width="1" stroke-linejoin="round"/>
<text transform="translate(36.0 61.7) scale(1.150 1)" font-size="14.4" fill="#000" textLength="101.9" lengthAdjust="spacing" >RSI(14) 39.99</text>
<rect x="13.6" y="173" width="194" height="17" fill="#f5f6ce"/>
<rect x="13.6" y="190" width="118" height="50" fill="#f5f6ce"/>
<path d="M18.65 175.5V184.3 M16.3 177.5H18.65 M18.65 182.1H20.7 M23.2 179.9V188.5 M21 186.7H25.4 M27.7 175.5V185.6 M25.5 183.5H27.7 M27.7 180.4H29.9" stroke="#000" stroke-width="1.7" fill="none"/>
<text transform="translate(35.6 187.0) scale(1.150 1)" font-size="14.4" fill="#000" textLength="147.4" lengthAdjust="spacing" >$USD (Daily) 104.42</text>
<line x1="16.6" x2="29.9" y1="198.5" y2="198.5" stroke="#1c1c9c" stroke-width="2.6"/>
<text x="32.6" y="203.7" font-size="15.4" fill="#1c1c9c" textLength="95.5" lengthAdjust="spacingAndGlyphs" >MA(50) 105.63</text>
<line x1="16.6" x2="29.9" y1="215.1" y2="215.1" stroke="#c8203a" stroke-width="2.6"/>
<text x="32.6" y="220.3" font-size="15.4" fill="#c8203a" textLength="103.5" lengthAdjust="spacingAndGlyphs" >MA(200) 103.42</text>
<line x1="16.6" x2="29.9" y1="231.7" y2="231.7" stroke="#2c6a1c" stroke-width="2.6"/>
<text x="32.6" y="236.9" font-size="15.4" fill="#2c6a1c" textLength="95.5" lengthAdjust="spacingAndGlyphs" >MA(10) 105.03</text>
<rect x="17.2" y="562.9" width="4.4" height="5.9" fill="#a9a98c" stroke="#555" stroke-width="1.3"/>
<rect x="21.8" y="556.6" width="3.9" height="12.1" fill="#a9a98c" stroke="#555" stroke-width="1.3"/>
<rect x="25.9" y="559.6" width="4.2" height="9.1" fill="#a9a98c" stroke="#555" stroke-width="1.3"/>
<text transform="translate(34.4 568.8) scale(1.150 1)" font-size="14.4" fill="#000" textLength="101.7" lengthAdjust="spacing" >Volume undef</text>
<line x1="17.3" x2="29.3" y1="689" y2="689" stroke="#000" stroke-width="2.8"/>
<text transform="translate(35.6 695.0) scale(1.150 1)" font-size="14.4" fill="#000" textLength="162.2" lengthAdjust="spacing" >MACD(12,26,9) -0.307</text>
<text transform="translate(225.5 695.0) scale(1.150 1)" font-size="14.4" fill="#3535d0" textLength="55.7" lengthAdjust="spacing" >, -0.102</text>
<text transform="translate(292.7 695.0) scale(1.150 1)" font-size="14.4" fill="#888" textLength="56.5" lengthAdjust="spacing" >, -0.205</text>
<rect x="137" y="807" width="228" height="15" fill="#f5f6ce"/>
<text transform="translate(138.5 820.8) scale(1.150 1)" font-size="14.4" fill="#000" textLength="147.8" lengthAdjust="spacing" >(14,3) %D(3) 11.86,</text>
<text transform="translate(316.0 820.8) scale(1.150 1)" font-size="14.4" fill="#e02020" textLength="40.0" lengthAdjust="spacing" >18.90</text>
<rect x="12.7" y="805" width="124.3" height="23" fill="#c8c8c8"/>
<text x="16.5" y="821.5" font-size="12.8" fill="#2a2a2a" textLength="116.0" lengthAdjust="spacingAndGlyphs" >29 Dec Y:-0.3463</text>
<line x1="1194.5" x2="1197.7" y1="66.3" y2="66.3" stroke="#c9c99b" stroke-width="1"/>
<text x="1199.2" y="70.6" font-size="14.1" fill="#000" textLength="17.6" lengthAdjust="spacingAndGlyphs" >90</text>
<line x1="1194.5" x2="1197.7" y1="87.2" y2="87.2" stroke="#c9c99b" stroke-width="1"/>
<text x="1199.2" y="91.5" font-size="14.1" fill="#000" textLength="17.6" lengthAdjust="spacingAndGlyphs" >70</text>
<line x1="1194.5" x2="1197.7" y1="108.1" y2="108.1" stroke="#c9c99b" stroke-width="1"/>
<text x="1199.2" y="112.4" font-size="14.1" fill="#000" textLength="17.6" lengthAdjust="spacingAndGlyphs" >50</text>
<line x1="1194.5" x2="1197.7" y1="129.0" y2="129.0" stroke="#c9c99b" stroke-width="1"/>
<text x="1199.2" y="133.3" font-size="14.1" fill="#000" textLength="17.6" lengthAdjust="spacingAndGlyphs" >30</text>
<line x1="1194.5" x2="1197.7" y1="149.9" y2="149.9" stroke="#c9c99b" stroke-width="1"/>
<text x="1199.2" y="154.2" font-size="14.1" fill="#000" textLength="17.6" lengthAdjust="spacingAndGlyphs" >10</text>
<line x1="1194.5" x2="1197.7" y1="510.5" y2="510.5" stroke="#c9c99b" stroke-width="1"/>
<text x="1208.4" y="514.8" font-size="14.1" fill="#000" textLength="30.4" lengthAdjust="spacingAndGlyphs" >99.5</text>
<line x1="1194.5" x2="1197.7" y1="488.8" y2="488.8" stroke="#c9c99b" stroke-width="1"/>
<text x="1200.4" y="493.1" font-size="14.1" fill="#000" textLength="38.4" lengthAdjust="spacingAndGlyphs" >100.0</text>
<line x1="1194.5" x2="1197.7" y1="467.1" y2="467.1" stroke="#c9c99b" stroke-width="1"/>
<text x="1200.4" y="471.4" font-size="14.1" fill="#000" textLength="38.4" lengthAdjust="spacingAndGlyphs" >100.5</text>
<line x1="1194.5" x2="1197.7" y1="445.4" y2="445.4" stroke="#c9c99b" stroke-width="1"/>
<text x="1200.4" y="449.7" font-size="14.1" fill="#000" textLength="38.4" lengthAdjust="spacingAndGlyphs" >101.0</text>
<line x1="1194.5" x2="1197.7" y1="423.7" y2="423.7" stroke="#c9c99b" stroke-width="1"/>
<text x="1200.4" y="428.0" font-size="14.1" fill="#000" textLength="38.4" lengthAdjust="spacingAndGlyphs" >101.5</text>
<line x1="1194.5" x2="1197.7" y1="402.0" y2="402.0" stroke="#c9c99b" stroke-width="1"/>
<text x="1200.4" y="406.3" font-size="14.1" fill="#000" textLength="38.4" lengthAdjust="spacingAndGlyphs" >102.0</text>
<line x1="1194.5" x2="1197.7" y1="380.3" y2="380.3" stroke="#c9c99b" stroke-width="1"/>
<text x="1200.4" y="384.6" font-size="14.1" fill="#000" textLength="38.4" lengthAdjust="spacingAndGlyphs" >102.5</text>
<line x1="1194.5" x2="1197.7" y1="358.6" y2="358.6" stroke="#c9c99b" stroke-width="1"/>
<text x="1200.4" y="362.9" font-size="14.1" fill="#000" textLength="38.4" lengthAdjust="spacingAndGlyphs" >103.0</text>
<line x1="1194.5" x2="1197.7" y1="315.2" y2="315.2" stroke="#c9c99b" stroke-width="1"/>
<text x="1200.4" y="319.5" font-size="14.1" fill="#000" textLength="38.4" lengthAdjust="spacingAndGlyphs" >104.0</text>
<line x1="1194.5" x2="1197.7" y1="250.1" y2="250.1" stroke="#c9c99b" stroke-width="1"/>
<text x="1200.4" y="254.4" font-size="14.1" fill="#000" textLength="38.4" lengthAdjust="spacingAndGlyphs" >105.5</text>
<line x1="1194.5" x2="1197.7" y1="228.4" y2="228.4" stroke="#c9c99b" stroke-width="1"/>
<text x="1200.4" y="232.7" font-size="14.1" fill="#000" textLength="38.4" lengthAdjust="spacingAndGlyphs" >106.0</text>
<line x1="1194.5" x2="1197.7" y1="206.7" y2="206.7" stroke="#c9c99b" stroke-width="1"/>
<text x="1200.4" y="211.0" font-size="14.1" fill="#000" textLength="38.4" lengthAdjust="spacingAndGlyphs" >106.5</text>
<line x1="1194.5" x2="1197.7" y1="185.0" y2="185.0" stroke="#c9c99b" stroke-width="1"/>
<text x="1200.4" y="189.3" font-size="14.1" fill="#000" textLength="38.4" lengthAdjust="spacingAndGlyphs" >107.0</text>
<line x1="1194.5" x2="1196.3" y1="798.9" y2="798.9" stroke="#c9c99b" stroke-width="1"/>
<line x1="1194.5" x2="1196.3" y1="792.2" y2="792.2" stroke="#c9c99b" stroke-width="1"/>
<line x1="1194.5" x2="1196.3" y1="785.6" y2="785.6" stroke="#c9c99b" stroke-width="1"/>
<line x1="1194.5" x2="1196.3" y1="778.9" y2="778.9" stroke="#c9c99b" stroke-width="1"/>
<line x1="1194.5" x2="1196.3" y1="772.2" y2="772.2" stroke="#c9c99b" stroke-width="1"/>
<line x1="1194.5" x2="1196.3" y1="765.5" y2="765.5" stroke="#c9c99b" stroke-width="1"/>
<line x1="1194.5" x2="1196.3" y1="758.8" y2="758.8" stroke="#c9c99b" stroke-width="1"/>
<line x1="1194.5" x2="1196.3" y1="752.2" y2="752.2" stroke="#c9c99b" stroke-width="1"/>
<line x1="1194.5" x2="1196.3" y1="745.5" y2="745.5" stroke="#c9c99b" stroke-width="1"/>
<line x1="1194.5" x2="1196.3" y1="738.8" y2="738.8" stroke="#c9c99b" stroke-width="1"/>
<line x1="1194.5" x2="1196.3" y1="732.1" y2="732.1" stroke="#c9c99b" stroke-width="1"/>
<line x1="1194.5" x2="1196.3" y1="725.4" y2="725.4" stroke="#c9c99b" stroke-width="1"/>
<line x1="1194.5" x2="1196.3" y1="718.8" y2="718.8" stroke="#c9c99b" stroke-width="1"/>
<line x1="1194.5" x2="1196.3" y1="712.1" y2="712.1" stroke="#c9c99b" stroke-width="1"/>
<line x1="1194.5" x2="1196.3" y1="705.4" y2="705.4" stroke="#c9c99b" stroke-width="1"/>
<line x1="1194.5" x2="1196.3" y1="698.7" y2="698.7" stroke="#c9c99b" stroke-width="1"/>
<line x1="1194.5" x2="1196.3" y1="692.0" y2="692.0" stroke="#c9c99b" stroke-width="1"/>
<line x1="1194.5" x2="1196.3" y1="685.4" y2="685.4" stroke="#c9c99b" stroke-width="1"/>
<line x1="1194.5" x2="1197.7" y1="705.4" y2="705.4" stroke="#c9c99b" stroke-width="1"/>
<text x="1204.0" y="709.7" font-size="14.1" fill="#000" textLength="21.4" lengthAdjust="spacingAndGlyphs" >0.5</text>
<line x1="1194.5" x2="1197.7" y1="738.8" y2="738.8" stroke="#c9c99b" stroke-width="1"/>
<text x="1204.0" y="743.1" font-size="14.1" fill="#000" textLength="21.4" lengthAdjust="spacingAndGlyphs" >0.0</text>
<line x1="1194.5" x2="1197.7" y1="772.2" y2="772.2" stroke="#c9c99b" stroke-width="1"/>
<text x="1199.0" y="776.5" font-size="14.1" fill="#000" textLength="26.4" lengthAdjust="spacingAndGlyphs" >-0.5</text>
<line x1="1194.5" x2="1197.7" y1="836.6" y2="836.6" stroke="#c9c99b" stroke-width="1"/>
<text x="1199.2" y="840.9" font-size="14.1" fill="#000" textLength="17.6" lengthAdjust="spacingAndGlyphs" >80</text>
<line x1="1194.5" x2="1197.7" y1="868.0" y2="868.0" stroke="#c9c99b" stroke-width="1"/>
<text x="1199.2" y="872.3" font-size="14.1" fill="#000" textLength="17.6" lengthAdjust="spacingAndGlyphs" >50</text>
<line x1="1194.5" x2="1197.7" y1="899.4" y2="899.4" stroke="#c9c99b" stroke-width="1"/>
<text x="1199.2" y="903.7" font-size="14.1" fill="#000" textLength="17.6" lengthAdjust="spacingAndGlyphs" >20</text>
<path d="M1191.0 119.3L1196.4 111.9L1241.1 111.9L1241.1 126.7L1196.4 126.7Z" fill="#fff" stroke="#3a3acc" stroke-width="1.5"/>
<text x="1198.2" y="124.1" font-size="13.4" fill="#000" textLength="39.0" lengthAdjust="spacingAndGlyphs" >39.99</text>
<path d="M1191.0 243.8L1196.4 236.4L1250.4 236.4L1250.4 251.2L1196.4 251.2Z" fill="#fff" stroke="#2a2a9a" stroke-width="1.5"/>
<text x="1198.2" y="248.6" font-size="13.4" fill="#000" textLength="48.0" lengthAdjust="spacingAndGlyphs" >105.63</text>
<path d="M1191.0 269.2L1196.4 261.8L1250.4 261.8L1250.4 276.6L1196.4 276.6Z" fill="#fff" stroke="#3d7a2a" stroke-width="1.5"/>
<text x="1198.2" y="274.0" font-size="13.4" fill="#000" textLength="48.0" lengthAdjust="spacingAndGlyphs" >105.03</text>
<path d="M1191.0 338.4L1196.4 331.0L1250.4 331.0L1250.4 345.8L1196.4 345.8Z" fill="#fff" stroke="#c8283e" stroke-width="1.5"/>
<text x="1198.2" y="343.2" font-size="13.4" fill="#000" textLength="48.0" lengthAdjust="spacingAndGlyphs" >103.42</text>
<path d="M1191.0 295.4L1196.4 287.1L1250.4 287.1L1250.4 303.7L1196.4 303.7Z" fill="#fff" stroke="#000" stroke-width="1.5"/>
<text x="1198.2" y="300.2" font-size="14" fill="#000" font-weight="bold" textLength="49.0" lengthAdjust="spacingAndGlyphs" >104.42</text>
<path d="M1191.0 743.9L1196.4 736.5L1245.8 736.5L1245.8 751.3L1196.4 751.3Z" fill="#fff" stroke="#4a3fd0" stroke-width="1.5"/>
<text x="1198.2" y="748.7" font-size="13.4" fill="#000" textLength="45.5" lengthAdjust="spacingAndGlyphs" >-0.102</text>
<path d="M1191.0 759.2L1196.4 751.8L1245.8 751.8L1245.8 766.6L1196.4 766.6Z" fill="#fff" stroke="#000" stroke-width="1.5"/>
<text x="1198.2" y="764.0" font-size="13.4" fill="#000" textLength="45.5" lengthAdjust="spacingAndGlyphs" >-0.307</text>
<path d="M1191.0 899.6L1196.4 892.2L1240.9 892.2L1240.9 907.0L1196.4 907.0Z" fill="#fff" stroke="#e03030" stroke-width="1.5"/>
<text x="1198.2" y="904.4" font-size="13.4" fill="#000" textLength="39.0" lengthAdjust="spacingAndGlyphs" >18.90</text>
<path d="M1191.0 907.5L1196.4 900.1L1240.9 900.1L1240.9 914.9L1196.4 914.9Z" fill="#fff" stroke="#000" stroke-width="1.5"/>
<text x="1198.2" y="912.3" font-size="13.4" fill="#000" textLength="39.0" lengthAdjust="spacingAndGlyphs" >11.86</text>
<text x="13.0" y="23.8" font-size="19.5" fill="#000" font-weight="bold" textLength="48.8" lengthAdjust="spacingAndGlyphs" >$USD</text>
<text x="68.4" y="23.1" font-size="16.2" fill="#000" textLength="162.0" lengthAdjust="spacingAndGlyphs" >US Dollar - Cash Settle</text>
<text x="239.4" y="22.2" font-size="12.4" fill="#000" textLength="51.0" lengthAdjust="spacingAndGlyphs" >FOREX</text>
<text x="13.0" y="42.4" font-size="14" fill="#000" textLength="145.7" lengthAdjust="spacingAndGlyphs" >16-Nov-2023 1:46am</text>
<text x="628.3" y="42.3" font-size="15.8" fill="#000" font-weight="bold" textLength="42.8" lengthAdjust="spacingAndGlyphs" >Open</text>
<text x="678.2" y="42.3" font-size="14.3" fill="#000" textLength="47.5" lengthAdjust="spacingAndGlyphs" >104.33</text>
<text x="735.7" y="42.3" font-size="15.8" fill="#000" font-weight="bold" textLength="35.1" lengthAdjust="spacingAndGlyphs" >High</text>
<text x="778.0" y="42.3" font-size="14.3" fill="#000" textLength="47.5" lengthAdjust="spacingAndGlyphs" >104.44</text>
<text x="835.0" y="42.3" font-size="15.8" fill="#000" font-weight="bold" textLength="33.9" lengthAdjust="spacingAndGlyphs" >Low</text>
<text x="876.5" y="42.3" font-size="14.3" fill="#000" textLength="47.4" lengthAdjust="spacingAndGlyphs" >104.33</text>
<text x="933.9" y="42.3" font-size="15.8" fill="#000" font-weight="bold" textLength="34.5" lengthAdjust="spacingAndGlyphs" >Last</text>
<text x="975.3" y="42.3" font-size="14.3" fill="#000" textLength="47.7" lengthAdjust="spacingAndGlyphs" >104.42</text>
<text x="1032.8" y="42.3" font-size="15.8" fill="#000" font-weight="bold" textLength="31.9" lengthAdjust="spacingAndGlyphs" >Chg</text>
<text x="1070.2" y="42.3" font-size="14.3" fill="#000" textLength="108.6" lengthAdjust="spacingAndGlyphs" >+0.15 (+0.15%)</text>
<polygon points="1183,40.3 1193.2,40.3 1188.1,34.4" fill="#3f7f2f"/>
<text x="1059.5" y="22.3" font-size="14.6" fill="#555" textLength="134.3" lengthAdjust="spacingAndGlyphs" >© StockCharts.com</text>
</g>
<rect x="0" y="0" width="1263" height="1" fill="#6e6e6e"/><rect x="0" y="1" width="1263" height="1" fill="#8c8c8c"/><rect x="0" y="2" width="1263" height="1" fill="#b4b4b4"/>
<rect x="0" y="953" width="1263" height="2.7" fill="#a2a2a2"/><rect x="0" y="955.6" width="1263" height="1.4" fill="#000"/>
<rect x="1262" y="0" width="1" height="957" fill="#000"/>
<circle cx="1259" cy="6" r="17" fill="#555" opacity="0.55"/><circle cx="1259" cy="6" r="16" fill="#484848"/><circle cx="1259" cy="6" r="13" fill="#333"/><circle cx="1259" cy="6" r="13" fill="none" stroke="#eee" stroke-width="1.6"/>
<path d="M1254.6 -2.8L1263.4 15 M1263.4 -2.8L1254.6 15" stroke="#fff" stroke-width="2.6"/>
<rect x="1262" y="0" width="1" height="30" fill="#000"/>
</svg></body></html>
